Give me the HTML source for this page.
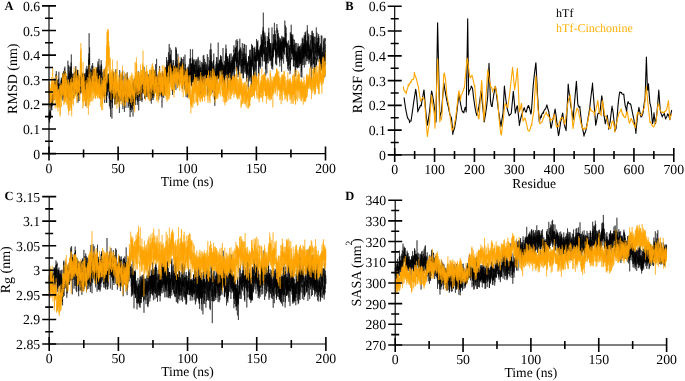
<!DOCTYPE html><html><head><meta charset="utf-8"><style>html,body{margin:0;padding:0;background:#fff;overflow:hidden}svg{display:block;will-change:transform}text{font-family:"Liberation Serif",serif;text-rendering:geometricPrecision}</style></head><body><svg width="685" height="381" viewBox="0 0 685 381">
<rect width="685" height="381" fill="#fff"/>
<g font-size="13.8" fill="#000">
<path transform="scale(.1)" d="M490 1201l1-51 0-14 1 55 0 6 1 7 1-39 0 7 1-30 1 84 0-104 1 27 0-23 1 21 1 13 0-31 1-26 1 29 0 3 1-34 0 47 1 36 1-67 0 19 1 52 1-30 0-27 1 18 0 15 1-61 1-55 0 25 1 27 1-41 0-30 1 30 0-29 1-33 1 40 0 36 1-42 1-12 0-42 1 87 0-4 1 4 1 40 0-72 1-42 1 43 0-83 1-1 0 6 1 10 1-24 0 96 1-61 1-19 0 102 1-69 0 6 1-49 1 43 0-10 1-21 1 51 0-56 1 14 0-26 1 39 1-67 0 2 1 37 1-29 0-43 1-41 0 153 1-79 1-4 0 26 1 53 1-103 0 97 1-67 0-60 1 131 1-30 0 42 1-70 1-89 0-55 1 182 0-10 1-73 1-70 0 39 1 74 1-37 0 5 1 11 0 30 1-53 1-13 0 17 1 12 1 61 0-27 1-104 0 45 1 85 1-133 0 4 1-89 0 90 1 58 1 74 0-138 1-114 1 164 0 40 1-62 0 66 1-12 1 2 0-31 1-63 1 46 0-40 1 69 0-24 1 144 1 3 0-135 1 44 1-59 0-14 1-52 0 16 1-6 1 68 0 59 1 20 1-8 0 38 1-24 0-37 1-33 1 28 0 110 1-86 1-44 0-69 1 12 0 84 1 31 1-169 0 31 1-62 1-39 0 182 1-25 0-13 1-10 1-2 0 21 1 7 1 118 0-57 1 22 0-54 1 22 1-67 0-35 1 24 1 6 0 16 1 41 0-9 1 20 1-56 0 9 1-38 1 121 0-118 1 79 0 20 1-33 1 16 0-54 1 43 1 45 0-2 1-152 0 43 1 98 1-54 0 93 1-208 1 169 0-90 1-33 0 131 1-86 1-74 0 12 1 19 1-44 0 40 1 1 0 32 1-44 1 97 0-93 1 62 1 59 0-84 1-118 0 14 1 107 1-52 0 64 1-6 0-16 1 163 1-127 0 47 1-10 1 50 0 18 1-36 0-135 1-101 1 87 0-53 1 79 1 139 0-103 1-52 0 45 1-39 1-32 0 92 1 70 1-66 0-22 1 4 0-94 1-82 1 126 0-40 1-30 1 6 0-22 1 95 0-50 1-105 1 55 0 116 1-51 1-62 0 45 1 78 0-123 1 159 1-76 0 14 1 89 1-142 0 20 1 113 0-89 1 47 1 119 0-49 1-81 1-50 0 18 1 15 0-25 1 42 1-86 0 48 1 6 1-15 0 108 1 7 0-153 1 40 1 55 0-27 1 51 1-37 0 56 1-49 0 117 1-169 1 79 0 100 1-66 1-9 0-40 1 82 0-84 1-254 1 271 0-35 1 35 1-24 0 134 1-8 0-115 1 0 1-119 0 129 1-23 1-200 0 198 1 68 0-41 1-13 1-64 0 30 1 70 1-46 0-187 1 40 0 298 1-97 1 21 0-100 1 23 1-138 0 25 1 9 0 55 1 22 1-12 0-81 1 30 0 70 1-98 1 37 0 19 1 70 1-13 0-17 1 178 0-209 1-129 1 122 0-129 1 74 1-31 0 188 1-116 0-153 1 84 1-157 0-8 1 207 1 211 0-235 1 15 0-22 1 86 1-40 0 115 1-52 1 42 0-90 1-9 0 50 1-20 1 31 0-58 1 20 1 75 0 22 1-155 0 85 1-51 1 27 0 76 1 36 1-51 0-25 1-32 0 122 1-11 1-39 0-131 1 240 1-124 0 31 1-59 0 47 1-47 1-99 0 53 1 11 1 8 0 80 1-66 0 32 1 51 1-39 0 3 1-70 1 35 0 44 1-127 0-6 1-22 1 38 0 61 1 41 1 1 0-88 1 33 0 123 1-67 1 77 0-90 1 67 1 25 0-91 1-13 0 107 1-139 1-142 0 215 1-169 1 128 0 23 1-16 0 86 1-169 1 6 0 90 1-5 1 85 0-57 1-107 0 158 1-44 1-54 0-80 1-44 0 116 1 54 1-67 0 40 1 9 1-94 0-69 1 80 0 57 1-37 1 164 0-83 1 50 1-228 0 51 1 56 0 42 1 178 1-174 0-116 1 133 1-60 0-21 1 154 0-129 1-67 1 61 0 39 1-48 1 150 0-70 1-88 0 135 1-117 1 64 0 137 1-99 1 31 0-82 1 81 0-134 1 86 1-52 0 51 1-4 1-109 0 37 1 53 0 75 1-150 1-16 0 69 1-21 1 83 0 22 1-9 0-87 1-23 1 67 0-87 1-29 1 34 0-51 1 78 0 11 1-39 1 22 0-53 1 127 1-151 0 111 1-11 0 84 1-116 1-81 0-11 1 12 1 174 0-2 1-24 0 26 1-140 1 25 0 23 1-29 1 95 0 25 1 7 0-95 1-17 1-19 0-41 1 160 1-6 0-53 1 91 0-31 1-118 1-40 0-10 1 71 1 39 0-78 1 79 0-25 1-77 1 99 0 47 1-28 0-49 1-7 1 21 0-20 1 146 1-8 0-74 1 55 0 47 1 5 1-19 0-58 1 41 1-76 0-127 1 91 0-73 1 48 1 114 0-27 1 42 1-111 0 103 1-145 0 9 1 186 1-143 0-100 1 136 1-87 0 171 1-96 0 107 1-118 1 124 0 95 1-186 1-189 0 147 1-58 0 33 1 40 1-54 0-89 1 174 1-75 0-9 1 123 0-180 1-78 1 183 0-136 1 77 1 38 0-107 1 59 0 11 1-82 1-8 0 26 1 166 1 64 0-176 1 91 0-41 1 64 1-53 0 55 1-197 1 132 0-1 1-28 0-119 1 172 1-101 0 34 1-135 1 36 0 26 1-113 0 216 1-162 1-116 0 129 1 79 1-129 0-281 1 306 0 83 1-142 1 235 0-93 1 37 1-70 0-214 1 132 0 58 1 26 1 278 0-35 1-215 1 18 0 130 1-131 0 164 1-167 1-46 0 121 1 68 0-109 1 97 1-106 0 113 1-107 1 20 0 42 1 44 0-65 1 130 1-77 0-13 1-81 1 112 0-176 1 91 0 86 1-154 1-66 0 112 1 84 1-40 0 39 1-15 0-137 1 41 1 30 0-4 1 27 1-56 0-19 1 83 0-5 1-166 1 93 0 72 1-136 1 103 0 109 1-91 0 86 1-1 1-59 0 15 1 50 1 0 0 4 1-123 0 98 1 18 1-178 0 131 1-105 1-19 0 99 1 121 0-97 1-45 1-35 0 54 1-66 1-33 0 166 1-130 0 49 1 67 1 4 0-157 1 18 1 200 0-71 1-6 0 0 1 22 1 74 0-145 1 84 1-17 0 9 1 11 0-104 1-6 1 71 0 39 1-25 1-110 0 25 1-2 0 39 1 7 1-35 0 134 1-207 1 108 0 15 1-134 0 40 1 23 1 50 0 83 1-99 1-103 0 117 1-128 0 139 1 12 1-85 0 11 1-49 1 88 0 45 1 73 0-25 1-17 1 19 0-117 1 34 0 103 1-287 1 149 0 76 1-155 1-40 0 152 1 69 0-12 1-155 1 57 0 53 1-40 1-99 0 154 1-25 0 65 1-232 1-44 0 48 1 92 1-27 0 191 1-112 0 84 1 25 1-36 0-35 1-76 1-29 0 22 1 94 0-87 1 32 1-81 0 124 1 171 1-111 0-221 1 56 0 65 1-55 1 10 0 9 1 72 1-19 0-15 1 56 0 52 1-73 1-81 0 0 1 11 1 3 0-146 1 124 0-17 1-69 1 115 0 20 1-49 1-60 0 82 1 23 0 28 1 102 1-134 0 58 1 124 1-74 0 92 1-21 0-79 1 43 1-128 0 146 1-80 1-45 0-78 1 17 0 53 1 30 1 19 0-79 1 106 1-51 0 29 1-15 0 35 1-160 1 153 0-18 1-6 1-26 0 6 1 4 0-40 1 167 1-59 0 72 1-83 1 77 0 7 1-60 0-120 1 21 1 26 0-72 1 146 0 126 1-81 1-33 0-118 1-102 1 218 0-207 1 3 0 53 1 49 1-134 0 127 1 77 1-21 0 100 1-101 0 10 1-29 1-11 0 96 1-141 1 123 0-100 1 148 0-97 1 55 1-43 0 35 1 119 1-40 0-98 1-70 0 129 1 85 1-64 0-67 1 9 1 16 0-114 1-45 0 4 1 122 1-35 0 8 1 91 1-138 0 16 1 47 0-121 1 9 1-3 0-25 1 28 1 151 0-16 1-104 0 96 1-29 1-32 0-84 1-14 1 27 0 87 1-52 0 13 1 57 1-89 0 37 1 102 1-114 0 76 1-38 0 141 1-62 1 50 0 19 1 74 1-265 0 86 1 0 0-61 1 73 1-23 0 128 1-69 1 24 0-57 1 8 0 115 1 68 1-38 0-138 1-20 1-1 0 174 1 101 0-119 1-56 1 2 0-68 1 16 1 77 0 2 1-73 0-18 1 4 1-167 0 131 1 11 0 83 1-22 1-72 0-25 1 43 1-27 0 14 1 141 0 141 1-359 1-3 0 61 1 138 1 7 0-190 1 238 0-105 1-119 1 15 0-41 1 51 1-168 0 193 1 82 0-94 1-113 1 71 0-56 1 96 1 76 0-165 1-62 0-14 1 135 1 93 0 29 1-59 1-74 0-18 1 136 0-78 1-10 1-8 0 7 1 16 1-51 0 19 1 0 0 67 1-56 1 20 0 151 1-140 1 11 0-80 1 54 0 13 1-16 1 13 0 36 1 108 1-228 0 178 1-35 0-83 1-3 1-12 0-18 1-40 1 58 0-167 1 233 0-18 1 37 1 26 0-51 1-98 1 127 0 40 1-90 0-13 1-106 1 34 0 69 1 62 1-20 0 22 1 92 0-70 1-7 1 1 0 15 1-147 1 27 0-9 1 107 0 61 1-35 1-49 0 29 1-3 1-84 0 22 1 99 0-10 1 13 1-56 0 78 1-48 0-78 1 25 1 74 0 0 1-55 1-42 0-40 1 59 0 101 1-167 1 31 0-1 1 7 1 97 0-23 1-49 0-71 1 46 1 242 0-136 1-86 1-94 0 12 1-126 0 39 1 16 1 35 0 173 1-107 1-16 0 75 1-59 0-8 1 60 1-7 0 7 1-36 1 33 0-59 1 158 0-71 1 78 1-65 0-92 1 8 1 11 0-12 1-110 0 158 1-97 1 143 0-32 1-57 1 55 0-60 1-55 0 122 1-45 1 9 0 114 1-92 1 16 0-149 1 114 0-151 1 118 1-144 0 60 1 25 1-16 0-10 1-39 0-33 1 141 1 109 0 136 1-123 1-116 0-7 1 18 0 40 1 33 1-13 0-52 1 142 1-137 0 116 1-57 0 18 1-13 1 47 0 23 1-59 1 47 0-241 1 137 0 59 1 11 1 42 0 113 1-124 1-78 0 109 1-75 0 67 1-65 1-48 0-23 1-4 0 81 1-90 1 67 0-38 1-37 1 62 0 88 1-109 0 92 1 12 1 18 0-136 1 31 1 159 0-170 1-146 0-25 1 162 1 1 0-32 1-38 1 50 0 95 1-105 0-22 1 133 1-30 0-55 1 3 1-38 0-29 1 9 0 49 1 103 1-111 0-89 1-69 1 124 0 39 1-95 0-26 1 70 1-5 0 106 1-64 1 83 0-23 1-7 0 25 1 127 1-53 0-99 1 0 1 25 0-51 1-33 0-20 1 114 1-24 0 20 1 46 1 60 0-81 1 33 0-207 1 100 1 41 0 27 1-155 1 158 0-9 1 44 0-32 1-14 1-86 0 156 1-52 1-133 0 114 1 10 0 54 1 140 1-139 0-134 1 79 1 123 0-116 1-21 0-73 1-15 1 78 0-25 1 150 1-165 0 16 1-60 0-17 1 92 1 18 0 57 1 103 1-112 0-54 1 72 0-109 1 11 1-23 0 81 1 96 1-155 0-35 1 41 0 33 1 1 1-11 0 24 1 114 0-166 1 114 1-50 0-17 1-47 1 122 0-170 1-10 0-13 1-40 1 137 0 209 1-186 1-127 0-25 1 114 0 2 1-26 1 144 0-40 1-17 1-164 0 112 1-127 0 74 1 143 1-239 0 158 1-69 1-100 0 132 1 91 0-136 1 28 1 102 0 19 1-43 1-112 0 55 1-52 0-87 1 1 1-13 0 9 1 209 1-143 0 20 1 38 0 80 1 60 1-17 0-86 1 56 1-9 0-18 1-97 0 38 1-1 1-108 0 87 1-40 1 107 0-69 1-7 0-6 1 43 1 53 0-37 1 1 1-109 0-23 1 145 0-88 1 53 1-53 0 52 1 88 1-154 0-5 1 119 0 84 1-71 1 25 0-51 1-86 1-88 0 106 1-91 0-14 1 113 1 123 0-144 1-25 1-134 0 29 1 56 0-48 1 181 1-34 0 24 1-137 1 44 0 276 1-236 0 92 1-94 1 63 0-32 1-37 0 19 1 91 1-144 0 30 1 39 1-42 0 77 1-151 0 75 1 14 1 6 0 91 1 45 1-86 0-36 1-81 0 40 1 124 1-80 0-48 1-28 1 40 0 123 1-136 0 95 1-66 1 134 0-128 1 71 1-114 0-85 1 19 0 174 1 36 1 5 0-110 1-9 1 9 0-9 1-21 0-13 1-79 1 102 0 11 1 150 1 8 0-44 1 22 0-96 1-89 1 80 0 27 1 9 1-44 0 35 1-62 0-10 1-6 1-33 0 43 1 3 1-117 0 96 1-33 0 43 1 50 1 15 0 29 1-51 1 28 0-4 1-121 0 62 1-73 1 39 0-33 1 97 1-26 0-189 1 74 0 9 1 57 1-29 0 137 1 20 1-87 0-57 1 73 0 4 1 14 1-8 0 70 1 38 1-86 0 93 1-30 0-32 1 18 1-88 0 20 1-20 1 62 0 0 1-92 0-17 1 56 1-45 0-1 1 1 0-103 1 114 1-26 0-9 1 46 1 82 0-111 1-2 0 16 1 6 1 3 0 67 1-66 1 131 0-87 1 80 0-59 1-93 1 43 0 28 1-63 1 39 0 20 1 6 0-136 1 21 1 21 0 126 1-91 1 112 0-94 1 89 0-194 1 205 1-149 0-13 1 184 1-55 0-137 1-19 0 199 1-23 1 43 0 4 1-26 1-185 0 68 1 48 0 24 1-64 1-20 0 112 1-139 1 144 0-14 1-56 0-109 1 118 1-11 0-77 1 26 1-29 0 0 1 57 0-8 1-23 1 62 0-99 1 233 1-8 0-175 1 21 0 86 1-49 1-65 0 99 1-67 1 43 0 12 1 1 0-85 1 135 1-13 0-79 1 112 1 60 0-140 1-1 0 9 1-20 1 74 0-259 1 204 1 19 0 75 1-51 0-158 1 61 1-25 0 69 1-148 1 75 0 123 1-111 0 48 1-57 1 14 0-5 1 6 0 77 1 65 1-162 0 30 1-21 1 46 0 126 1-18 0-201 1 97 1-1 0 78 1-46 1-25 0-20 1-17 0 36 1 5 1-40 0-37 1 21 1-130 0 74 1 24 0 67 1-103 1 118 0 80 1-24 1-122 0 91 1-152 0 49 1 124 1-58 0-163 1 143 1 76 0-110 1-91 0-6 1 97 1-8 0-11 1-65 1-90 0 138 1-58 0 103 1-36 1 99 0 18 1-82 1 71 0-107 1 73 0-26 1 6 1 21 0-26 1-78 1-170 0 261 1-29 0 27 1 63 1-70 0 64 1-40 1-108 0 205 1-104 0-45 1 88 1-82 0-10 1 48 1-98 0 154 1-98 0 35 1 70 1-43 0-1 1-84 1 142 0-51 1 3 0-148 1 151 1-114 0 171 1-102 1 5 0-35 1 66 0 112 1 4 1-207 0 18 1 84 1-105 0 88 1 27 0 43 1-161 1-105 0 184 1-37 1-62 0-102 1 301 0-97 1-68 1 136 0-97 1-13 0-42 1 83 1-48 0 61 1-70 1 12 0 44 1 89 0-196 1-20 1 12 0 117 1 13 1-144 0 27 1 124 0-27 1-15 1 20 0 62 1-141 1 6 0 59 1 118 0-35 1-52 1-79 0 67 1-87 1 43 0 79 1 174 0-65 1 4 1-98 0-65 1-95 1 74 0 105 1-224 0 82 1 65 1 20 0 85 1-119 1-18 0-94 1 7 0 19 1-23 1 105 0 42 1-17 1 82 0-58 1-6 0-76 1 27 1 144 0-96 1-131 1 198 0-20 1-63 0 76 1-35 1-57 0 84 1-93 1-37 0 110 1-63 0-98 1 62 1-28 0-24 1 55 1-74 0 21 1 104 0-80 1-51 1-13 0 101 1-52 1-83 0 58 1-54 0-27 1 90 1-25 0 60 1-81 1 59 0 47 1-24 0-5 1-36 1-18 0 113 1-4 1-76 0-32 1 15 0-181 1 55 1 104 0-30 1-54 0 54 1 171 1-86 0-22 1-162 1 242 0-176 1 70 0-61 1 72 1-12 0-75 1 46 1-59 0 64 1 52 0 0 1-6 1-24 0-114 1 133 1 100 0-102 1-183 0-10 1-20 1-15 0 189 1-57 1 167 0-20 1-203 0 175 1-12 1-58 0-49 1-159 1-57 0 88 1 60 0 244 1-212 1 11 0 17 1 6 1 16 0 23 1-69 0-71 1 51 1 17 0-52 1-92 1 185 0 76 1-96 0-98 1 80 1-49 0 105 1-40 1 93 0-81 1 14 0-3 1-72 1 4 0 121 1-69 1 167 0-141 1-173 0 110 1 34 1 43 0-43 1 81 1-58 0 53 1 27 0-33 1 5 1 126 0-242 1 69 1 156 0-158 1 34 0-6 1-38 1 106 0 184 1-152 1-71 0-76 1 107 0-3 1-51 1 38 0 6 1-34 1 81 0-165 1 134 0-29 1 18 1 33 0-79 1-56 0-49 1 51 1 90 0-68 1 148 1-63 0-54 1-18 0 122 1 65 1-213 0 96 1 115 1 4 0-88 1-114 0 56 1-73 1 51 0-11 1-30 1 84 0-25 1 36 0 30 1-69 1 29 0-47 1 84 1-81 0 84 1-181 0 95 1-42 1-195 0 346 1 83 1 2 0-128 1-225 0-65 1 8 1 116 0-104 1 7 1 89 0 220 1-85 0-99 1 79 1 43 0-86 1 136 1-210 0 188 1 19 0-75 1 13 1-7 0 24 1-4 1 36 0 91 1-147 0 88 1-40 1-79 0 26 1-191 1 245 0 25 1-55 0-112 1 83 1 112 0-156 1 102 1-24 0-88 1 87 0 6 1-67 1 30 0-28 1 82 1-36 0 60 1 53 0-229 1 26 1-26 0 130 1-31 1 6 0 90 1-118 0 55 1-20 1 89 0-157 1-29 1 17 0 100 1 3 0-128 1 70 1-20 0 4 1 92 0-167 1 209 1-100 0-7 1 110 1-111 0-46 1 21 0 73 1-70 1-71 0 45 1-95 1 35 0 17 1-40 0 140 1 32 1-67 0-21 1-79 1 2 0 73 1 19 0 43 1 21 1 12 0-95 1 73 1 14 0-34 1 40 0-8 1 142 1-145 0 7 1-32 1-24 0 157 1-264 0 85 1 25 1 150 0-132 1-24 1 51 0-30 1-85 0 93 1 71 1-142 0 38 1 45 1-168 0 110 1 59 0-13 1 45 1-31 0-4 1 61 1-10 0-42 1-16 0-19 1-20 1 35 0-7 1 66 1 11 0-91 1 196 0-113 1-239 1 299 0-157 1 193 1-95 0-121 1-25 0 169 1 80 1 36 0-147 1 39 1-20 0-24 1-18 0-15 1 28 1 135 0-184 1 254 1-218 0 69 1-10 0 22 1-6 1-29 0 9 1 65 1-126 0 68 1-124 0 73 1 61 1-67 0-55 1 117 0-15 1-131 1 141 0 29 1-69 1 83 0 116 1-25 0-157 1-69 1-17 0 10 1 122 1-105 0-67 1 117 0-88 1 70 1-22 0-19 1 131 1-180 0 116 1-20 0 22 1-62 1-17 0 23 1-95 1 53 0 69 1 203 0-131 1-38 1 32 0 7 1-105 1-65 0-82 1 29 0 147 1-27 1 110 0-123 1-9 1 69 0-17 1 6 0 29 1-135 1-174 0 115 1 17 1 73 0 59 1-172 0 138 1-16 1 33 0-44 1 34 1-37 0 126 1-50 0-125 1 140 1 15 0-148 1 26 1-42 0 230 1-109 0 72 1 30 1-125 0-95 1 170 1 20 0-34 1-45 0 74 1-245 1 51 0 85 1 36 1-200 0-55 1 187 0-8 1-71 1 161 0 4 1-145 1 108 0 14 1 72 0-23 1-115 1 79 0 59 1-33 1-189 0 63 1 73 0-31 1-32 1 15 0 150 1-112 1 4 0-78 1 141 0-137 1 76 1 115 0-192 1 81 0-41 1 28 1-86 0-26 1-9 1 27 0 183 1 61 0-121 1 50 1-92 0-3 1 117 1 8 0 11 1-14 0-55 1-83 1-75 0 153 1 14 1-154 0 4 1 52 0 211 1-39 1-99 0 27 1-186 1 88 0 12 1 109 0 29 1-21 1-9 0-31 1-56 1-6 0-59 1 160 0-71 1-22 1-109 0 105 1-10 1 84 0-68 1-18 0 73 1 8 1-28 0-54 1 114 1-119 0 57 1-151 0-13 1 138 1 59 0-215 1 75 1 27 0 83 1 3 0-69 1-6 1 107 0-122 1 33 1 107 0-116 1 55 0-57 1 85 1-45 0 139 1-109 1 112 0-95 1 176 0-133 1-101 1-12 0-55 1 156 1-152 0-49 1 197 0 27 1-6 1-44 0-28 1 192 1-174 0 12 1 60 0-130 1 60 1-96 0 18 1 70 1-94 0 0 1 99 0 114 1-49 1-102 0 34 1-144 0 71 1 24 1-8 0 94 1-31 1 30 0 137 1-3 0-193 1 31 1-16 0 96 1-39 1-116 0 17 1 50 0-141 1 76 1 45 0-101 1 189 1-117 0 91 1 2 0-9 1-64 1-19 0-20 1 2 1-93 0-49 1 60 0 14 1 89 1 82 0-104 1 11 1-60 0 187 1-287 0 216 1-37 1-82 0 155 1-16 1 109 0-13 1 35 0-145 1-58 1 29 0-110 1-43 1 94 0 44 1 18 0 21 1-128 1 45 0 57 1 12 1-57 0 57 1-37 0 16 1-100 1-12 0 191 1-37 1-74 0 65 1-76 0 14 1-16 1 47 0-14 1-20 1 146 0 2 1 9 0-204 1 46 1 8 0 18 1 59 1 34 0-109 1 60 0-131 1 68 1 28 0 34 1-3 1-9 0-116 1-98 0 238 1-35 1-44 0 109 1 11 1-10 0 146 1-190 0-5 1 2 1-13 0-17 1-162 0 114 1-18 1 97 0-37 1 38 1 0 0 55 1 7 0-96 1-50 1 6 0 88 1-47 1 202 0-206 1 15 0-23 1-74 1 99 0-82 1 88 1-56 0 55 1-46 0-99 1 118 1 29 0-10 1-57 1-185 0 153 1 151 0-19 1 10 1-47 0-135 1 67 1 123 0-79 1-82 0 17 1-180 1-41 0 155 1 122 1-133 0-25 1 222 0-134 1-147 1 168 0-33 1 67 1 80 0-162 1 34 0 60 1-80 1-3 0 218 1-120 1 59 0-47 1 51 0 30 1-130 1 40 0 32 1 12 1-25 0 1 1 180 0-61 1-66 1-94 0-73 1 153 1-172 0 90 1-3 0 79 1 31 1-147 0 84 1 16 1-92 0-70 1 227 0-31 1-22 1-147 0-93 1 167 1 17 0-30 1-31 0 104 1-57 1 104 0 182 1-44 1-134 0-84 1 210 0 30 1-127 1 217 0-236 1-106 0 276 1-205 1 13 0-118 1 53 1 55 0-11 1-66 0 38 1 23 1 120 0-112 1 0 1-139 0 100 1 36 0 52 1-87 1 42 0 51 1-161 1-63 0 150 1 89 0-140 1 107 1-250 0 151 1-39 1 159 0-50 1-105 0 16 1 80 1-208 0 68 1 92 1 55 0-11 1-131 0 122 1-25 1 56 0-145 1 64 1-62 0 3 1 86 0-75 1-43 1 148 0-99 1-252 1 222 0-8 1 149 0-95 1 52 1-92 0 36 1 96 1-149 0 56 1 77 0-62 1 62 1-89 0 9 1 27 1-75 0 129 1-136 0 190 1-223 1 42 0 46 1 52 1-84 0 32 1 10 0-91 1 87 1 10 0-48 1-65 1 76 0 0 1 9 0-51 1-74 1 166 0-11 1-10 1-53 0-86 1 93 0 8 1-68 1 164 0 12 1-21 1-41 0-29 1 50 0-161 1 142 1 5 0-98 1-4 1 59 0-11 1-38 0 53 1-35 1 110 0-43 1 122 0-22 1 12 1-185 0 81 1-37 1 85 0-33 1-3 0 44 1-120 1 160 0-132 1-197 1 213 0-3 1 123 0-83 1 110 1-155 0 44 1 118 1-8 0 21 1-97 0-117 1 64 1 79 0-2 1-76 1 178 0-185 1-43 0 214 1-224 1 154 0-66 1-130 1 184 0 72 1-38 0-11 1-79 1 6 0-2 1-1 1-27 0 45 1-82 0 0 1 80 1-202 0 185 1-104 1 87 0-62 1-33 0-39 1-57 1 160 0-245 1 120 1 132 0 82 1-268 0-26 1 123 1-25 0-51 1 81 1 64 0-12 1-73 0 43 1 113 1-124 0 159 1-29 1-167 0 31 1 10 0 10 1-69 1 65 0 171 1-123 1 227 0-13 1-291 0-46 1 109 1 2 0-12 1-76 1 120 0 47 1-6 0-62 1-28 1 45 0-76 1 121 1-38 0 38 1 40 0-166 1 74 1 77 0-57 1 66 0-108 1-51 1-30 0 158 1-24 1-165 0 116 1-85 0-45 1 219 1-141 0-4 1-11 1-70 0 79 1 54 0-24 1 69 1-48 0 187 1-242 1 108 0-53 1 3 0 16 1 3 1 6 0 138 1-48 1-153 0 130 1 42 0-241 1-1 1-29 0 117 1 11 1-36 0 3 1 50 0 125 1-23 1 54 0-232 1 89 1 8 0-36 1 9 0-38 1 78 1 93 0-237 1 125 1 17 0 28 1-15 0-51 1-72 1 118 0-73 1 55 1-136 0 150 1-62 0-71 1 142 1-76 0-29 1 68 1-28 0-108 1 27 0 58 1 1 1-53 0-84 1 13 1 7 0-66 1 226 0 59 1 81 1-224 0 179 1-126 1-101 0 139 1-18 0-38 1-91 1 152 0-102 1-60 1 24 0 6 1-86 0 56 1 35 1 36 0-66 1 54 1-57 0 26 1-72 0 130 1-30 1-31 0-13 1-60 0 39 1-27 1-91 0 62 1 168 1 81 0-139 1 39 0-40 1 25 1-110 0-24 1 178 1-56 0 28 1 89 0-127 1 24 1-37 0-172 1 39 1 31 0 128 1 101 0-162 1 74 1-3 0 32 1-30 1-191 0 159 1 47 0-24 1-13 1 113 0 80 1-71 1-51 0 30 1 27 0 2 1-44 1-34 0 115 1-61 1-86 0 16 1 94 0-68 1-25 1-110 0 162 1-145 1 42 0 19 1-61 0 88 1 39 1-56 0-86 1-10 1 99 0-20 1-130 0-60 1 245 1-140 0 48 1 61 1-16 0-3 1-31 0 28 1-10 1 76 0 11 1 2 1-128 0-57 1 89 0-76 1 114 1 40 0 99 1-91 1 28 0-32 1-43 0 48 1 83 1-58 0-18 1-12 1-55 0 55 1 20 0-153 1 10 1 94 0 94 1-11 1-70 0-56 1-141 0 168 1 18 1 45 0-20 1 30 0 63 1-146 1 25 0-83 1 115 1-24 0-39 1 190 0 11 1-159 1 5 0 150 1-41 1 11 0-42 1-170 0 114 1-170 1 126 0 76 1-158 1 2 0-34 1-56 0 53 1 1 1 232 0-1 1-100 1-11 0-45 1 81 0-101 1-103 1 81 0 4 1 28 1-25 0 47 1 71 0-36 1-4 1 128 0-100 1-14 1-18 0 52 1-64 0-32 1 96 1-53 0-51 1-13 1 128 0 47 1-69 0 64 1-260 1 183 0 54 1-98 1 62 0 165 1-121 0 29 1-26 1 80 0-31 1-67 1-26 0 76 1-8 0 10 1-76 1 1 0 89 1-120 1 69 0-65 1 86 0-68 1 15 1-9 0-39 1-5 1 21 0 6 1 118 0-58 1 152 1 50 0-137 1-47 1-149 0 22 1-29 0 103 1-28 1-63 0 31 1 23 1 27 0 88 1 24 0 49 1-131 1 14 0 35 1-70 1 53 0-113 1-103 0 84 1 115 1 96 0-247 1 46 0 142 1-138 1 175 0-44 1-30 1 2 0 60 1-263 0 140 1-20 1 21 0 134 1-46 1-74 0-81 1 77 0-36 1 44 1-61 0 224 1-177 1 42 0 8 1 180 0-88 1-160 1-185 0 185 1 52 1-77 0-9 1 68 0-15 1 12 1-77 0-36 1-89 1 40 0 32 1 50 0-46 1 138 1-209 0 88 1-64 1 158 0-102 1 23 0 52 1 54 1 32 0-205 1-16 1 86 0 20 1 79 0 112 1 33 1-84 0-61 1 61 1-141 0-19 1 23 0 161 1-76 1-38 0 86 1 99 1-300 0 13 1 84 0-134 1-1 1 53 0 34 1-34 1-67 0 90 1 51 0-51 1 258 1-159 0-7 1-35 1 3 0-41 1 5 0 3 1 16 1-42 0 65 1-103 1 183 0-98 1-52 0 124 1-32 1-153 0 70 1 80 1 193 0-212 1-44 0-56 1-133 1 124 0 24 1 73 0-30 1-12 1-67 0-3 1 105 1 8 0-149 1 145 0-95 1-100 1 47 0 46 1-76 1 59 0 48 1 29 0-102 1 5 1-65 0 132 1 38 1 20 0-51 1 63 0-112 1 13 1 110 0 194 1-34 1-274 0 38 1-6 0 46 1-52 1 171 0 57 1-14 1-140 0-94 1-8 0 45 1 105 1-135 0 46 1-9 1 1 0 31 1 28 0-2 1 57 1-108 0 2 1-96 1 199 0-181 1 46 0 20 1 58 1 18 0 60 1-178 1 36 0-66 1-30 0 96 1 7 1 11 0-109 1 39 1 6 0-43 1 49 0-160 1 192 1-121 0-49 1 190 1-106 0 13 1-46 0 153 1-72 1 77 0-32 1-151 1 77 0 196 1-14 0-23 1-190 1 84 0 87 1-205 1 11 0 20 1 76 0-204 1 127 1 111 0-51 1-29 1-96 0-98 1 153 0 106 1-404 1 205 0 27 1 31 0 152 1-209 1-24 0 87 1-63 1 114 0-21 1 98 0 2 1 92 1-119 0 15 1-3 1 72 0 30 1-35 0-98 1-12 1 79 0-55 1-136 1 96 0-125 1 92 0-43 1 139 1-94 0 163 1-65 1 29 0 144 1-7 0-202 1-6 1-66 0 71 1 274 1-175 0 16 1 0 0-5 1 26 1 23 0-171 1 12 1 95 0 7 1-110 0 16 1 20 1 123 0-28 1 51 1 78 0-206 1 37 0 18 1 50 1-125 0-146 1 79 1-6 0 175 1-66 0-23 1-111 1 84 0 104 1-45 1 14 0-156 1 17 0 29 1 11 1-54 0 87 1 65 1 69 0-180 1-80 0-4 1 89 1-133 0 95 1-143 1 247 0-96 1 128 0-70 1-43 1-33 0 73 1 98 1-141 0-52 1 11 0 75 1-30 1 168 0-47 1-136 1 11 0 113 1-104 0 50 1-55 1 157 0-23 1-76 0-20 1-26 1 40 0 26 1-47 1-46 0 179 1-42 0-21 1-34 1-79 0 168 1-99 1 154 0-33 1-28 0-28 1 21 1-2 0-15 1-10 1 125 0 3 1-76 0-101 1-68 1-170 0 171 1 124 1-42 0-53 1 28 0 107 1-47 1-17 0 105 1 16 1-191 0 221 1-129 0-4 1-135 1 23 0 126 1-136 1 105 0-175 1-27 0 129 1-33 1 34 0 96 1-124 1 0 0-23 1-44 0-33 1 22 1 50 0 44 1-27 1-24 0 49 1-145 0-3 1-84 1 221 0-8 1 53 1-20 0 25 1-34 0 22 1-182 1 49 0 133 1 31 1-105 0-8 1 86 0-97 1 161 1-28 0-187 1 295 1-107 0-129 1 52 0 65 1 28 1 102 0-31 1-120 1 14 0-41 1-3 0-36 1 146 1-64 0-17 1-7 1 46 0 120 1-192 0-72 1-148 1 87 0-47 1 72 0 100 1-41 1 123 0-75 1 6 1 80 0-160 1-39 0 42 1-16 1-72 0 123 1 138 1 8 0-129 1 1 0 141 1-184 1 34 0-102 1 9 1 132 0-4 1 68 0 28 1-35 1-76 0-90 1 157 1-81 0 29 1 30 0-99 1 92 1-114 0 107 1 82 1-113 0 148 1 24 0-76 1-37 1 13 0 141 1-8 1-152 0-46 1 113 0-71 1-16 1-71 0 122 1-142 1 101 0-111 1 11 0 160 1-8 1-51 0-74 1 173 1-20 0-98 1-19 0 121 1 23 1-100 0 88 1-75 1-80 0 48 1 234 0-244 1-72 1-44 0 33 1 217 1-190 0 31 1-41 0 75 1 28 1 6 0-149 1 62 1 55 0 104 1-113 0 4 1-12 1-73 0-1 1 57 1-3 0 10 1-50 0-16 1 39 1 92 0-113 1-41 1 146 0-76 1 39 0 158 1-128 1-121 0 100 1 29 1-134 0 132 1 25 0-45 1-91 1-27 0 86 1 8 0-32 1 29 1 47 0 33 1-136 1 36 0-242 1 109 0 147 1-17 1-32 0-12 1-7 1 0 0 49 1-49 0-139 1 175 1 48 0-74 1-63 1 14 0-24 1 91 0 50 1-71 1-17 0-90 1-19 1 295 0-161 1 51 0 128 1-158 1 67 0-13 1 32 1-20 0-82 1 206 0-112 1-72 1 14 0-6 1 1 1 163 0 1 1-78 0-100 1 46 1 81 0-31 1 163 1-22 0-55 1-42 0 9 1 4 1 76 0-27 1-74 1 150 0-6 1-72 0-172 1 15 1-68 0-1 1 145 1 13 0 96 1-166 0-14 1 9 1-5 0 15 1 26 1 2 0-77 1 140 0 63 1-67 1-117 0 40 1 47 1-74 0 39 1 175 0-31 1 78 1-124 0-40 1-77 1-178 0 155 1 13 0 24 1 192 1-119 0 39 1-153 1-21 0 21 1-92 0-45 1 133 1 9 0 43 1-67 0-207 1 255 1-156 0 65 1 38 1-55 0 142 1-101 0 155 1-16 1 25 0-198 1-59 1 59 0 39 1 99 0-156 1-20 1 35 0 94 1 47 1-6 0-117 1 152 0-43 1-137 1 21 0-63 1 90 1 27 0-69 1 42 0 39 1 82 1 104 0-212 1 92 1 57 0-115 1 111 0 72 1-40 1-53 0-41 1-32 1-45 0 75 1-15 0 37 1 55 1-68 0-16 1-125 1 65 0 127 1-67 0 50 1-133 1 228 0-14 1-3 1-65 0 3 1 121 0 57 1-148 1-149 0-42 1 139 1-29 0 101 1 77 0-195 1-13 1 79 0 25 1-98 1 18 0 59 1-34 0 12 1 35 1 36 0-124 1 76 1 80 0-222 1-21 0 52 1 63 1-3 0 133 1-75 1-48 0 23 1-46 0 83 1-53 1 126 0-87 1 20 1 63 0-58 1-52 0 34 1-116 1 98 0-105 1-15 0 104 1-135 1 186 0-99 1 9 1-54 0 173 1 20 0-21 1-76 1-27 0-2 1 23 1 44 0 68 1-57 0-95 1-68 1 103 0-96 1 169 1-123 0 116 1-71 0 76 1 25 1-27 0-167 1 121 1-69 0 18 1-7 0-2 1-27 1 141 0-58 1-44 1 64 0-58 1 96 0-114 1 82 1-11 0-92 1-51 1 118 0 41 1-120 0 277 1-260 1-75 0 168 1-132 1 24 0-1 1 224 0-82 1-50 1-1 0-2 1-10 1 205 0-156 1-7 0-52 1 16 1-36 0-33 1-133 1 170 0-156 1 108 0 84 1 70 1-170 0 140 1-156 1-3 0 73 1 27 0-86 1 0 1-48 0 46 1 55 1-70 0 119 1-134 0 25 1 102 1 22 0-50 1 105 1-231 0-35 1 160 0-32 1-158 1 57 0 133 1 132 1-4 0-233 1 3 0 133 1-126 1 51 0 41 1 0 0-6 1-178 1 161 0 5 1-141 1-56 0 187 1-195 0 21 1 217 1-206 0 208 1-115 1 117 0 88 1-193 0-23 1 35 1-11 0 21 1 20 1 72 0-113 1 10 0 26 1 35 1-13 0 99 1-70 1 35 0-174 1 133 0-2 1-37 1-74 0 7 1 39 1-165 0 130 1 13 0-195 1 243 1-79 0 19 1 153 1-10 0-120 1 154 0-59 1-108 1 66 0-21 1 73 1 19 0 6 1-18 0-85 1 23 1-147 0 75 1 48 1-148 0 154 1 106 0-46 1 89 1-103 0-100 1 31 1 99 0 9 1-49 0-70 1 109 1 35 0-111 1 38 1 2 0-9 1 101 0-20 1-106 1 70 0 23 1-35 1-18 0-185 1 224 0-10 1-159 1 117 0 6 1 155 1-157 0-40 1-10 0 79 1-20 1 29 0-69 1 52 1-51 0 160 1-36 0 195 1-169 1-122 0 45 1-217 1 219 0 9 1 52 0-63 1 0 1 64 0 17 1-336 0 112 1-120 1 203 0 13 1-124 1 85 0-107 1 115 0-105 1-25 1 11 0 101 1 217 1-112 0-69 1-64 0-63 1 154 1-205 0 108 1 198 1-168 0 10 1 9 0 155 1-58 1-58 0 8 1-65 1-67 0-41 1 9 0 119 1-119 1 84 0-25 1 83 1 121 0 108 1-172 0 21 1-51 1-89 0 176 1 73 1-147 0-54 1 40 0 32 1 98 1-97 0 25 1-90 1-69 0 105 1-51 0 1 1-42 1-83 0 47 1 10 1-5 0 99 1-6 0-31 1-85 1-30 0-93 1 250 1-12 0 136 1-60 0 73 1-212 1-30 0 144 1-76 1-59 0-101 1 45 0 70 1 40 1-49 0 12 1 69 1 83 0-166 1 96 0-11 1-92 1 43 0-87 1 146 1-106 0 137 1 60 0-37 1-102 1 33 0 48 1-179 1 53 0-2 1-91 0 68 1 48 1-94 0 83 1-66 0 125 1 40 1-86 0 98 1-74 1 35 0 20 1-75 0-8 1 295 1-137 0-70 1-53 1 76 0 76 1-84 0-71 1 209 1 17 0-69 1 149 1-120 0-153 1 112 0-64 1 67 1-88 0-44 1-68 1 84 0-58 1 36 0 86 1-136 1 131 0-25 1-197 1 73 0 164 1-44 0 59 1-17 1 108 0-110 1 116 1-127 0-38 1-51 0-132 1 286 1 47 0-2 1-38 1-131 0 61 1 39 0 58 1-25 1-26 0-35 1 99 1-83 0-80 1-6 0 131 1-135 1-40 0 29 1 137 1 59 0-112 1 56 0 43 1-176 1-54 0 5 1-55 1 17 0 178 1-142 0 44 1-14 1-100 0 63 1-76 1 104 0 66 1 47 0-35 1 117 1-100 0-25 1 28 1 152 0 39 1-229 0 72 1-173 1 124 0-54 1 139 1-28 0-44 1-81 0-115 1 28" fill="none" stroke="#000" stroke-width="5" stroke-linejoin="bevel"/>
<path transform="scale(.1)" d="M490 958l1-75 0-1 1-1 0-62 1 181 1 13 0 52 1-71 1-99 0 41 1-24 0 162 1-97 1 44 0-177 1 8 1-3 0 70 1-28 0-13 1 66 1 30 0-20 1 28 1 5 0-22 1 23 0-101 1 138 1-133 0 64 1 11 1 59 0-70 1-14 0-37 1 38 1-35 0-136 1 58 1 85 0-88 1 52 0-38 1-12 1 67 0 131 1-76 1-88 0 39 1-49 0-54 1 94 1-101 0-59 1 20 1 0 0 6 1-83 0 126 1 51 1-29 0 101 1 79 1-25 0-100 1-38 0 136 1 67 1-93 0-37 1-20 1-60 0-57 1 56 0-11 1 122 1 43 0-89 1-58 1-22 0 5 1-11 0-4 1 187 1-18 0-91 1-37 1 145 0-154 1 76 0 7 1-34 1-45 0 149 1-132 1 28 0 73 1-15 0 138 1-72 1-82 0 42 1-14 1-17 0-19 1-76 0 56 1 35 1-47 0-128 1 143 0-21 1 151 1-172 0 0 1-51 1 91 0 101 1-114 0-22 1 114 1 82 0-119 1 12 1-206 0 183 1 50 0-15 1 114 1-23 0-200 1 76 1 60 0 68 1-120 0-41 1 20 1 56 0-37 1-16 1 76 0-76 1 188 0-7 1-75 1-36 0 70 1-91 1-83 0 21 1 25 0-38 1 21 1 124 0-34 1-125 1 149 0-47 1 21 0 44 1 22 1-78 0-40 1-13 1 129 0-49 1-65 0-66 1 1 1-14 0-24 1 14 1 130 0-29 1 49 0 143 1-11 1-297 0 157 1 133 1-89 0-190 1 62 0-17 1 45 1-2 0-107 1 4 1 69 0-58 1-32 0 89 1-13 1-4 0 71 1-122 1 66 0 54 1 98 0-5 1-221 1 141 0-82 1 38 1-59 0-28 1 100 0-10 1-35 1-14 0 7 1 23 1-69 0-76 1 38 0 112 1-58 1 9 0-30 1-118 0 126 1 21 1 74 0-26 1 13 1-167 0 53 1 84 0-173 1 205 1-111 0-45 1 22 1 71 0 11 1 21 0-82 1 220 1-77 0-78 1 34 1 108 0-91 1 12 0-119 1-81 1 81 0 183 1-82 1 33 0-117 1-114 0 75 1-112 1 8 0 68 1 144 1-42 0 111 1-162 0 25 1-91 1 58 0 194 1-146 1-66 0-76 1 186 0 52 1-60 1 70 0 49 1-6 1-291 0 169 1 82 0-18 1-41 1-111 0-4 1 11 1 66 0 10 1 66 0 90 1-251 1 122 0-78 1 83 1 8 0 8 1 100 0-72 1-57 1-52 0 11 1-37 1 46 0 38 1 165 0-62 1-182 1 58 0-35 1 70 1 57 0-197 1 74 0-68 1 56 1 81 0 177 1-131 1 91 0 78 1-249 0-36 1-4 1 46 0 21 1-30 1 12 0 9 1-50 0 238 1-193 1 63 0-99 1-57 1 143 0-87 1-25 0 110 1 17 1-43 0 170 1-88 0-76 1 26 1 96 0-66 1-171 1-36 0 102 1 82 0-36 1-13 1 50 0-13 1-80 1-50 0 250 1-194 0 8 1-78 1 68 0-15 1-99 1 332 0-259 1 32 0 167 1 116 1-199 0 46 1-146 1 17 0 33 1-80 0 39 1-32 1-17 0 35 1-28 1-7 0 166 1-37 0-24 1 12 1 99 0-50 1-88 1-16 0-109 1 133 0 25 1 17 1-15 0 17 1 105 1-142 0-95 1-39 0 160 1-24 1-168 0 102 1-6 1 36 0-80 1-22 0-112 1 109 1 36 0 139 1-21 1 15 0-25 1 68 0-178 1 122 1-68 0 99 1-97 1-134 0 153 1-48 0 18 1-23 1-19 0 76 1-15 1 26 0 25 1 38 0-159 1 84 1-85 0-19 1 116 1-126 0 111 1-83 0-91 1 141 1 61 0 18 1-248 1 135 0 108 1-131 0 40 1 0 1 75 0 118 1-80 0 1 1 45 1-28 0-19 1-141 1-33 0 4 1 83 0 83 1-98 1-39 0-54 1 64 1 27 0-25 1 88 0 19 1-107 1 117 0-57 1-84 1 19 0-10 1 119 0-41 1 1 1-67 0-5 1 30 1-136 0 64 1 85 0 52 1-28 1 33 0-159 1 35 1 80 0 50 1 47 0-49 1-139 1-3 0 71 1 0 1 158 0-163 1 30 0-121 1 100 1 17 0-64 1-20 1-161 0 14 1 10 0 109 1-140 1 61 0-162 1 190 1-237 0-34 1 174 0-21 1 20 1-116 0 279 1-180 1 162 0 3 1 155 0-147 1-123 1 138 0-60 1 21 1 125 0-59 1 109 0-11 1-124 1 51 0 115 1-164 1 147 0-30 1 7 0-11 1 50 1 76 0-248 1 143 1 38 0 134 1-155 0-139 1-51 1-120 0 63 1 103 1 59 0-92 1 88 0 9 1 93 1-53 0-161 1 112 0-2 1 219 1-225 0 8 1-77 1 69 0 106 1 73 0-121 1 4 1 76 0-47 1 32 1-95 0 60 1 84 0-63 1 18 1-148 0 106 1 97 1-68 0-4 1-41 0-7 1 96 1-46 0-9 1 84 1-24 0-66 1 120 0-1 1-48 1-41 0-58 1 127 1-89 0-52 1-86 0 127 1 77 1 70 0-139 1-99 1 123 0-51 1-48 0-23 1 98 1-53 0 38 1 82 1-70 0-28 1 92 0-80 1-145 1 225 0-103 1-48 1 51 0-5 1 43 0-113 1 142 1-19 0 133 1-134 1-42 0 145 1-18 0-111 1 42 1 68 0 119 1-186 1-179 0 131 1-30 0-8 1 37 1-4 0-5 1 75 1-239 0-91 1 158 0-67 1 181 1 8 0-105 1 144 1 53 0-112 1 146 0-244 1 0 1 38 0-24 1 115 1 35 0-127 1-47 0 46 1 29 1 45 0-135 1 181 0 5 1-24 1 67 0 5 1-23 1-165 0-110 1 79 0 175 1-26 1-44 0-3 1 5 1-66 0 170 1-55 0-80 1-60 1 15 0 26 1 18 1 46 0-43 1 10 0 40 1-134 1-38 0 107 1-44 1-58 0 54 1 27 0-20 1 160 1 31 0-141 1-23 1-92 0 116 1-87 0-24 1-77 1 190 0 23 1-41 1-11 0 93 1-6 0 55 1-260 1 104 0 27 1 53 1-33 0-70 1 64 0-3 1-171 1 44 0 65 1 69 1-11 0 52 1-62 0 54 1 20 1-19 0 44 1-85 1-203 0 178 1 134 0-161 1 33 1-150 0 77 1-19 1 125 0 100 1-78 0-89 1 90 1 84 0-53 1-28 1-17 0-27 1-195 0 122 1 77 1 67 0-124 1 144 1-188 0 55 1 131 0-90 1-3 1-103 0 179 1-77 1-4 0-72 1 135 0 13 1-205 1 48 0 170 1-87 1 61 0 12 1 43 0-154 1 72 1-34 0 0 1 122 0-21 1-121 1 143 0-97 1 2 1-57 0-20 1-16 0 56 1 1 1 74 0 12 1-107 1 83 0-99 1-26 0 132 1-62 1 87 0-63 1 66 1-64 0-7 1 90 0-208 1 20 1 203 0-85 1 33 1-178 0 107 1-2 0 46 1-49 1 77 0 49 1-15 1-10 0-82 1 16 0 47 1 13 1 42 0-67 1 146 1-95 0-135 1 79 0 46 1-41 1 63 0 7 1-109 1 69 0-176 1 56 0 66 1 59 1-8 0 151 1-147 1-92 0-4 1 76 0-57 1-18 1 53 0-20 1-58 1 27 0 71 1-8 0-13 1 129 1-93 0-9 1 152 1 10 0-265 1 49 0-82 1 106 1-114 0 39 1 106 1-41 0-112 1-97 0 114 1 105 1 64 0-99 1-62 1 52 0 33 1-61 0 5 1 8 1 148 0-47 1-183 1 88 0-161 1 107 0 81 1-19 1-33 0 91 1-51 0 33 1-132 1 105 0-16 1 117 1 22 0-93 1 40 0-46 1-53 1-39 0 140 1-63 1-79 0 76 1 84 0-31 1-233 1 84 0-127 1 113 1-100 0 249 1-63 0-66 1-186 1 142 0-92 1 29 1-19 0 23 1-201 0 110 1-143 1 362 0-346 1-23 1-64 0-68 1 167 0 354 1-234 1-124 0-122 1 94 1-160 0 39 1 322 0 4 1-303 1-36 0 5 1 331 1-251 0 309 1-393 0 195 1-31 1-191 0 149 1 84 1-65 0 40 1 165 0 3 1-137 1-108 0 224 1-60 1-115 0 178 1-180 0 72 1 120 1 69 0 94 1-33 1-76 0 37 1 162 0-147 1-100 1-5 0-78 1 95 1 84 0 5 1 73 0-2 1-148 1-115 0 40 1 86 1 71 0-15 1 164 0-137 1-57 1 55 0 7 1 137 1-146 0-42 1 260 0-85 1-95 1-126 0 157 1-12 0-117 1 43 1 67 0 39 1-23 1 56 0-118 1 108 0-76 1-49 1-34 0 73 1 30 1-15 0 15 1-73 0 70 1-132 1-105 0 231 1-9 1 115 0-110 1-7 0 45 1 77 1-60 0-167 1-19 1 87 0 102 1-14 0 54 1 56 1-12 0-123 1-16 1 5 0 98 1 53 0-168 1 55 1-102 0 116 1-97 1 27 0 59 1 17 0-172 1 23 1 96 0-3 1 129 1-208 0-38 1 124 0-28 1 236 1-211 0-25 1 9 1-39 0 31 1 105 0 11 1-35 1-92 0 39 1 64 1-58 0 104 1-219 0 69 1 118 1-49 0-84 1 17 1-108 0 232 1-159 0 76 1-45 1-76 0 201 1 76 1-51 0 83 1 53 0-142 1-124 1 89 0-47 1-255 1 179 0 103 1 21 0-38 1 44 1-59 0 20 1-48 1 45 0 32 1 73 0 56 1-65 1-12 0-55 1 10 0 27 1-192 1 88 0-41 1 158 1-107 0-44 1 40 0 113 1-129 1 111 0 96 1 35 1-119 0 6 1-99 0-22 1-60 1 60 0 34 1 17 1 65 0 21 1-3 0-73 1 58 1-41 0-103 1 230 1-46 0-6 1-76 0 88 1-37 1-234 0 204 1-36 1-35 0 27 1 76 0-143 1 176 1-18 0-61 1 13 1-132 0 72 1-146 0 102 1-85 1 57 0 68 1 24 1-92 0 92 1-10 0 55 1 111 1-161 0-56 1 126 1-89 0 27 1 134 0-32 1-131 1-67 0 30 1-171 1 134 0 123 1 92 0-195 1 90 1 20 0 39 1 11 1-29 0-72 1-26 0 7 1-43 1 96 0 69 1-52 1 137 0-178 1-28 0-6 1 119 1-8 0-40 1 67 1 26 0-58 1-43 0 46 1-113 1-124 0 88 1 82 1 34 0-133 1 58 0-5 1 28 1 68 0-136 1 91 0-4 1 174 1-272 0 26 1 73 1 74 0 6 1 85 0-137 1 58 1-79 0-26 1-118 1 91 0 21 1-9 0 82 1-6 1-44 0-77 1 9 1 78 0-89 1 93 0 115 1-197 1 57 0 52 1 70 1-34 0-171 1 79 0-146 1 120 1-46 0 68 1 58 1 15 0-6 1 68 0 24 1-112 1-100 0 52 1 23 1 79 0-129 1-34 0 155 1-45 1 16 0 91 1-205 1-29 0 57 1-66 0 123 1-21 1-86 0 96 1-16 1 88 0-94 1-68 0 140 1 28 1-45 0-125 1 106 1 56 0-39 1-105 0 168 1-53 1-127 0 62 1 35 1-73 0 130 1-203 0 55 1 81 1-11 0 8 1 19 1 75 0-50 1 94 0-202 1 126 1 6 0 5 1-111 1 35 0-112 1 107 0-13 1 12 1 23 0-101 1-39 1-17 0 196 1-70 0 90 1 29 1 58 0-47 1-127 1-97 0-53 1 182 0 33 1-54 1-7 0-6 1 146 0-73 1-78 1 1 0 28 1 53 1-28 0-134 1 42 0-27 1-52 1 188 0-72 1-7 1-65 0 96 1 27 0 42 1-50 1 20 0-3 1-36 1 42 0 54 1-22 0 3 1-73 1-81 0 93 1 185 1-173 0-3 1 67 0-36 1-162 1 183 0 47 1-90 1 196 0-122 1-174 0-1 1-23 1 67 0-18 1-228 1 163 0-29 1 78 0-71 1 70 1-105 0 185 1 13 1-209 0 30 1 50 0-10 1-46 1 52 0-174 1 8 1 340 0-201 1 118 0-252 1-53 1-6 0 91 1 157 1-179 0 250 1 24 0-12 1-24 1-119 0-26 1 104 1-90 0 57 1-33 0 11 1-5 1 4 0 98 1-49 1 116 0-74 1-47 0 42 1 3 1-86 0-42 1-27 1 134 0 29 1-83 0-33 1 189 1-225 0-9 1 172 1-125 0 75 1 1 0 62 1 5 1-32 0-44 1 73 0-55 1 30 1-3 0 23 1-14 1-169 0 186 1 34 0-84 1 6 1 41 0-96 1 87 1-58 0-88 1 1 0 62 1-3 1-13 0-35 1 103 1-133 0-3 1-82 0 52 1 2 1 294 0-95 1-198 1 51 0 78 1-61 0 27 1-15 1 79 0-67 1-93 1 65 0 6 1 83 0-58 1 44 1 88 0-60 1-23 1-57 0-73 1 64 0 60 1-110 1 95 0 14 1-39 1-54 0 91 1-202 0 4 1 63 1 66 0 54 1-160 1 190 0-345 1 266 0-117 1 27 1 107 0-6 1 29 1-87 0 170 1-164 0-50 1 68 1 66 0 56 1 69 1-35 0-100 1-99 0 5 1-9 1 127 0 34 1 95 1-35 0 23 1-56 0-86 1 29 1 26 0-69 1-82 1 7 0 205 1-192 0 104 1 104 1-49 0-116 1 235 1-221 0 14 1-21 0 134 1-19 1 37 0-158 1 96 0-55 1 58 1 91 0-159 1-71 1-43 0 139 1-3 0-47 1 13 1 13 0-151 1 157 1-48 0 89 1-116 0 89 1 80 1-105 0 22 1 39 1 1 0 29 1-72 0-8 1-100 1 143 0-112 1 32 1 155 0-166 1 191 0-112 1 142 1-113 0 14 1-4 1 120 0-48 1-156 0-7 1 48 1 19 0 45 1-139 1 64 0-62 1 170 0 56 1-198 1 104 0-19 1-55 1-50 0 6 1 8 0-78 1 76 1-25 0 54 1 8 1-127 0 121 1 201 0-131 1-49 1-136 0 120 1 95 1-67 0-147 1 115 0-85 1 31 1-4 0 109 1-35 1 55 0-44 1 38 0-123 1 83 1 1 0 146 1-50 1-266 0 128 1 126 0-79 1-10 1 17 0-11 1 9 1-102 0 127 1-67 0-67 1 106 1-201 0 102 1 42 1 47 0-86 1 148 0-113 1-155 1 90 0-11 1 126 0-88 1 88 1 3 0-32 1-149 1 138 0 142 1-108 0-82 1-15 1 26 0-75 1 12 1 8 0 97 1 106 0-194 1 125 1-120 0-28 1 165 1 13 0-76 1-62 0 125 1-12 1 51 0 30 1-85 1 17 0 120 1-142 0 17 1 7 1 73 0-127 1-7 1 1 0 28 1-22 0-97 1 75 1 20 0 55 1-64 1 47 0 50 1-121 0 60 1 69 1 10 0-10 1 37 1-172 0 11 1 146 0-142 1 71 1-26 0 39 1-46 1-12 0-30 1-14 0 245 1-76 1-57 0-4 1 90 1-51 0-28 1 128 0-47 1-131 1 69 0-20 1-21 1-41 0-32 1-33 0 57 1 10 1 28 0-18 1 17 1-58 0-14 1 145 0 107 1-164 1 21 0 79 1-159 1-88 0 167 1 37 0-9 1 7 1-47 0 58 1-62 1 10 0-101 1 52 0-56 1-60 1 53 0 7 1 85 1-10 0-168 1 15 0 103 1 63 1 2 0-90 1 203 0-106 1 82 1-174 0 154 1-124 1 50 0-6 1-121 0 85 1-25 1 14 0 116 1-46 1-89 0 17 1 15 0 73 1-144 1 111 0-138 1 75 1-14 0 148 1-65 0 58 1-59 1-99 0 31 1 16 1-49 0 143 1-53 0 35 1-114 1 96 0-141 1-74 1 279 0-60 1 86 0-181 1 98 1-82 0-2 1 89 1 70 0-173 1 74 0-40 1-97 1 75 0 43 1 64 1-90 0 66 1 83 0-55 1-13 1 69 0-79 1-100 1-13 0-109 1 32 0 72 1 191 1-108 0-105 1 78 1-101 0 142 1-43 0-53 1-77 1 104 0-114 1 137 1 147 0-78 1-132 0 88 1-119 1 100 0-122 1 264 1-250 0 246 1-71 0 63 1-92 1 13 0 11 1-65 1-43 0 83 1-89 0 192 1 9 1 26 0-128 1-68 1 78 0 41 1 52 0-123 1-71 1 105 0 3 1 18 0-25 1-42 1 186 0-69 1-122 1 89 0-134 1-52 0 158 1 35 1-145 0 174 1 7 1 45 0-110 1-56 0-27 1 6 1 126 0-154 1 45 1 38 0-146 1 73 0 5 1-34 1-97 0 120 1-17 1 220 0-35 1-236 0-67 1 137 1 97 0 64 1 5 1-44 0 70 1-100 0-25 1 71 1 27 0-3 1-50 1-36 0-69 1 151 0-59 1-45 1-36 0-49 1 79 1-100 0-108 1 105 0-51 1 26 1 47 0 63 1-17 1-139 0 104 1 94 0 6 1-92 1 76 0-91 1-15 1 31 0-95 1 190 0 1 1-27 1-52 0 113 1-24 1-144 0 82 1-72 0 63 1 57 1-78 0-82 1 75 1 114 0-6 1-25 0-23 1 42 1-106 0 95 1-121 1 112 0 27 1-147 0-15 1 73 1 39 0-16 1-25 1-25 0-65 1 117 0-28 1-12 1 100 0-157 1-83 0 99 1 156 1-23 0-136 1 175 1 51 0-96 1-99 0-56 1-34 1 239 0-59 1 10 1 2 0-128 1-12 0 80 1-47 1-13 0-81 1 109 1-52 0 80 1-60 0 16 1-17 1 15 0-106 1 127 1 55 0-12 1-75 0-43 1 42 1 56 0-3 1 19 1-78 0 14 1-14 0 8 1 3 1-74 0 93 1-36 1-12 0 80 1-140 0 56 1 114 1-111 0-5 1-12 1 62 0 30 1-27 0 98 1-76 1-17 0-62 1 60 1-40 0 130 1-7 0-110 1-80 1 16 0 169 1 19 1-24 0-134 1 87 0-32 1-25 1-7 0 39 1-22 1-44 0 32 1 26 0-51 1-68 1-87 0 223 1-33 1 2 0 84 1-32 0 18 1 25 1-20 0-93 1 87 1-9 0-30 1 50 0 30 1 34 1-48 0-163 1 165 1-127 0 83 1 29 0-111 1-19 1-11 0 40 1-49 0 90 1-40 1-56 0 53 1 74 1-154 0 84 1 79 0-88 1-71 1 29 0 131 1-47 1-31 0-31 1 134 0 30 1-92 1-14 0-35 1-58 1 157 0 33 1-27 0-154 1 74 1-59 0 215 1-114 1-83 0-58 1 130 0-151 1 152 1-113 0-53 1 110 1 120 0-210 1 64 0 130 1-79 1 83 0-58 1 73 1 105 0-172 1 44 0-25 1-22 1 13 0 42 1-59 1-34 0 16 1 46 0-13 1-106 1-9 0 97 1-30 1-8 0-1 1 37 0-19 1 51 1-56 0-4 1-11 1-2 0 8 1 97 0 58 1-74 1 16 0-73 1 75 1 10 0 67 1-65 0 0 1-105 1 43 0-79 1 128 1 97 0-157 1-6 0-76 1 133 1 115 0-195 1 31 1 70 0-167 1 95 0 89 1-56 1 46 0 36 1-75 1 4 0 18 1 2 0 87 1-115 1-117 0 80 1-44 0-61 1 134 1 73 0 42 1-21 1-94 0 37 1-81 0 101 1-127 1 97 0 15 1-6 1 19 0-2 1-48 0 35 1-27 1 76 0 24 1 52 1-130 0 69 1-65 0 4 1 1 1 26 0-47 1-8 1-80 0 107 1 43 0 73 1-210 1 137 0-61 1-13 1 134 0 2 1-91 0 24 1 97 1-65 0-112 1 48 1 3 0-48 1-71 0 126 1 82 1-10 0 27 1 72 1-61 0 40 1-139 0 54 1 191 1-49 0-109 1 34 1 28 0-8 1 20 0-92 1 48 1 46 0-106 1 109 1-65 0 66 1-19 0-2 1 43 1-23 0-150 1 135 1-175 0 27 1-45 0 127 1-72 1 38 0-118 1 134 1-77 0 103 1-109 0 89 1 76 1 38 0-46 1-161 1 146 0 6 1-47 0-26 1-22 1-103 0 92 1 113 1-120 0 42 1-4 0-28 1-111 1-10 0 78 1 48 1-43 0 69 1 90 0-52 1-132 1 73 0 8 1-136 0-44 1-16 1 151 0-45 1-74 1-1 0 97 1 18 0 42 1-3 1-62 0-21 1 79 1-81 0 8 1-75 0 104 1-21 1 165 0-160 1-33 1-30 0 48 1 16 0 11 1-86 1 126 0-23 1-54 1 52 0 55 1-27 0-48 1-101 1 116 0 148 1-174 1 18 0-35 1 39 0 7 1 134 1-130 0 75 1-97 1 149 0-166 1 44 0 161 1-117 1-33 0-9 1 80 1-204 0 124 1-64 0 219 1-146 1-35 0 24 1-78 1 102 0-41 1 23 0-16 1 81 1-88 0-20 1 9 1 1 0 47 1 29 0-19 1-46 1 93 0-48 1-129 1 17 0 117 1-114 0 164 1-53 1-106 0-1 1 21 1 99 0 71 1-127 0-21 1-102 1 124 0 70 1-15 1 83 0-74 1-41 0-5 1-135 1-46 0 135 1 55 1-107 0-19 1 150 0 10 1 5 1 36 0-38 1 36 0-125 1-20 1 143 0-28 1-12 1-139 0 98 1-74 0-72 1 149 1-52 0 14 1-49 1 140 0-26 1 81 0-137 1 141 1-95 0 84 1-32 1-3 0-62 1-52 0-55 1-32 1 82 0 102 1-127 1 129 0-44 1 33 0 6 1-54 1 74 0-49 1-17 1-82 0-30 1 15 0 52 1-97 1 23 0 158 1-59 1-31 0 80 1-49 0 23 1 44 1-53 0 30 1 50 1-71 0 106 1-174 0 49 1-16 1-64 0-19 1 78 1-20 0-51 1-47 0 136 1-35 1 83 0 11 1-53 1-7 0 58 1 2 0-55 1 76 1-87 0 66 1-157 1 35 0-28 1 67 0-81 1 15 1-13 0 39 1-23 1 40 0-37 1 50 0 14 1-28 1-5 0 8 1 53 1-20 0-87 1 29 0-7 1 56 1-114 0 74 1-30 1 31 0-74 1 165 0 85 1-90 1 119 0-79 1-27 0-42 1-74 1 116 0-93 1-78 1-48 0 170 1 1 0-154 1 150 1-99 0 23 1-5 1 149 0 27 1-29 0-110 1-45 1 95 0-43 1-3 1 76 0 33 1 68 0-32 1-31 1-147 0-19 1 67 1-16 0 74 1 125 0-139 1-62 1 73 0-114 1-23 1 10 0 185 1-75 0-62 1 84 1 2 0-92 1-109 1 50 0 53 1 65 0 59 1 2 1-84 0 35 1-115 1 146 0 32 1-66 0-39 1-4 1 78 0 1 1-115 1 54 0 24 1-69 0-5 1 25 1-106 0 175 1-65 1 47 0-92 1 104 0-77 1 49 1-182 0 100 1-102 1 164 0 45 1-51 0 123 1-16 1-169 0-24 1 83 1-64 0 25 1 7 0 99 1-99 1 73 0-115 1 135 1-197 0 155 1 93 0 14 1-95 1-22 0 58 1-80 1-102 0 93 1-14 0-13 1-3 1 173 0-164 1 53 0 4 1-69 1 238 0-159 1-14 1-96 0 58 1-48 0 3 1 152 1-30 0 37 1-32 1 45 0 56 1-74 0-10 1-55 1-96 0 106 1 24 1-90 0-11 1 169 0-54 1 83 1-16 0-30 1-31 1-1 0-34 1-19 0-89 1 26 1 132 0-122 1 32 1 108 0 20 1-63 0-24 1-23 1 117 0-43 1-175 1 202 0 34 1-82 0-42 1 45 1-36 0 7 1 50 1-39 0 6 1-43 0-36 1 95 1-28 0 56 1-29 1-42 0-50 1 82 0-68 1 26 1 19 0 3 1 25 1-56 0 90 1-86 0 37 1-119 1 94 0-27 1-35 1-14 0-57 1-24 0 109 1 54 1-108 0 33 1 42 1 4 0-54 1-13 0 189 1-32 1-25 0 22 1-132 1-47 0 75 1-80 0 90 1-84 1 12 0 39 1-9 1 63 0-87 1 71 0-42 1 79 1 23 0-52 1-17 1-79 0 73 1-12 0-7 1-106 1 90 0 111 1 58 0-51 1-43 1 70 0 23 1-4 1-59 0-57 1 69 0 29 1-126 1-69 0 60 1 90 1 28 0-73 1 137 0 32 1-154 1 110 0-11 1-186 1 111 0-85 1 81 0 77 1-77 1 13 0-57 1 134 1-91 0-7 1-42 0 22 1 89 1-124 0-11 1-4 1 19 0 22 1 67 0 99 1 16 1-86 0 111 1-73 1-117 0 80 1-158 0 184 1-96 1 141 0-106 1-116 1 92 0 87 1 19 0-111 1-46 1 16 0 64 1 57 1 0 0 13 1 39 0-160 1-61 1-21 0-33 1 145 1 123 0-98 1 2 0 56 1-84 1 32 0-65 1-1 1 79 0-30 1 25 0-49 1 11 1 61 0-71 1 23 1 0 0-18 1-142 0 75 1 60 1 46 0 78 1-81 1-27 0 28 1-76 0-2 1-19 1 53 0-97 1 30 1 85 0-15 1-71 0 86 1-99 1 80 0 112 1-130 0 42 1-23 1 3 0-78 1 46 1-42 0 96 1-30 0 31 1-28 1-149 0 143 1-31 1 37 0-38 1 70 0 2 1 76 1-166 0 26 1-4 1 99 0-148 1-20 0 89 1-15 1 32 0-69 1 179 1-97 0-35 1-47 0 106 1 15 1 26 0-120 1-4 1-43 0 2 1 12 0 118 1-25 1-104 0 31 1 94 1 20 0-19 1-19 0-28 1-2 1-29 0-45 1 13 1 110 0-163 1 94 0 57 1-95 1-47 0 43 1-39 1 82 0 23 1 68 0-116 1 18 1-87 0 96 1-62 1 45 0-87 1 78 0-66 1 134 1 2 0 6 1-97 1 167 0-9 1-88 0-11 1-4 1-31 0 31 1-47 1-52 0 123 1-102 0 97 1 63 1-59 0-14 1-30 1 82 0-41 1 20 0-99 1 33 1 52 0 43 1-52 1-138 0 188 1-7 0-122 1-22 1 70 0 15 1 24 0 37 1-27 1-60 0-8 1 114 1-48 0 15 1-113 0 129 1 24 1 20 0-299 1 23 1 131 0-36 1 160 0-44 1-172 1 105 0 104 1-10 1-3 0-27 1-8 0 21 1 71 1-68 0-21 1 93 1-107 0 14 1-114 0 45 1 84 1 41 0-155 1-8 1 39 0-8 1 137 0-118 1 47 1 9 0-63 1 11 1 135 0-96 1 24 0-78 1 38 1-15 0 95 1 19 1 24 0-84 1 54 0-23 1-163 1 26 0-89 1 168 1 59 0-10 1-71 0 70 1-158 1 135 0-103 1 121 1 26 0-67 1 5 0 22 1 15 1-43 0 44 1-141 1 26 0 27 1 103 0-212 1 96 1 93 0 44 1 117 1-83 0 65 1-15 0-180 1 54 1 46 0-146 1 105 1-140 0 105 1-10 0 46 1 24 1-40 0-86 1 56 1 86 0 73 1-164 0 72 1 44 1-84 0-26 1-16 0 71 1 104 1-124 0 0 1 2 1 54 0-74 1 8 0-12 1-63 1 75 0 30 1 7 1 84 0-52 1-101 0-16 1 81 1 67 0-86 1 1 1-6 0-86 1 83 0-60 1 33 1-22 0 91 1-13 1-28 0 22 1-8 0 20 1-127 1 218 0-126 1 8 1 80 0-8 1 53 0-117 1-43 1 7 0-75 1 188 1 32 0-43 1-85 0-11 1 94 1-41 0-59 1 125 1-90 0-50 1-24 0-7 1 85 1 139 0-3 1-31 1-50 0-76 1 22 0-10 1-73 1 166 0-67 1-45 1-53 0-75 1 51 0 149 1-60 1 74 0-57 1 49 1 9 0-47 1 43 0-32 1 0 1-38 0 61 1 52 1 55 0-125 1-47 0 93 1 79 1-137 0 1 1-47 1 34 0-67 1 36 0 40 1-53 1 118 0-34 1-19 1 21 0-33 1 37 0 90 1-199 1 63 0 36 1 83 1-67 0-3 1 75 0-139 1-28 1 167 0-115 1 63 0-80 1-7 1-34 0 18 1-52 1 96 0 29 1 6 0 10 1-162 1 74 0-49 1 50 1 35 0-56 1 82 0-60 1-57 1 56 0 12 1 37 1-59 0-35 1-20 0 84 1-3 1 51 0-64 1-39 1 21 0 18 1-26 0-4 1-14 1 67 0 26 1-14 1 18 0-70 1-130 0 78 1 129 1-16 0 5 1-93 1-13 0-101 1 72 0 35 1-79 1 113 0-26 1-82 1 30 0-3 1 81 0 62 1-61 1-101 0 67 1 52 1 44 0-203 1 155 0-13 1 30 1-106 0 116 1 17 1-97 0 86 1-109 0-74 1 45 1 181 0-65 1-44 1-113 0-45 1 19 0 66 1 39 1 3 0 35 1-1 1 10 0-31 1-91 0 140 1-158 1 31 0-7 1 56 1 19 0-74 1 82 0 58 1-35 1 22 0-112 1 43 1-12 0 28 1 13 0-68 1 33 1-65 0 191 1-84 0-53 1 46 1 123 0-74 1-5 1-102 0-22 1 1 0 52 1 9 1 8 0-50 1 49 1-23 0-21 1 53 0 0 1 54 1 43 0-16 1 2 1 52 0-89 1-70 0-25 1-45 1 95 0-127 1 125 1 2 0-70 1 164 0-78 1-20 1-120 0 136 1-10 1 164 0-105 1 68 0 2 1-120 1 45 0 58 1-114 1 3 0 36 1 82 0-27 1 29 1-56 0-11 1-19 1 29 0-17 1-79 0 63 1-68 1-15 0-4 1 158 1-115 0 7 1-18 0 39 1 12 1 56 0 23 1-88 1 48 0-13 1-94 0-53 1 74 1 139 0-105 1-70 1 32 0 36 1 57 0-64 1-182 1 76 0 82 1 61 1-68 0 93 1-28 0-26 1-6 1-46 0 16 1 77 1 79 0-115 1 141 0-38 1-229 1 107 0-105 1 99 1-33 0-32 1-39 0 79 1 77 1-48 0 81 1 23 0-151 1 72 1-110 0-30 1 116 1 12 0-10 1-82 0 39 1-62 1 57 0-57 1 65 1-76 0 9 1-31 0 15 1 172 1-172 0 59 1 117 1-17 0 17 1-91 0 36 1-13 1-63 0 137 1 42 1-91 0 82 1-124 0 91 1 18 1-105 0-78 1 78 1 51 0 77 1-41 0-5 1 42 1-26 0-92 1 21 1 175 0-210 1-28 0 141 1-114 1 118 0-74 1 3 1 71 0-61 1-5 0-5 1 90 1-99 0 35 1-91 1 4 0 11 1 113 0-158 1 54 1 40 0 47 1-20 1-78 0 174 1-107 0 77 1 1 1-85 0-29 1 39 1-26 0-81 1 61 0 93 1-19 1-5 0-114 1 78 1 106 0 9 1-158 0-2 1 102 1 49 0-124 1 92 1-38 0-76 1-13 0 96 1-65 1 115 0-81 1 29 1 91 0-172 1 42 0-29 1 46 1-194 0 20 1 118 0-104 1 35 1-35 0 222 1-80 1 62 0-40 1 3 0-38 1 133 1-65 0 49 1-142 1 6 0-20 1-30 0 6 1 90 1-17 0 119 1-53 1-21 0-15 1-42 0 10 1-109 1 15 0 60 1 40 1 27 0-101 1 93 0-77 1 104 1-32 0 64 1-88 1-12 0 42 1 81 0 96 1-108 1-132 0 86 1-50 1 61 0-82 1 73 0-117 1 101 1-9 0-130 1 50 1 25 0 21 1-29 0 78 1 31 1-155 0 47 1 0 1 12 0-7 1-70 0 40 1 30 1 39 0-38 1-74 1 82 0 18 1-98 0 31 1-47 1 120 0 16 1 22 1-86 0 95 1-102 0 4 1-34 1-33 0-20 1 202 1-127 0-70 1 72 0-47 1-13 1-12 0 110 1-119 1 129 0-77 1-33 0-7 1 6 1-67 0 30 1 26 1-43 0 152 1-17 0 43 1 20 1-136 0 14 1-82 0 30 1 243 1-92 0-18 1 9 1-145 0 97 1-73 0 53 1 19 1 38 0-135 1 72 1 85 0-46 1 87 0-147 1 116 1 4 0-55 1 62 1-136 0 54 1 9 0 5 1 9 1-5 0-118 1 106 1 81 0-119 1-16 0 85 1 26 1-101 0 42 1 28 1 14 0 37 1-69 0 106 1 21 1 48 0-60 1 15 1-84 0 38 1-23 0-60 1 19 1 52 0 8 1 15 1-45 0-17 1-86 0 12 1 25 1 70 0-41 1 75 1 77 0-127 1-62 0 240 1-195 1 110 0-7 1-97 1 13 0-5 1 62 0-130 1 50 1 18 0-116 1 69 1-16 0-20 1 44 0 97 1-92 1 51 0-110 1-21 1 259 0-247 1 137 0-58 1-27 1 22 0-19 1-69 1 45 0 43 1-4 0 8 1 10 1-2 0 5 1-67 1 80 0 51 1-136 0 59 1-81 1 49 0 79 1-59 1-111 0 138 1 12 0 82 1-89 1-1 0-148 1 237 0-101 1-4 1-31 0 43 1-16 1 45 0 6 1-78 0 190 1-171 1 67 0-22 1-84 1-25 0 55 1 33 0 100 1-63 1 1 0 17 1 43 1-51 0-51 1 59 0 81 1-109 1 65 0-3 1-19 1 3 0 40 1-5 0-48 1 12 1-37 0-53 1-36 1 126 0 13 1-17 0-7 1-40 1 7 0 117 1 23 1-108 0-86 1-29 0 38 1 14 1 110 0 47 1-78 1-204 0 48 1 106 0 52 1 2 1 11 0-123 1 113 1-67 0 48 1-43 0-63 1 46 1 11 0 61 1 11 1-143 0 96 1 0 0 64 1-82 1 59 0-54 1 25 1 27 0-60 1-45 0 107 1-101 1 21 0-34 1-28 1 92 0 14 1-29 0-62 1 198 1-191 0 60 1 108 1-62 0 35 1-172 0 96 1 38 1-4 0 34 1-57 1-43 0 14 1 69 0-92 1 35 1 18 0-78 1 34 0 193 1-148 1 107 0-11 1-55 1-49 0-27 1 40 0-64 1 3 1 47 0 94 1-103 1 75 0 0 1-16 0 3 1 101 1-107 0 22 1-6 1-93 0-93 1 66 0 84 1 16 1-108 0 40 1 84 1-188 0 33 1 101 0 31 1 69 1 53 0-127 1 27 1-131 0 85 1-7 0-64 1 122 1-84 0 110 1-221 1 171 0 21 1-205 0 123 1-38 1 39 0 149 1-103 1 35 0-162 1 133 0-140 1 92 1-22 0-144 1 147 1 43 0-52 1 90 0-95 1-29 1 45 0 129 1 72 1-72 0-46 1 105 0-99 1-51 1-15 0-83 1 88 1-25 0 65 1-96 0 50 1 11 1-15 0 130 1-150 1 52 0-9 1-6 0-183 1 112 1 71 0-10 1 8 1 3 0-29 1-65 0 117 1-62 1 16 0-11 1-59 1 55 0 169 1-156 0-49 1-13 1 84 0-129 1 82 0 67 1-157 1 236 0-133 1-31 1 48 0 43 1-134 0-22 1-35 1 90 0 35 1 5 1 85 0-142 1-34 0 17 1 143 1-33 0-45 1-24 1 76 0-67 1-83 0 164 1 2 1 61 0 27 1-43 1-73 0-33 1 32 0-60 1 3 1 74 0-44 1 23 1 8 0 78 1-83 0 59 1-117 1 69 0-39 1 64 1 100 0-85 1 51 0-45 1 8 1-150 0 101 1 22 1 12 0-112 1 61 0 29 1-96 1-8 0 98 1 118 1-110 0 14 1 53 0-65 1-3 1 86 0-95 1-3 1-66 0 80 1-77 0 67 1 31 1-9 0-31 1 87 1-114 0 26 1-32 0 37 1-5 1 12 0 107 1 44 1-61 0-170 1 147 0-55 1-58 1 79 0-42 1 16 1-136 0 41 1 166 0-23 1 63 1-47 0 20 1 16 1-152 0 19 1-1 0-41 1-26 1 55 0 157 1-143 0-2 1 150 1-53 0 27 1 15 1-130 0 62 1-14 0 30 1-112 1 132 0-46 1-80 1 34 0 60 1 65 0-159 1-13 1 10 0 26 1-48 1-1 0 131 1-56 0-86 1-53 1 223 0-130 1-99 1 40 0-56 1 94 0-3 1 28 1 19 0-70 1 33 1-62 0 4 1 105 0-97 1 180 1-72 0-4 1 26 1-76 0-96 1 5 0 31 1 109 1-82 0 44 1 13 1-53 0 52 1 14 0-66 1 40 1-81 0 113 1-99 1-25 0 24 1 80 0-93 1 71 1-96 0 9 1 100 1-61 0-37 1-10 0 35 1 7 1-110 0 63 1-8 1 32 0 117 1-97 0 21 1-9 1 16 0 44 1-1 1 11 0-73 1 46 0 2 1 48 1-121 0 47 1-4 1-29 0 73 1-34 0-53 1-104 1 91 0 50 1-20 1 34 0 82 1-51 0-6 1-43 1 187 0-135 1-27 1-27 0 31 1-21 0 100 1-30 1 12 0-131 1-1 0 71 1 98 1-90 0-53 1 86 1-48 0 3 1-46 0 7 1 42 1-2 0-111 1 7 1-31 0 57 1 11 0-70 1 98 1-7 0-9 1 95 1-187 0 185 1 40 0-23 1-78 1-64 0-74 1 43 1 101 0-47 1 120 0-164 1 56 1 161 0-99 1-61 1 90 0-15 1-16 0-30 1 74 1-100 0 31 1 134 1-34 0-163 1-77 0 44 1 52 1 51 0 81 1 19 1-183 0 195 1-111 0-137 1 37 1 135 0-30 1-65 1 81 0-20 1-87 0 100 1-33 1-41 0 6 1 5 1-43 0-34 1-28 0-14 1 47 1 83 0 44 1-98 1 65 0 72 1-64 0 26 1-25 1 87 0-45 1-123 1 27 0 90 1-2 0-91 1 19 1-15 0 118 1-65 1 2 0-6 1-139 0 111 1 44 1-20 0 75 1-19 1 30 0-69 1 10 0 85 1-55 1 18 0 70 1-97 0-143 1 240 1-110 0-143 1-19 1-33 0-45 1 81 0-52 1-3 1 112 0 104 1-216 1 0 0 83 1 78 0 71 1-95 1 7 0 36 1-13 1-62 0 9 1-14 0 104 1-160 1 23 0 31 1-3 1 72 0-52 1 2 0 3 1-96 1 22 0 93 1 70 1-87 0 49 1-19 0 3 1 88 1-118 0 24 1 37 1-49 0 17 1 31 0 135 1-137 1-120 0 41 1 10 1 14 0 24 1 69 0-244 1 93 1 38 0-29 1-121 1 229 0-87 1 95 0-18 1-44 1 15 0-30 1 37 1-206 0 158 1 112 0-94 1-34 1 97 0-135 1 40 1-71 0 4 1-65 0 68 1 84 1 0 0-34 1 17 1 6 0-57 1 2 0 25 1 69 1 24 0-89 1-80 1-4 0 147 1-53 0-32 1-52 1 12 0 69 1 51 1-12 0-32 1 18 0-138 1-65" fill="none" stroke="#ffa500" stroke-width="5" stroke-linejoin="bevel"/>
<path d="M404.1 98L404.1 97.8 404.5 100.9 404.9 103.6 405.3 106.4 405.5 107.4 405.7 109 406.1 111.1 406.5 113.1 406.9 114.9 407.3 116.8 407.5 118 407.7 118.1 408.1 118.6 408.5 119.2 408.9 119.7 409.3 120.5 409.6 122.7 409.7 121.1 410.1 121 410.5 121 410.9 120.9 411 121.3 411.3 119.1 411.7 116.5 412.1 113.7 412.5 110.8 412.9 107.7 413 108 413.3 104.8 413.7 102.1 414.1 99.5 414.5 97 414.9 94.7 415.3 92.1 415.7 89.4 415.8 90 416.1 91.4 416.5 94.9 416.9 98.7 417.2 103.3 417.3 103.3 417.7 109.4 417.8 112 418.1 110.7 418.5 110 418.9 109.1 419.3 108 419.7 106.8 419.9 107.4 420.1 106 420.5 105.5 420.9 105.1 421.3 104.7 421.3 106 421.7 102.6 422.1 100.5 422.5 98.4 422.9 96 423.3 93.6 423.7 91.2 424 90 424.1 90.8 424.5 95.7 424.9 100.9 425.3 105.9 425.7 110.5 426.1 114.7 426.5 118.5 426.8 119.8 426.9 122 427.3 125.1 427.4 125 427.7 123.7 428.1 121.2 428.5 118.5 428.9 115.9 429.3 113.3 429.5 111.7 429.7 110 430.1 105.8 430.5 101.9 430.9 97.8 431.3 93.6 431.6 91 431.7 91 432.1 93.1 432.5 95.2 432.9 97.4 433.3 99.9 433.7 102.5 434.1 105 434.3 107.4 434.5 107.8 434.9 111.2 435.3 114.6 435.7 117.9 436 122 436.1 114.4 436.5 89.7 436.9 65 437.3 40.5 437.6 22.7 437.7 26.5 438.1 44.2 438.5 61.7 438.9 78.9 439.3 95.9 439.7 112.8 439.8 118.6 440.1 115.8 440.5 114.4 440.9 113.1 441.3 111.8 441.5 112 441.7 108.7 442.1 103.8 442.5 99 442.9 94.4 443.3 90 443.7 85.6 443.9 83 444.1 84.8 444.5 87.5 444.9 89.9 445.3 92.1 445.7 94.4 446.1 96.6 446.5 98.8 446.9 100.9 447.3 103 447.3 103.3 447.7 104.3 448.1 105.8 448.5 107.7 448.9 109.8 449.3 111.9 449.4 112 449.7 113.6 450.1 115 450.5 116 450.9 116.7 451.3 117.4 451.5 118.4 451.7 120 452.1 124.7 452.5 129.6 452.8 134.4 452.9 133.2 453.3 131.9 453.7 130.6 454.1 129.3 454.5 127.9 454.9 126.6 454.9 125.4 455.3 123.9 455.7 121.1 456.1 118.2 456.5 115.1 456.9 111.8 457.3 108.3 457.6 105 457.7 104.8 458.1 101.4 458.5 98.2 458.9 95.3 459 93.7 459.3 96.5 459.7 98.9 460.1 101.2 460.5 103.5 460.9 105.9 461.1 106 461.3 107.8 461.7 109.4 462.1 110.7 462.4 112 462.5 111.8 462.9 111.6 463.3 111.9 463.7 112.4 463.8 113 464.1 111.4 464.5 109.8 464.9 108.1 465.2 107.4 465.3 107.2 465.7 109.2 466.1 111.2 466.2 112 466.5 93.4 466.9 68.8 467.3 43.8 467.7 18.7 467.7 19.2 468.1 51.9 468.5 85.4 468.6 95 468.9 92.7 469.3 91.4 469.7 90.4 470 89.6 470.1 89.6 470.5 88.9 470.9 87.9 471.3 86.5 471.4 86 471.7 86.7 472.1 87.5 472.5 88.5 472.7 90 472.9 91.2 473.3 95.2 473.4 96.5 473.7 98.4 474.1 101.2 474.5 104 474.9 106.7 475.3 109 475.7 111 476.1 112.8 476.5 114.7 476.8 115.7 476.9 115.6 477.3 113.7 477.7 112 478.1 110.4 478.5 108.6 478.9 106.9 478.9 106.2 479.3 104.1 479.7 101.2 480.1 98.3 480.5 95.2 480.9 91.9 481 91 481.3 93.6 481.7 97.1 482.1 100.6 482.5 104.3 482.9 108.1 483.3 112.3 483.7 116.6 484.1 120.9 484.2 122 484.5 120.3 484.9 117.9 485.3 115.5 485.7 113.3 485.8 111.7 486.1 110.4 486.5 107.4 486.9 104 487.3 100.3 487.7 96.4 487.8 93.7 488.1 87.3 488.5 76.5 488.9 66.1 489 63.4 489.3 70.8 489.7 81 490.1 91.4 490.5 101.7 490.5 100 490.9 103.7 491.3 105.3 491.7 106.5 492 106.2 492.1 106.6 492.5 103.5 492.9 100.5 493.3 97.8 493.7 95.2 494.1 92.8 494.5 90.5 494.9 88.4 495.3 86.3 495.4 86.7 495.7 88.1 496.1 91.3 496.5 94.6 496.9 97.8 497.3 101 497.7 104.1 498.1 107.3 498.5 110.6 498.9 113.8 498.9 113.1 499.3 116.4 499.7 118.9 500.1 121.2 500.5 123.5 500.9 126 500.9 126.8 501.3 123.6 501.7 121.1 502.1 118.6 502.5 116.2 502.9 113.9 503 114.5 503.3 107.4 503.7 99.7 504.1 92 504.4 86 504.5 87.3 504.9 91.1 505.3 94.8 505.7 98.2 506.1 101.3 506.5 104.2 506.9 106.9 507.1 107.6 507.3 109 507.7 110.5 508.1 111.9 508.5 113.4 508.9 114.7 509.2 115.8 509.3 115.6 509.7 114.9 510.1 114.5 510.5 114.2 510.9 113.9 511.2 113.1 511.3 112.8 511.7 108.8 512.1 104.5 512.5 100.2 512.9 95.7 513.3 91.3 513.3 91.5 513.7 95.4 514.1 99.8 514.5 104.3 514.9 108.7 515.3 113 515.3 113.1 515.7 111.4 516.1 109.7 516.5 108.2 516.9 106.8 517.3 105.7 517.4 106.2 517.7 108.4 518.1 112.3 518.5 116.1 518.9 119.8 519.3 123.6 519.4 125.4 519.7 123.1 520.1 121.3 520.5 119.7 520.9 117.9 521.3 116.1 521.5 115.8 521.7 114.7 522.1 113.6 522.5 112.5 522.9 111.4 523.3 110.2 523.7 109 524.1 107.9 524.2 107.6 524.5 108.6 524.9 109.8 525.3 111 525.7 111.8 526.1 112.2 526.3 111.7 526.5 111.3 526.9 109.6 527.3 108 527.7 106.8 528.1 105.9 528.4 107.6 528.5 105.5 528.9 106.5 529.3 107.5 529.7 108.8 530.1 110.5 530.5 112.3 530.9 114 531.1 113.1 531.3 112.3 531.7 107.3 532.1 101.8 532.5 96 532.9 90.1 533.2 86 533.3 84.6 533.7 80.7 534.1 76.9 534.5 73.5 534.9 70.3 535.3 67.1 535.7 63.9 535.9 62.7 536.1 66.2 536.5 74.1 536.9 82.1 537.3 90.3 537.7 98.3 537.8 98.4 538.1 105 538.5 111.1 538.9 116.7 539.3 121.9 539.3 121.3 539.7 120.3 540.1 118.7 540.5 117.3 540.9 116.1 541.3 115.2 541.4 117.2 541.7 114.5 542.1 113.9 542.5 113.4 542.9 112.9 543.3 112.1 543.5 113.1 543.7 111.4 544.1 110.6 544.5 109.9 544.9 109.4 545.3 109 545.5 109 545.7 108.3 546.1 107.3 546.5 106.2 546.9 104.9 546.9 104.9 547.3 106.6 547.7 108.1 548.1 109.5 548.5 110.8 548.9 112 549 114.5 549.3 114.3 549.7 117.3 550.1 120.9 550.5 124.7 550.9 128.2 551 128.2 551.3 127.7 551.7 125.6 552.1 123.3 552.5 121.2 552.9 119.3 553.1 118.6 553.3 117.7 553.7 116 554.1 114.3 554.5 112.4 554.9 110.1 555.1 109 555.3 110.3 555.7 113 556.1 115.9 556.5 119.2 556.9 122.6 557.2 124 557.3 126 557.7 129.5 558.1 132.7 558.5 135.7 558.6 135.1 558.9 134.3 559.3 131.6 559.7 128.9 560.1 126.2 560.5 123.4 560.6 122.7 560.9 121.2 561.3 119.3 561.7 117.3 562.1 115.6 562.5 114 562.7 113.1 562.9 114.6 563.3 117.4 563.7 120.2 564.1 122.9 564.5 125.3 564.7 125.4 564.9 126.9 565.3 128 565.7 129.2 566.1 130.6 566.1 129.6 566.5 122 566.9 113.3 567.3 104.5 567.7 95.7 568.1 87 568.2 84 568.5 87.5 568.9 90.8 569.3 94.1 569.7 97.4 570.1 100.6 570.5 103.5 570.9 106.4 570.9 106.2 571.3 108.5 571.7 110.7 572.1 113.2 572.5 116 572.9 118.9 573 120 573.3 116.5 573.7 112.1 574.1 107.5 574.5 102.8 574.9 98.3 575.3 93.6 575.7 89.1 576.1 84.6 576.4 81.2 576.5 83 576.9 89.6 577.3 96.1 577.7 102.9 577.8 103.5 578.1 105.3 578.5 106.2 578.9 107 579.3 107.5 579.7 107.8 579.8 106.2 580.1 110.1 580.5 113.3 580.9 116.8 581.3 120.4 581.7 124.2 581.9 125.4 582.1 126.9 582.5 128.7 582.9 130.3 583.3 132 583.7 133.9 584 136.2 584.1 135.2 584.5 134 584.9 133 585.3 132 585.7 130.8 586.1 129.6 586.1 129.3 586.5 127.3 586.9 125 587.3 122.9 587.7 120.6 588.1 118.4 588.1 117 588.5 115.9 588.9 113.4 589.3 110.7 589.7 107.7 590.1 104.6 590.2 103.2 590.5 100.8 590.9 97 591.3 93.7 591.7 90.6 592.1 87.5 592.5 84 592.5 83.1 592.9 89.2 593.3 94.2 593.7 99.1 594.1 104.3 594.3 107.4 594.5 109.5 594.9 114.6 595.3 119.9 595.7 125.3 595.7 125.2 596.1 123.5 596.5 121.5 596.9 119.3 597.3 116.9 597.7 114.3 597.7 114.2 598.1 113.5 598.5 113.1 598.9 113.3 599.3 113.5 599.7 113.4 599.8 111.5 600.1 111 600.5 107.5 600.9 103.7 601.3 100.1 601.7 96.4 601.8 95.8 602.1 97.9 602.5 101.3 602.9 104.8 603.3 108.4 603.7 112.2 603.9 115.6 604.1 115.6 604.5 118.4 604.9 121.1 605.3 123.7 605.3 123.8 605.7 122.1 606.1 120.2 606.5 118.5 606.9 116.9 607.3 115.2 607.3 115.6 607.7 118.9 608.1 122.7 608.5 126.2 608.7 129.3 608.9 127.1 609.3 125.3 609.7 123.7 610.1 121.7 610.1 122.4 610.5 118.6 610.9 115.3 611.3 112.1 611.7 108.9 612.1 106 612.1 108 612.5 108.6 612.9 111.2 613.3 114 613.5 117 613.7 117.7 614.1 122 614.5 126.6 614.9 130.9 614.9 129.3 615.3 130.4 615.7 129.4 616.1 128.1 616.2 126.6 616.5 124.1 616.9 119.1 617.3 114.3 617.7 109.4 618.1 104.4 618.3 103.2 618.5 100.4 618.9 97.5 619.3 94.7 619.7 92.1 619.7 93 620.1 92.1 620.5 92.2 620.9 92.4 621.3 92.8 621.5 92.5 621.7 93.3 622.1 93.9 622.5 94.1 622.9 94.2 623.3 94.4 623.7 94.8 623.8 94 624.1 97.4 624.5 100.5 624.9 103.4 625.2 106 625.3 105.8 625.7 107.2 626.1 108.9 626.5 110.8 626.5 112.8 626.9 108 627.3 105.1 627.7 102.5 627.9 103.2 628.1 101.6 628.5 102.4 628.9 103.1 629.3 103.6 629.7 103.7 630.1 103.9 630.5 103.9 630.7 104.6 630.9 105 631.3 106.9 631.7 108.9 632 110.1 632.1 110.8 632.5 113 632.9 114.9 633.3 116.7 633.7 118.5 634.1 120.4 634.1 122.4 634.5 122.7 634.9 125.4 635.3 128.2 635.7 130.9 635.9 133.4 636.1 130.3 636.5 126.2 636.9 122.1 637.3 118.1 637.5 115.6 637.7 115 638.1 112.7 638.5 110.4 638.9 107.9 638.9 107.4 639.3 109.6 639.7 111.2 640.1 113 640.5 114.8 640.9 116.8 641 117 641.3 116.9 641.7 116.4 642.1 115.7 642.5 114.7 642.9 113.4 643 112.8 643.3 110.6 643.7 107.4 644.1 104.4 644.5 101.6 644.9 99.3 645.1 99.1 645.3 91.9 645.7 79.5 646.1 67 646.4 57.1 646.5 60.6 646.9 72.7 647.3 84.9 647.5 90 647.7 90.1 648.1 88.1 648.5 85.8 648.5 83.8 648.9 91.1 649.3 95.9 649.7 100.6 649.9 103.2 650.1 103.6 650.5 105.1 650.9 107.2 651.2 108.7 651.3 110.1 651.7 114.8 652.1 119.4 652.5 123.7 652.6 122.4 652.9 122.7 653.3 119.5 653.7 116.4 654 112.8 654.1 114.6 654.5 117.3 654.9 120.3 655.3 123.4 655.4 123.8 655.7 122.1 656.1 119.3 656.5 116.8 656.7 114.2 656.9 113.4 657.3 108.7 657.7 103.9 658.1 99.1 658.5 94 658.8 90 658.9 91.7 659.3 97.3 659.7 103.2 660.1 108.9 660.2 108.7 660.5 111.6 660.9 113 661.3 114 661.7 114.8 662.1 116.1 662.2 117 662.5 115.8 662.9 115.3 663.3 115.1 663.7 114.8 664.1 114.3 664.3 112.8 664.5 114.6 664.9 116.1 665.3 117.5 665.7 119 665.7 118.3 666.1 118.1 666.5 117.4 666.9 116.4 667.3 115.1 667.7 113.7 667.7 114.2 668.1 114.2 668.5 115 668.9 116.2 669.3 117.7 669.7 118.9 669.8 119.7 670.1 117.7 670.5 115.7 670.9 113.7 671.3 111.9 671.7 110.2 671.8 110.1" fill="none" stroke="#000" stroke-width="1.1" stroke-linejoin="round"/>
<path d="M403.4 88L403.4 86.9 403.8 89.5 404.2 90.6 404.6 91.5 405 91.8 405.4 92 405.5 91.5 405.8 92.4 406.2 93.3 406.2 93.7 406.6 91.3 407 89.9 407.4 88.7 407.8 87.6 408.2 86.2 408.2 84.1 408.6 86 409 85.3 409.4 84.4 409.8 83.4 410.2 82.6 410.6 81.9 411 81.3 411 82.7 411.4 80.4 411.8 79.8 412.2 79.6 412.6 79.6 413 79.5 413.4 79.3 413.7 78 413.8 78.2 414.2 75 414.4 72.3 414.6 74 415 75.1 415.4 76.2 415.8 77.2 415.8 77.1 416.2 78.4 416.6 79.8 417 81.4 417.4 83.1 417.8 84.8 418.2 86.5 418.5 86.9 418.6 88.4 419 91.2 419.4 94 419.8 96.6 420.2 99 420.6 101.3 420.6 100.6 421 100.4 421.4 99.7 421.8 99.1 422.2 98.4 422.6 97.4 422.6 97.8 423 97.6 423.4 98 423.8 98.7 424.2 99.9 424.6 101.3 424.7 102 425 105.9 425.4 111.6 425.8 117 426.2 122.2 426.6 127.1 427 131.9 427.4 136.5 427.4 136.4 427.8 133.4 428.2 130.5 428.6 127.8 429 125.1 429.4 122.5 429.5 122.7 429.8 117.7 430.2 112.6 430.6 107.3 431 102.1 431.4 96.8 431.6 95 431.8 96.6 432.2 101.4 432.2 102.1 432.6 103.8 433 106.2 433.4 108.7 433.8 110.9 434.2 113.3 434.3 114.3 434.6 119.7 435 127.6 435 128.2 435.4 117.3 435.8 107.2 436.2 97.2 436.6 87.2 437 77.1 437.4 67.1 437.7 59 437.8 62.6 438.2 74.5 438.6 86.1 439 97.6 439.4 109.1 439.8 120.7 439.8 122 440.2 120.1 440.6 120 441 119.8 441.2 119.8 441.4 118.9 441.8 116.9 441.9 115.8 442.2 110 442.6 101.3 443 92.3 443.4 83.1 443.8 74 443.9 74.4 444.2 72.9 444.6 74.6 445 76.6 445.4 79.1 445.8 81.9 446 85.3 446.2 86.3 446.6 92.2 446.7 93.7 447 96 447.4 98.7 447.8 100.8 448.2 102.8 448.6 104.9 449 107.2 449.4 109.9 449.4 110.2 449.8 113.5 450.2 116.9 450.6 120.2 451 123.1 451.4 125.6 451.8 128.1 452.1 131 452.2 129.8 452.6 129.1 453 128.7 453.4 128.4 453.5 128.2 453.8 127.2 454.2 125.4 454.6 123.4 455 121.3 455.4 119.1 455.6 117 455.8 116.4 456.2 113.2 456.6 110 457 106.8 457.4 103.3 457.6 100 457.8 99.6 458.2 95.5 458.3 93.7 458.6 92.9 459 90.7 459 90.8 459.4 93.1 459.8 95.8 460.2 98.6 460.4 100.6 460.6 98.7 461 95.9 461.1 95 461.4 94.7 461.8 94 462.2 93.3 462.6 92.4 463 91.3 463.4 89.8 463.8 88.3 463.8 88.2 464.2 87.5 464.5 88.1 464.6 85.6 465 80.9 465.4 76.4 465.8 72.1 466.2 67.9 466.6 63.8 467 59.7 467.2 58 467.4 59 467.8 61.8 468.2 64.9 468.6 68.1 468.6 67.5 469 71.2 469.4 74.2 469.8 77 470 75.7 470.2 78 470.6 77.4 471 76.8 471.4 76.3 471.8 75.9 472 75 472.2 76.4 472.6 77.7 473 79.3 473.4 81.1 473.8 83 474.2 85 474.6 86.7 474.8 85.5 475 89.7 475.4 94 475.8 98.3 476.2 102.6 476.6 107 476.8 107.4 477 110.3 477.4 112.4 477.8 114.4 478.2 116.7 478.6 118.8 478.9 118.4 479 118.8 479.4 113.1 479.8 107.3 480.2 101.2 480.6 95.2 481 89.4 481.4 83.9 481.7 80.5 481.8 81.6 482.2 89 482.6 96.3 483 103.5 483.4 110.8 483.8 118.5 483.9 121 484.2 117.2 484.6 113.1 485 108.9 485.4 104.2 485.8 99 485.8 96.3 486.2 93.2 486.6 87.1 487 81 487.4 75.2 487.8 69.8 487.8 70.2 488.2 72.1 488.6 74.7 489 77.3 489.4 79.6 489.8 81.9 490.2 84.1 490.6 86.1 490.6 86.9 491 86.7 491.4 87.3 491.8 88 492.2 89.1 492.5 92 492.6 90 493 89.9 493.4 89.7 493.8 89.2 494.2 88.5 494.6 87.8 495 87.1 495.4 86.5 495.4 87 495.8 88.7 496.2 90.9 496.6 93 497 95.1 497.4 97.2 497.5 98 497.8 101.6 498.2 106.8 498.6 112 499 117.2 499.4 122.3 499.5 122.7 499.8 126 500.2 129.1 500.6 131.9 501 134.3 501.3 135.1 501.4 134.9 501.8 131.2 502.2 127.8 502.6 124.8 503 122 503 122.7 503.4 118.3 503.8 114.6 504.2 110.8 504.6 107.1 505 103.5 505 103.5 505.4 104.2 505.8 105 506.2 105.6 506.4 104.9 506.6 106.2 507 106.6 507.4 106.9 507.8 107.3 507.8 107.6 508.2 104.2 508.6 101.5 509 98.8 509.4 96.1 509.5 95 509.8 92.7 510.2 89 510.6 85.2 511 81.5 511.4 77.9 511.8 74.4 512.2 70.9 512.6 67.4 512.6 68.2 513 71.6 513.4 76.1 513.8 80.7 514.2 85.3 514.6 89.8 514.6 89.4 515 87.1 515.4 84.5 515.8 81.8 516.2 78.8 516.6 75.5 517 71.9 517.4 68.4 517.4 70.2 517.8 76.4 518.2 84.9 518.6 93.9 519 102.9 519.4 111.9 519.4 111.7 519.8 110.6 520.2 109.1 520.6 107.3 521 105.4 521.4 103.6 521.5 103.5 521.8 106.9 522.2 112.1 522.6 117.3 522.9 120 523 121 523.4 120.7 523.8 120 524.2 119 524.6 118.3 524.9 118.6 525 118 525.4 119.2 525.8 120.7 526.2 122.3 526.6 124.1 527 125.9 527.4 128 527.7 129.6 527.8 129.8 528.2 130.4 528.6 130.9 529 131.1 529.4 130.9 529.7 130.2 529.8 130.2 530.2 128.8 530.6 127.4 531 126 531.4 124.8 531.8 123.6 531.8 125.4 532.2 120.8 532.6 118.4 533 116.1 533.4 113.8 533.8 111.6 533.9 111.7 534.2 105.9 534.6 98.9 535 91.8 535.4 84.5 535.8 77.3 535.9 75.7 536.2 80.2 536.6 86.4 537 92.4 537.4 98.6 537.8 105 538 109 538.2 110.1 538.6 113.5 539 116.7 539.4 119.7 539.8 122.4 540 124 540.2 123.4 540.6 122.9 541 122.6 541.4 122.4 541.8 122.1 542.1 121.3 542.2 121.6 542.6 120.4 543 119 543.4 117.7 543.8 116.7 544.1 117.2 544.2 115.8 544.6 115.1 545 114.6 545.4 114 545.8 113.3 546.2 112.5 546.2 111.7 546.6 113.4 547 114.2 547.4 115 547.8 115.7 548.2 116 548.3 114.5 548.6 116.5 549 117 549.4 117.6 549.8 118.3 550.2 119.5 550.3 121.3 550.6 119.8 551 119.7 551.4 119.6 551.8 119.5 552.2 119.5 552.4 120 552.6 119.1 553 118.2 553.4 117.2 553.8 116 554.2 114.7 554.4 114.5 554.6 115.3 555 117.8 555.4 120.5 555.8 123.4 556.2 125.9 556.5 125.4 556.6 127.2 557 126.8 557.4 126.3 557.8 125.9 558.2 125.6 558.6 125.6 558.6 126.8 559 124 559.4 122.5 559.8 121.2 560.2 120.1 560.6 118.7 560.6 118.6 561 118.5 561.4 118.2 561.8 117.9 562.2 117.8 562.6 117.8 562.7 117.2 563 119 563.4 120.3 563.8 121.4 564.2 122.7 564.6 124.1 564.7 124 565 122.9 565.4 120.7 565.8 117.9 566.2 114.8 566.6 111.8 566.8 111.7 567 108.8 567.4 106.2 567.8 103.8 568.2 101.6 568.6 99.3 568.8 98 569 98 569.4 97.2 569.8 96.2 570.2 95 570.2 95 570.6 99.2 571 103.5 571.4 108.1 571.8 113.1 572.2 118.1 572.6 123.3 573 128.4 573 128.2 573.4 125.8 573.8 123.2 574.2 120.6 574.6 117.9 575 115.3 575 114.5 575.4 114.2 575.8 113 576.2 111.5 576.6 109.8 577 108.2 577.1 109 577.4 108.4 577.8 109.3 578.2 110.4 578.6 111.7 579 113.4 579.1 115.8 579.4 115.4 579.8 117.7 580.2 119.9 580.6 121.7 581 123.3 581.2 124 581.4 124.4 581.8 125.3 582.2 126.5 582.6 128 583 129.1 583.3 128.2 583.4 129.8 583.8 129.6 584.2 129.3 584.5 127.9 584.6 128.8 585 128.5 585.4 128.4 585.8 128.2 586.2 128 586.6 127.9 586.7 126.6 587 126 587.4 123.6 587.8 121.2 588.2 119.1 588.6 117.1 589 115.1 589.4 113.1 589.8 111 590.2 108.7 590.2 107.4 590.6 109.3 591 109.9 591.4 110.4 591.8 110.8 592.2 111.2 592.2 111.5 592.6 111.5 593 111.7 593.4 112.1 593.8 112.6 594.2 113.4 594.3 115.6 594.6 112.8 595 111.7 595.4 110.8 595.8 109.9 596.2 108.7 596.4 106 596.6 107 597 104.8 597.4 102.1 597.7 100.5 597.8 100.6 598.2 103.3 598.6 106.7 599 110.6 599.1 112.8 599.4 112.4 599.8 113.3 600.2 114 600.6 114.2 601 114.3 601.2 115.6 601.4 111.9 601.8 107.3 602.2 103 602.5 100.5 602.6 100.5 603 103.4 603.4 106.1 603.8 108.9 604.2 111.8 604.6 114.7 604.6 114.2 605 115.7 605.4 116.3 605.8 116.6 606.2 116.9 606.6 117.3 606.6 118.3 607 118.9 607.4 120.5 607.8 122.3 608.2 124.2 608.6 126.3 608.7 127.9 609 127.2 609.4 127.9 609.8 128.4 610.2 128.6 610.6 128.4 610.8 126.6 611 127.2 611.4 125.1 611.8 122.9 612.1 121.1 612.2 121.1 612.6 121.2 613 121.4 613.4 121.9 613.5 123.8 613.8 123.6 614.2 125.8 614.6 128.3 614.9 132.1 615 129.8 615.4 128 615.8 126.2 616.2 124.2 616.6 122.2 616.9 122.4 617 120.4 617.4 119 617.8 117.7 618.2 116.2 618.6 114.8 619 113.2 619 112.8 619.4 112.5 619.8 111.8 620.2 111 620.6 110.2 621 109.5 621.1 108.7 621.4 110.3 621.8 111.8 622.2 113.2 622.6 114.5 623 115.6 623.1 114.2 623.4 116 623.8 116.3 624.2 116.7 624.6 117.2 625 117.8 625.2 117 625.4 117.5 625.8 116.1 626.2 114.5 626.6 113 627 111.6 627.2 111.5 627.4 112.2 627.8 114.6 628.2 117.2 628.6 119.7 629 122.1 629.3 122.4 629.4 123.4 629.8 122.5 630.2 121.2 630.6 119.9 631 118.8 631.3 119.7 631.4 118.5 631.8 119.6 632.2 120.7 632.6 121.8 633 122.7 633.4 123.5 633.4 123.8 633.8 124.3 634.2 125.1 634.6 125.8 635 126.3 635.4 126.8 635.5 127.9 635.8 124.5 636.2 121.5 636.6 118.7 637 115.9 637.4 112.9 637.5 112.8 637.8 112.4 638.2 112.4 638.6 112.8 639 113.4 639.4 114 639.6 114.2 639.8 114.6 640.2 114.9 640.6 114.8 641 114.7 641.4 114.5 641.6 115.6 641.8 113.9 642.2 112.7 642.6 111.6 643 110.8 643.4 109.9 643.8 108.9 644.2 107.9 644.4 107.4 644.6 105.1 645 101 645.4 96.9 645.8 92.9 646.2 89 646.4 86.6 646.6 89.3 647 93.7 647.4 97.9 647.8 102.1 647.8 101.9 648.2 105.8 648.6 109.5 649 113.1 649.4 116.6 649.8 120.4 649.9 122.4 650.2 121.7 650.6 122.5 651 123.3 651.4 124 651.8 124.7 651.9 125.2 652.2 125.4 652.6 126 653 126.6 653.4 126.8 653.8 126.9 654 126.6 654.2 126.1 654.6 124.6 655 123.4 655.4 122.4 655.8 121.9 656 122.4 656.2 120.1 656.6 116.9 657 113.6 657.4 110 657.8 106.1 658.1 103.2 658.2 103.5 658.6 104.5 659 105.7 659.4 107 659.8 108.5 660.2 110.1 660.2 110.1 660.6 111 661 111.7 661.4 112.2 661.8 112.3 662.2 112.5 662.2 112.8 662.6 112.1 663 112.1 663.4 112.4 663.8 112.6 664.2 112.6 664.3 111.5 664.6 112.2 665 111.6 665.4 111.1 665.8 110.8 666.2 110.7 666.3 110.1 666.6 109.6 667 108 667.4 106.1 667.8 103.9 668.2 101.5 668.4 100.5 668.6 102.8 669 108.1 669.4 113.6 669.8 119 669.8 119.7 670.2 117.8 670.6 116.6 671 115.3 671.4 114.2 671.8 114.2" fill="none" stroke="#ffa500" stroke-width="1.1" stroke-linejoin="round"/>
<path transform="scale(.1)" d="M492 2814l1-68 0 155 1-140 0 51 1 56 1 17 0 20 1-40 1-70 0-9 1-6 0 128 1 32 1-163 0-17 1-73 1 32 0 135 1-91 0 9 1 27 1 67 0-26 1-1 1-59 0 25 1-76 0 113 1-39 1-14 0 75 1 41 1-118 0-7 1 39 0-22 1 57 1-37 0 39 1-38 1-60 0 61 1-52 0 96 1-17 1 61 0-59 1-29 1 6 0 6 1-98 0-35 1 152 1-104 0 149 1-18 1-40 0-31 1 62 0-3 1-52 1 32 0 7 1-81 1-43 0 50 1 9 0 5 1 27 1 11 0 37 1-99 1 17 0 7 1-21 0-29 1-68 1 91 0 35 1-31 1 59 0-125 1-15 0 9 1 56 1-43 0-34 1 26 1 60 0 112 1-144 0 44 1 46 1-105 0 5 1 121 1-56 0-5 1-90 0 172 1-54 1-33 0-120 1 138 1 172 0-58 1-134 0-78 1-91 1 67 0 105 1-89 1 36 0 25 1-10 0-92 1 128 1 47 0-54 1-16 1 50 0 20 1-84 0-97 1 16 1 6 0-38 1 227 1 34 0-47 1 24 0-7 1-82 1 77 0-39 1 108 1-45 0-186 1 87 0-38 1-38 1 80 0-58 1 11 1-31 0 94 1 91 0-3 1-36 1-93 0 30 1 28 1-7 0-103 1 102 0-130 1 175 1 5 0-113 1-7 1 108 0-25 1 42 0-111 1-5 1 100 0-59 1 45 1-9 0-13 1 48 0-65 1-23 1-4 0-56 1 93 1 129 0-41 1-68 0-7 1-48 1-33 0 68 1 19 0 77 1-144 1 64 0 88 1 29 1-51 0-181 1 12 0 212 1-68 1-55 0-47 1 9 1 85 0-64 1 62 0 163 1-82 1-28 0-148 1-55 1 165 0-56 1-9 0 128 1 93 1-142 0-62 1 43 1 197 0-175 1-5 0 25 1-41 1 59 0-133 1 9 1 56 0-58 1 9 0 134 1-80 1 3 0 113 1-63 1-112 0 59 1-163 0-73 1 154 1-30 0-137 1 165 1 99 0-12 1 81 0 21 1-132 1 16 0-54 1-38 1 99 0-21 1-1 0 33 1 25 1-95 0 11 1-40 1-70 0-23 1 182 0 30 1-46 1-46 0-88 1 142 1-5 0-64 1-106 0-47 1 198 1-11 0 49 1-133 1-5 0 71 1 44 0-68 1-82 1 129 0-1 1-38 1-4 0-30 1 108 0-3 1 132 1-151 0-137 1 236 1-55 0-152 1 48 0 168 1-221 1 164 0-198 1 115 1 46 0-49 1-12 0-58 1-9 1 54 0-114 1 20 1 46 0 24 1 29 0 7 1-65 1-2 0 38 1-76 1 93 0-36 1-48 0 160 1-28 1-181 0 178 1-134 1 156 0-86 1 103 0-8 1-25 1 6 0-138 1-26 1-12 0 55 1-113 0 19 1 65 1 141 0-114 1-32 1 40 0-46 1-20 0 89 1-52 1 3 0 2 1 59 1 27 0-44 1-131 0-120 1 204 1 121 0-29 1 35 1-28 0-81 1 91 0-108 1-47 1-79 0-53 1 57 1-97 0 216 1-4 0 7 1-21 1-59 0 102 1-152 1-6 0 81 1 13 0 131 1 175 1-160 0-85 1-17 0 113 1-22 1-202 0 31 1 19 1 89 0-67 1-69 0 27 1 110 1-29 0 93 1-22 1-86 0 73 1-6 0-148 1 95 1-55 0 76 1 97 1-72 0 11 1 149 0-29 1-78 1-190 0 124 1-12 1-60 0 12 1 57 0-163 1-20 1 329 0-201 1-23 1-46 0 64 1-47 0-111 1-15 1-13 0 63 1 30 1 7 0 183 1-245 0 106 1 25 1 26 0-22 1 222 1-138 0 90 1 5 0 77 1 11 1-197 0 36 1-23 1 0 0 88 1-12 0 45 1-69 1 149 0-116 1-147 1-69 0-13 1 56 0 150 1-121 1-3 0 24 1 138 1-99 0-118 1 25 0 94 1-38 1 37 0-2 1-59 1 28 0 34 1-15 0 102 1 47 1-115 0 61 1-83 1 189 0-210 1 53 0-140 1 324 1 27 0-265 1 32 1-3 0 15 1 3 0-32 1 128 1-34 0-138 1 58 1 88 0-38 1-94 0 81 1 22 1-52 0-47 1-69 1 120 0-6 1-63 0 239 1-108 1-62 0 30 1 77 1-105 0-89 1 89 0 63 1-6 1-157 0-20 1 98 1 129 0 54 1-65 0-19 1-59 1 108 0-56 1-77 1 173 0-299 1 62 0 22 1 168 1 25 0-176 1-41 1 282 0-234 1-33 0-2 1 151 1-75 0 53 1-87 1-139 0 65 1-16 0 112 1 96 1-63 0-109 1-72 1 113 0 5 1 58 0 135 1-120 1-60 0 51 1-8 1 142 0-122 1-156 0 78 1-30 1 1 0 107 1-55 0 75 1-311 1 147 0 157 1 88 1-243 0 3 1 19 0 162 1-24 1 49 0-192 1 87 1-191 0 68 1 94 0-120 1 269 1-34 0-48 1-146 1-47 0 49 1 204 0-50 1 36 1-197 0 91 1-64 1-132 0 133 1-29 0 87 1-11 1-4 0 1 1-3 1 39 0-188 1 165 0-29 1 42 1 186 0-230 1-4 1 142 0-16 1 76 0-145 1-156 1-15 0 217 1 104 1-167 0-152 1 101 0-57 1 199 1-52 0-65 1 59 1 3 0-81 1 93 0 62 1-136 1 6 0 113 1-91 1 62 0-89 1 31 0 34 1 54 1-70 0 2 1-170 1 120 0 151 1-257 0 288 1-243 1 152 0-155 1 91 1-38 0 35 1 22 0-50 1 89 1-74 0 115 1 3 1-20 0-42 1-129 0 141 1 46 1 37 0-52 1-102 1 84 0-14 1 21 0-53 1 170 1-182 0-87 1 131 1-30 0 65 1-151 0-12 1-206 1 213 0 124 1 0 1 71 0-110 1-43 0-67 1 24 1 80 0-128 1 24 1-14 0 173 1 21 0-11 1-26 1 153 0-254 1 49 1-80 0-17 1-70 0 60 1 34 1 109 0-44 1-157 1 265 0-13 1-92 0-148 1 198 1 1 0-53 1-279 1 269 0 18 1-75 0 106 1-64 1-23 0 61 1-46 1-136 0 101 1 79 0 54 1-72 1-93 0 50 1-1 1-209 0 241 1 101 0-91 1 16 1-66 0-80 1 56 1 66 0-42 1-10 0 47 1 56 1-92 0 48 1 98 1-131 0 68 1 23 0-99 1 99 1-26 0 63 1 68 0-140 1-155 1 170 0-130 1-28 1-49 0 215 1 26 0-196 1 93 1 24 0-55 1-8 1 102 0 1 1-73 0 10 1 91 1-149 0-8 1 101 1 51 0-112 1 262 0-143 1 17 1 15 0-133 1 11 1-238 0 218 1 13 0 162 1-165 1 94 0-45 1-108 1-21 0 55 1-53 0 137 1 86 1 79 0-159 1-171 1 151 0 15 1 34 0-60 1 186 1-182 0-73 1 135 1 68 0 10 1-125 0-116 1 181 1 102 0-115 1-50 1-55 0 109 1-94 0-60 1 223 1-50 0-99 1-44 1 103 0 154 1-57 0 39 1-68 1-159 0 100 1-36 1 104 0-160 1 89 0 62 1-241 1 62 0-12 1 232 1-232 0-97 1 133 0 55 1 40 1-136 0 192 1-110 1-183 0 110 1-130 0 133 1 68 1-88 0 60 1 2 1 44 0 84 1-55 0-106 1-66 1 83 0-10 1 107 1-35 0-14 1-3 0-19 1-30 1-86 0 15 1 27 1 162 0 14 1-73 0-26 1-63 1 203 0-110 1-29 1 33 0 50 1-74 0 12 1-52 1 204 0-35 1-224 1 48 0 104 1-9 0 84 1-215 1-65 0 29 1-20 1 60 0-56 1 45 0-55 1 111 1 40 0 54 1 7 1 100 0-226 1-75 0 36 1-11 1 64 0-5 1 162 1-64 0 134 1-60 0-52 1-14 1 60 0-191 1-28 1 124 0 99 1-36 0-135 1 210 1-176 0 27 1 31 1-116 0 51 1 50 0-126 1 210 1-221 0 150 1 43 0-199 1-214 1 118 0 217 1 183 1-160 0-26 1 41 0-29 1 39 1-121 0 45 1 23 1 180 0-161 1 100 0-162 1 17 1 179 0-97 1 46 1-141 0-34 1-63 0 141 1-70 1 144 0-109 1 17 1-39 0 10 1-89 0 92 1 14 1-138 0 87 1 65 1 51 0-67 1-16 0-65 1 50 1-60 0 65 1-143 1 100 0-34 1 14 0 154 1-161 1 79 0-95 1 229 1 57 0 29 1-9 0-126 1-70 1 64 0-37 1 18 1-119 0-33 1 27 0-21 1-99 1 65 0 210 1-50 1-7 0-97 1 2 0-33 1 203 1-196 0 78 1-73 1 22 0 129 1 34 0-113 1-81 1 155 0 70 1 101 1-66 0-36 1-47 0-93 1 70 1 78 0-39 1-37 1-31 0-7 1 26 0-56 1 57 1 83 0-50 1-193 1 177 0-235 1 189 0-48 1 188 1-76 0-158 1 180 1 15 0-87 1-29 0 150 1 25 1-127 0-39 1-51 1 63 0-54 1-68 0 190 1-139 1-22 0-53 1 128 1 7 0-8 1 44 0-118 1 30 1 115 0-75 1 92 1 70 0-26 1-101 0-39 1 7 1-56 0-137 1 222 1-70 0-7 1 123 0-22 1-70 1-5 0 72 1-117 1 11 0-32 1-91 0 221 1-129 1 5 0 118 1-35 1 22 0 72 1-151 0 92 1 139 1-206 0 54 1-56 1-3 0 44 1 19 0 193 1-122 1 26 0-134 1 74 1 11 0-57 1 92 0-10 1-21 1-80 0 138 1-151 1 34 0 42 1-58 0-72 1-33 1 181 0-149 1 68 0-88 1 180 1-22 0-11 1 99 1-42 0-126 1-56 0 24 1 41 1 76 0-192 1 235 1 60 0-21 1-86 0 29 1-96 1 173 0-157 1-127 1 38 0 113 1 60 0-127 1 202 1-14 0 71 1-110 1-206 0 136 1-90 0 160 1 1 1 2 0-140 1 124 1 22 0-53 1-151 0 82 1-125 1 81 0 81 1-98 1 118 0 64 1-70 0 122 1 5 1-34 0-82 1-113 1-43 0 101 1-5 0 43 1 106 1-124 0 60 1-109 1 77 0 65 1-96 0 47 1 80 1-179 0 9 1 2 1 21 0 60 1 211 0-130 1-48 1-88 0 121 1-117 1 3 0-122 1 153 0-19 1-25 1-40 0-73 1 51 1 178 0-213 1 253 0-150 1-103 1 142 0-11 1-2 1 90 0-101 1 84 0-86 1-50 1-57 0-39 1 69 1 16 0 67 1 6 0-79 1-15 1 22 0 49 1-77 1 166 0-4 1-65 0-99 1 174 1 37 0 23 1-160 1-52 0-79 1-89 0 270 1-6 1 29 0 53 1-81 1 24 0-52 1 26 0 100 1-146 1-41 0 72 1 168 1 62 0-63 1-169 0-76 1 27 1 7 0 225 1-184 1 34 0-28 1 51 0 101 1-208 1-30 0 114 1 72 1-57 0-144 1-17 0 35 1-62 1 29 0 118 1-103 1 29 0 74 1-146 0 16 1 164 1-139 0 7 1 51 1 22 0 56 1 56 0-130 1-56 1 53 0-34 1 44 1 12 0-67 1-17 0-81 1 137 1-25 0 39 1-18 0-91 1 46 1 116 0 8 1 16 1-21 0 30 1-3 0-27 1-46 1 86 0-47 1-9 1-66 0 30 1-9 0 19 1-64 1 86 0 142 1-109 1 81 0 127 1-182 0-8 1-22 1-24 0 46 1-86 1 59 0 50 1-10 0 165 1-158 1 114 0-116 1 9 1-13 0 68 1-180 0 247 1-79 1 38 0 69 1-224 1 35 0-171 1 83 0 48 1 9 1 155 0 48 1-208 1-11 0 124 1-32 0-14 1-89 1 46 0 98 1-91 1 83 0-65 1 75 0 232 1-314 1 111 0-121 1-4 1 94 0 84 1-225 0 71 1-63 1 59 0-30 1 50 1 140 0 1 1-91 0 102 1-36 1-32 0-106 1-72 1 279 0-116 1-145 0 216 1 43 1-168 0 34 1 70 1-38 0-52 1 36 0-11 1 11 1-10 0 12 1-12 1 44 0-89 1 89 0 44 1 91 1-28 0-81 1 4 1-61 0 127 1-4 0 107 1-103 1-130 0 3 1 72 1-47 0 2 1 97 0 41 1 5 1-109 0-42 1 2 1 54 0-160 1 121 0-19 1 20 1-66 0 203 1-116 1 24 0-2 1 77 0-2 1-157 1-18 0 180 1-82 1 34 0-117 1 16 0-19 1 60 1 10 0 56 1 87 1-50 0-162 1-60 0 162 1 48 1 6 0 5 1 31 1-31 0-118 1-43 0-92 1 121 1 194 0-69 1 18 1-55 0 14 1-136 0 105 1-37 1-156 0 98 1 161 1-159 0-14 1-11 0-17 1 125 1 41 0-82 1 124 1-34 0-173 1 144 0-90 1-87 1 63 0 48 1-129 0 176 1-193 1 146 0-32 1 81 1 22 0-160 1 26 0-30 1 137 1-35 0 59 1-79 1-65 0-24 1-5 0 91 1-73 1 59 0-127 1 84 1-83 0 100 1-52 0 20 1 142 1-128 0 90 1 96 1-124 0-115 1-2 0 129 1 110 1 115 0-129 1-47 1-41 0-123 1 79 0 94 1 34 1-3 0-21 1-86 1 27 0-11 1-15 0-13 1-38 1-50 0 160 1-8 1-15 0 0 1-76 0-14 1 108 1-151 0 49 1 1 1 106 0-80 1 67 0 71 1-65 1 74 0 30 1-113 1-62 0 102 1-102 0-47 1-13 1 62 0 71 1-129 1 117 0-34 1-64 0-67 1 93 1 30 0-13 1 19 1-67 0-18 1-58 0 123 1-28 1 108 0 4 1-147 1 93 0 158 1-64 0-21 1 97 1-134 0-92 1 80 1-99 0 214 1-165 0 9 1-180 1 125 0 38 1 9 1 26 0 10 1-87 0 6 1-2 1 1 0 77 1-185 1 176 0-106 1 56 0-81 1 77 1-86 0 19 1-49 1-81 0 115 1 39 0 214 1-132 1-111 0 56 1-8 1 14 0 146 1-181 0 72 1 75 1-166 0-2 1-16 1 30 0 70 1-103 0 109 1-58 1 82 0 32 1-144 1 84 0-164 1 183 0-134 1 68 1-64 0-12 1 198 1-134 0 33 1 57 0-139 1 13 1 3 0-78 1 5 1 75 0 96 1-152 0 124 1 112 1-244 0-87 1 272 1-78 0 119 1-127 0 48 1 91 1-161 0 97 1-72 0 65 1-170 1 0 0 121 1 174 1-149 0 61 1-150 0-77 1 103 1-41 0 165 1-102 1-116 0 204 1-107 0 8 1-47 1 49 0 27 1-93 1 64 0-16 1 143 0-97 1-52 1 49 0 8 1 156 1-28 0-72 1-19 0-203 1 50 1 173 0-226 1 224 1 48 0-7 1-68 0-231 1 158 1-17 0 154 1-35 1-251 0 26 1 39 0-36 1 65 1 23 0 137 1 76 1-44 0-42 1 28 0-113 1-124 1 114 0 161 1 23 1-176 0-32 1 37 0-22 1-45 1 74 0 2 1 54 1 149 0-124 1-25 0-43 1 67 1-55 0-12 1 63 1 66 0-6 1-84 0-67 1-97 1 128 0-11 1-61 1 162 0-85 1 65 0 11 1-90 1 55 0-29 1 110 1-52 0 51 1-30 0-268 1 151 1 66 0 32 1 41 1-202 0 146 1-213 0 150 1-76 1 68 0 82 1-13 1-131 0 85 1 172 0-265 1 133 1 8 0-146 1 217 1-33 0-106 1-34 0-7 1 125 1-123 0 78 1-32 1 83 0-198 1 116 0 9 1 40 1-68 0 123 1-68 1-9 0-159 1 115 0 22 1-22 1-82 0-111 1 101 1 23 0-88 1 103 0 1 1 84 1-14 0 48 1-237 1 45 0 21 1 151 0-52 1 50 1 17 0 60 1-43 1-294 0 186 1-53 0-40 1 28 1-18 0 145 1-173 1-101 0 145 1 105 0 42 1 55 1-148 0-66 1-93 1 227 0-115 1-21 0 74 1 76 1-78 0-188 1 243 1 15 0-1 1-33 0-118 1 100 1 183 0-31 1-9 0-135 1-30 1 101 0-129 1 178 1-86 0-153 1 201 0-126 1-75 1 105 0-20 1 135 1-116 0 97 1-24 0-91 1 42 1 73 0-69 1 0 1 47 0 113 1-115 0-126 1 90 1 23 0 2 1-76 1 143 0-148 1-154 0 91 1 63 1-16 0-6 1 68 1 4 0 9 1-60 0-134 1 111 1-128 0 210 1-74 1 102 0-42 1 8 0 157 1-92 1-81 0-16 1 147 1 45 0-160 1 93 0-230 1 80 1 22 0 50 1 69 1-67 0 21 1-136 0 72 1 17 1-64 0-11 1 250 1-263 0 220 1 21 0-54 1 27 1-214 0 89 1 126 1-28 0 26 1-1 0-92 1-40 1 46 0 114 1-26 1-140 0-9 1 69 0-72 1 201 1-39 0-73 1-46 1-79 0 60 1-2 0 11 1 106 1-45 0-152 1 13 1 93 0-2 1-150 0-33 1-36 1 40 0 132 1 42 1 133 0-207 1-58 0-105 1 223 1-147 0 57 1 51 1 3 0 120 1-55 0 59 1-26 1-68 0 38 1-92 1 94 0 16 1 7 0-64 1-25 1-71 0 91 1 57 1-63 0-148 1 34 0 246 1-93 1 14 0-13 1-91 1 39 0 26 1 137 0-84 1 28 1-75 0-94 1 140 1-13 0-76 1 170 0-30 1 56 1-51 0-59 1 5 1-149 0 10 1 55 0-64 1-85 1 171 0 35 1-32 1-68 0 240 1-92 0-259 1 146 1-116 0-81 1 121 1-96 0 165 1 205 0-47 1-181 1-157 0 131 1 229 0-69 1 149 1-132 0-171 1 168 1 48 0-21 1-17 0-83 1-5 1-35 0 140 1-147 1 4 0 134 1 12 0 15 1 97 1-285 0 30 1 58 1-77 0 88 1 28 0-120 1 168 1 37 0 81 1-61 1-166 0 83 1-152 0 131 1-25 1 104 0-124 1-150 1 155 0 161 1-83 0-95 1 105 1-209 0 215 1-96 1-103 0 66 1-64 0 49 1 92 1 32 0-192 1 254 1-97 0 61 1-11 0-116 1 114 1 93 0-211 1-72 1 87 0 106 1 41 0-104 1-41 1-16 0-23 1 53 1-39 0 42 1-21 0 43 1-31 1 95 0-32 1 71 1-129 0 61 1 26 0 5 1 18 1 17 0-130 1-33 1-44 0 117 1-40 0 180 1-190 1 107 0-166 1-2 1-121 0 102 1 131 0-207 1 12 1 18 0-51 1 142 1 240 0-111 1 0 0-105 1 57 1-66 0 103 1-140 1 3 0 116 1-146 0-60 1 63 1 122 0-43 1 7 1 51 0-14 1 4 0 108 1-82 1 63 0-70 1-5 1-90 0 86 1-26 0 132 1-186 1-142 0 155 1-8 1-18 0 69 1-71 0 105 1-5 1-4 0 47 1 83 1-183 0 24 1 83 0 59 1-70 1 55 0-114 1 9 1-30 0-64 1 55 0-20 1-54 1 42 0 253 1-223 1 15 0-25 1-91 0 126 1-20 1 218 0-248 1 63 1 36 0 11 1-68 0 189 1-265 1 72 0 41 1-117 1 9 0 35 1 133 0-134 1 33 1 105 0-26 1-48 1 74 0-114 1 87 0-98 1 20 1-8 0 123 1-57 0-63 1 5 1 61 0-43 1 47 1-11 0-114 1-72 0-32 1 92 1 126 0 10 1-116 1 49 0-108 1 129 0-69 1 168 1-34 0-82 1-16 1 15 0 115 1-73 0 14 1 35 1-66 0 68 1 7 1-242 0 82 1-49 0 134 1 35 1 86 0 24 1 3 1-152 0 77 1 17 0-19 1-119 1 59 0-69 1 118 1-104 0 22 1-49 0 135 1-45 1-26 0 52 1-93 1 17 0-36 1 85 0-43 1 125 1-142 0 131 1-18 1-71 0-59 1 18 0 188 1-8 1-37 0-72 1 83 1-17 0-110 1-7 0-39 1 0 1 157 0 12 1-90 1-49 0 64 1-112 0 107 1 19 1-38 0-35 1 65 1-27 0 68 1 2 0-193 1 171 1-179 0 126 1-117 1 111 0 83 1-59 0-24 1-28 1 98 0 71 1-87 1-5 0 24 1-52 0-141 1-32 1 68 0-68 1-74 1 17 0 279 1 0 0-90 1-84 1 165 0-248 1 172 1 78 0 120 1-222 0-73 1-16 1 54 0 5 1 25 1-141 0 54 1-12 0 231 1 68 1-218 0-20 1 5 1 54 0-16 1 61 0-76 1 179 1-96 0 34 1 31 1-43 0-13 1-12 0-156 1 203 1 41 0-71 1-18 1-39 0-56 1 35 0 117 1-240 1 114 0 50 1 14 1 84 0 19 1-61 0-38 1-32 1 127 0-112 1 122 1-149 0-175 1 282 0-69 1-67 1 112 0-136 1 217 1-11 0-109 1-118 0 143 1 124 1-135 0-141 1 54 0 128 1 96 1-340 0 120 1 203 1 71 0-249 1-81 0 97 1 61 1-91 0-36 1 42 1 144 0-97 1-222 0 246 1 45 1 16 0 5 1-211 1 8 0 160 1 59 0-80 1 34 1-88 0-16 1 153 1-265 0 161 1-154 0 69 1 61 1 182 0-77 1-182 1-29 0 146 1 205 0-202 1 81 1-62 0 54 1-187 1 108 0-25 1 9 0 65 1-113 1-9 0-9 1 78 1-58 0 142 1-70 0 19 1 217 1-42 0-102 1-255 1-27 0 153 1-76 0 134 1-130 1 85 0 84 1 69 1-93 0-139 1 58 0-294 1 276 1-88 0-2 1 72 1 51 0 57 1-109 0-39 1 78 1 70 0 71 1-86 1 120 0-51 1-258 0 180 1 14 1-117 0 2 1 65 1-45 0 35 1-6 0 80 1-102 1-1 0 9 1-24 1 17 0 48 1-28 0 48 1 172 1-84 0-65 1-55 1-45 0-101 1-47 0-19 1 152 1-66 0 264 1-12 1-251 0 84 1 22 0-41 1-22 1 64 0-4 1 121 1-119 0-81 1-26 0 55 1 80 1 7 0 44 1 68 1-146 0 57 1-233 0 97 1-67 1 233 0-48 1-103 1-24 0 31 1-6 0 116 1 42 1-19 0 76 1-187 1 127 0 33 1-61 0-178 1 65 1-2 0 35 1-118 1 50 0 196 1 36 0-109 1-40 1 59 0-59 1-101 1 125 0-125 1-39 0 370 1-95 1-149 0 29 1-4 1-75 0-13 1 128 0 196 1-211 1-104 0 15 1 15 0-28 1 14 1 104 0-48 1-45 1 91 0-35 1-99 0-104 1 78 1-93 0 154 1 56 1-113 0 96 1 47 0 76 1-73 1 1 0 88 1 27 1-138 0-79 1 89 0 44 1-30 1 336 0-211 1-215 1-50 0 117 1 5 0 131 1-1 1-111 0 64 1-216 1-15 0 46 1 29 0 86 1-31 1 157 0-173 1-55 1-24 0 75 1-128 0 91 1 20 1 67 0 17 1 101 1-58 0-33 1-23 0 68 1 49 1-31 0-52 1-135 1 132 0-77 1 38 0 13 1 56 1-248 0 93 1 53 1-52 0 134 1 27 0-85 1 94 1-67 0-146 1 180 1-48 0-79 1 168 0-98 1-8 1 128 0-88 1-89 1-51 0 87 1-108 0 65 1 36 1 84 0-9 1-82 1 16 0-97 1 52 0 38 1-184 1 176 0-22 1-94 1 72 0-28 1-4 0 206 1-216 1 108 0-9 1-135 1 108 0 19 1-45 0 93 1-88 1 24 0 42 1 51 1-102 0 191 1-67 0-7 1-115 1-188 0 96 1-32 1 197 0-147 1 149 0 10 1-32 1 81 0-145 1-73 1 1 0 186 1 91 0-98 1-213 1 247 0 0 1-222 1-6 0-16 1 61 0 1 1 11 1 39 0 175 1-112 1-157 0 131 1-106 0 47 1 56 1-127 0 66 1 120 1 37 0-205 1 3 0 111 1-98 1 31 0-142 1 158 1 92 0 33 1-24 0-32 1-3 1-16 0 37 1-151 1-75 0 169 1-166 0-16 1-25 1 152 0 86 1-173 1 249 0-85 1-12 0 2 1 23 1-46 0-12 1-40 0 90 1-45 1-65 0 18 1 99 1-2 0-96 1 37 0 12 1-2 1-79 0 7 1-249 1 88 0 96 1 15 0 123 1-16 1-63 0-69 1 106 1 72 0-40 1 38 0 17 1-66 1-89 0 137 1-159 1 106 0 160 1-120 0-13 1-28 1 171 0-135 1-64 1 152 0 40 1-154 0-155 1 3 1 256 0-183 1 188 1-31 0 5 1-133 0-31 1 97 1-12 0 110 1-56 1-128 0 71 1 79 0-132 1 103 1-19 0-17 1 2 1 65 0-18 1 15 0-6 1 170 1-102 0-34 1-153 1-33 0 225 1 33 0-148 1 0 1 64 0 39 1-26 1-5 0 59 1-128 0-125 1 99 1-4 0 192 1-27 1 46 0-181 1-88 0 150 1-3 1 38 0-35 1 73 1-167 0 86 1 51 0 9 1-57 1-153 0 33 1 21 1 73 0 40 1-87 0-78 1-45 1 81 0 126 1-12 1-54 0-46 1 3 0-77 1 15 1-6 0-43 1 61 1-62 0 111 1 45 0-163 1 91 1-159 0 304 1-105 1-49 0-168 1 55 0 141 1-16 1 82 0 16 1-97 1-6 0-133 1 348 0-112 1-112 1-84 0 74 1 32 1-31 0-211 1 118 0 189 1 39 1-88 0 75 1-113 1 19 0 32 1-21 0 133 1-12 1-44 0-35 1-18 1-5 0-172 1 267 0-165 1 15 1 113 0-39 1 49 1-13 0-53 1-34 0 19 1-62 1 182 0-168 1 42 1 115 0-151 1 40 0 53 1 6 1 34 0 97 1-103 0-57 1 64 1-13 0 201 1-248 1 80 0 61 1-135 0-78 1 41 1-31 0 64 1 61 1-148 0 291 1-11 0-89 1-118 1 9 0 49 1 13 1-67 0 65 1-19 0-13 1 117 1 9 0-31 1-68 1-87 0 133 1 135 0-213 1 151 1-163 0 107 1 27 1-39 0 57 1-133 0-20 1 263 1-126 0 82 1-111 1-66 0 93 1-45 0-2 1-41 1 25 0 82 1-105 1-8 0 185 1-71 0 30 1-57 1 186 0-114 1-245 1 206 0-58 1-175 0 71 1-31 1 90 0 128 1 6 1-125 0 77 1-33 0 34 1 99 1 115 0-272 1 108 1 10 0-99 1-11 0 15 1-65 1-30 0 65 1 63 1-138 0 43 1 50 0-7 1-130 1-123 0 161 1 63 1-68 0-16 1-45 0 72 1 92 1-146 0 120 1 19 1 21 0-80 1 118 0-21 1-229 1 1 0 2 1-7 1-89 0 200 1-9 0-74 1 80 1-37 0 64 1-55 1-32 0-43 1-5 0 17 1 235 1-138 0-15 1-9 1 66 0-117 1 9 0 51 1-27 1-46 0 114 1-129 1 18 0-35 1 90 0 21 1 56 1-13 0-84 1-3 1-22 0 138 1-73 0-136 1 87 1-30 0 70 1-102 1 54 0-18 1 11 0-170 1 172 1-136 0 226 1-61 1-69 0 82 1-94 0-68 1 114 1 28 0 44 1 110 1-53 0-87 1-54 0 55 1 56 1-10 0 8 1-110 1 20 0 223 1-114 0-100 1 228 1-165 0-1 1-102 1 107 0 16 1 10 0-41 1-93 1 38 0-51 1 94 0 6 1-25 1-40 0-8 1-88 1 174 0 11 1-51 0-99 1 58 1 112 0-117 1 91 1 3 0-127 1-23 0 194 1-195 1 56 0 3 1 312 1-115 0-83 1 25 0 1 1-53 1-41 0-23 1 136 1-66 0 20 1-254 0 119 1 115 1-8 0 127 1-103 1-124 0-42 1-96 0 189 1 116 1-59 0-42 1 15 1-105 0 105 1-17 0-74 1 43 1-82 0-69 1 99 1 155 0-163 1 155 0-9 1 98 1-19 0 27 1-84 1 99 0-14 1-56 0-163 1 103 1 120 0-6 1-283 1 225 0 85 1-114 0-36 1-47 1 174 0-68 1 6 1-162 0-22 1 257 0-171 1 71 1-3 0 23 1 122 1-94 0 48 1-104 0 33 1-52 1 88 0 55 1-165 1 155 0-180 1-43 0 69 1-6 1 85 0-59 1 152 1-145 0 19 1-22 0 130 1-181 1-135 0 112 1 37 1-159 0 86 1 79 0 169 1-238 1 71 0-78 1-51 1 32 0 16 1 69 0-39 1-9 1-12 0 135 1 17 1-17 0-179 1 23 0 184 1-192 1-78 0 76 1-148 1 69 0-5 1-54 0 73 1 120 1 54 0 26 1-59 1-12 0 36 1-207 0 37 1 9 1 58 0-21 1 26 1 60 0-36 1 138 0-73 1-50 1-13 0 45 1-11 1-79 0 89 1 37 0-188 1 120 1 18 0 5 1-78 1 45 0 97 1 38 0 40 1-136 1 19 0-84 1-12 1 94 0-88 1 55 0-109 1 24 1 19 0-74 1 110 0 90 1-56 1 39 0-252 1 188 1 63 0 45 1-203 0 219 1-25 1-18 0 10 1-23 1-89 0 166 1-27 0-96 1-43 1-56 0 124 1 169 1-139 0-145 1 76 0-24 1 82 1 42 0-79 1 165 1-132 0-20 1-63 0 91 1-92 1 3 0-4 1 143 1 51 0 51 1-118 0 46 1-112 1 51 0 80 1-40 1-83 0 34 1-4 0-32 1 35 1 38 0-56 1 144 1-65 0 9 1-63 0-52 1 14 1-27 0 36 1 12 1-81 0 123 1-6 0-78 1-43 1 9 0 82 1-51 1-58 0 117 1-202 0 37 1 171 1-221 0 164 1-110 1 150 0-15 1 126 0-50 1 10 1-101 0-137 1 50 1 162 0-244 1 132 0-30 1-65 1-38 0 121 1-135 1 89 0-3 1 230 0-249 1 99 1 65 0-192 1 52 1 79 0-15 1 13 0 15 1-152 1 92 0-14 1 76 1 27 0-30 1 19 0-64 1-134 1-123 0 217 1-88 1 114 0-84 1 59 0 44 1-22 1 124 0 22 1 112 1-324 0-90 1 107 0-82 1 86 1 124 0-28 1 102 1-95 0-71 1-2 0 121 1-68 1 95 0 6 1 83 1-166 0-19 1-37 0-101 1-44 1 160 0-83 1 97 1 42 0-37 1-2 0 4 1 28 1-52 0 180 1-186 1 78 0 9 1 18 0 56 1-153 1 80 0 9 1-93 1-49 0 83 1 7 0-34 1 11 1-21 0 88 1-27 1 59 0-143 1-6 0 12 1 25 1 68 0 91 1-24 1-115 0 82 1-169 0 51 1 98 1-53 0-163 1 100 0-118 1 143 1 97 0-64 1 110 1 67 0 41 1-245 0 53 1 169 1-200 0 145 1-12 1-178 0 137 1-127 0 103 1-36 1-76 0 49 1 22 1-11 0 134 1-84 0-17 1-132 1 115 0-58 1 26 1 164 0-25 1-61 0-54 1 75 1 9 0-79 1-29 1 79 0 13 1-78 0 94 1-65 1-24 0 186 1-225 1-52 0 34 1-14 0 75 1-50 1 124 0 94 1-93 1-44 0 16 1 42 0 24 1 3 1-41 0 116 1-103 1-3 0-90 1 128 0-53 1 5 1 12 0-62 1-22 1-50 0-66 1 4 0 186 1 202 1-125 0-64 1-91 1-9 0-7 1 105 0 67 1-79 1-191 0 152 1 125 1-121 0 15 1-1 0-71 1 66 1 183 0-47 1-73 1-113 0 86 1-64 0-63 1-51 1 166 0-17 1-13 1 29 0-142 1 116 0-81 1 104 1-75 0-79 1-24 1 134 0 39 1-56 0-70 1 86 1-63 0 180 1-102 1-53 0 129 1-51 0-103 1 176 1-29 0 71 1-271 1 215 0 75 1-178 0-42 1 120 1-119 0-64 1 128 1-83 0-126 1 145 0 183 1-68 1-259 0 330 1-128 1 39 0-126 1 63 0-10 1 63 1 1 0-121 1-89 1 8 0 165 1 47 0-32 1-29 1 103 0-7 1-3 1 0 0 23 1-100 0 109 1 30 1-173 0 74 1 50 1-17 0-64 1-37 0-100 1 82 1 205 0-78 1 88 1-97 0-25 1 99 0-196 1 11 1-61 0 197 1-130 0 19 1-51 1 9 0 88 1 78 1-86 0-18 1 127 0 53 1-327 1 157 0 134 1 31 1-19 0-101 1 78 0-107 1 62 1 100 0-210 1-26 1 37 0-68 1 106 0-26 1 152 1 46 0-189 1 83 1-79 0-82 1 99 0 82 1-47 1-77 0-88 1 13 1 164 0-153 1 168 0-30 1 6 1 31 0 120 1 4 1-148 0 1 1-153 0 74 1 56 1-59 0 117 1-176 1 26 0-130 1 208 0 110 1 31 1-183 0 19 1-80 1 122 0 68 1-33 0-44 1-80 1-176 0 62 1-15 1 147 0 74 1 49 0-52 1 39 1-193 0 22 1 183 1-26 0-208 1 64 0-32 1 32 1 58 0 240 1-147 1 93 0-188 1-13 0 1 1-107 1 43 0 137 1-100 1 58 0-189 1 186 0-27 1 55 1-22 0-39 1-37 1 152 0-9 1-107 0 9 1 19 1 110 0-148 1 152 1-186 0 189 1-223 0 100 1 64 1-130 0 106 1-65 1-4 0 44 1 50 0-39 1 83 1-75 0-98 1 106 1-44 0 5 1 92 0-85 1-301 1 281 0 81 1-191 1-73 0 46 1 87 0 38 1 13 1-46 0 108 1-22 1 108 0-119 1 160 0-176 1 64 1-25 0-243 1 212 1 62 0-96 1 2 0-72 1 13 1-1 0-74 1 142 1 20 0-74 1 25 0 93 1 171 1-206 0-18 1 76 1-71 0-112 1 146 0-66 1 61 1-1 0 44 1-16 1-70 0-2 1-30 0 6 1-44 1-49 0 74 1-16 1-4 0 9 1 62 0 18 1 22 1-117 0 32 1 13 0 90 1-58 1-62 0 173 1-86 1-137 0 188 1 5 0-114 1-143 1 161 0-41 1 205 1 38 0-93 1-71 0 73 1-145 1 61 0 193 1-161 1-40 0-15 1 184 0 4 1-104 1 35 0-185 1 187 1 61 0-188 1-156 0 0 1 262 1-76 0 182 1-231 1 145 0-20 1 83 0-218 1 229 1-119 0-39 1-20 1 100 0 47 1-53 0-23 1-27 1 21 0 40 1 38 1-61 0-70 1 125 0-46 1-97 1 80 0-27 1 42 1 4 0-23 1 100 0-25 1 69 1-70 0-151 1 49 1-143 0 62 1 178 0-133 1 15 1-30 0-5 1 75 1 41 0-18 1-2 0-133 1 17 1 39 0 94 1-175 1 0 0-64 1 146 0-205 1 86 1 15 0 1 1 57 1 156 0 51 1-221 0-59 1 148 1 17 0-145 1 68 1 54 0 55 1 119 0-107 1-71 1-2 0-69 1 139 1-197 0-36 1 204 0 127 1-99 1-34 0-173 1 116 1 5 0 112 1 0 0-173 1 208 1-76 0-9 1-188 1-202 0 137 1 293 0-134 1-121 1 136 0-112 1 3 1 62 0 219 1-49 0-235 1-75 1 187 0-87 1 175 1-58 0-179 1 4 0 84 1 23 1-220 0 127 1 44 1 30 0-52 1 30 0 18 1-46 1 66 0-10 1-72 1 16 0 139 1-83 0 97 1-25 1 79 0-57 1-123 1 10 0 62 1-83 0-47 1 126 1 172 0-60 1-71 1-6 0 23 1-125 0 45 1-99 1-33 0 136 1-38 0-46 1 14 1 49 0 10 1 38 1-187 0 74 1-64 0 88 1 87 1 56 0-44 1 166 1-84 0-38 1 70 0-173 1 160 1-121 0 46 1-35 1-15 0 34 1 123 0-106 1 101 1-125 0-19 1 136 1-50 0-13 1-130 0 184 1-56 1-39 0-152 1-19 1 21 0 161 1-71 0 4 1-11 1 18 0-18 1 27 1-34 0-132 1 81 0-43 1 17 1 142 0-77 1-3 1-5 0 155 1-29 0-36 1 39 1 42 0-126 1 52 1 64 0-54 1-62 0 66 1 7 1 34 0-74 1-76 1-102 0 65 1 144 0-29 1-13 1-290 0 11 1 210 1 60 0 194 1-122 0-171 1 119 1-55 0 19 1-146 1-46 0 60 1 140 0 73 1-13 1-270 0 109 1-12 1 258 0-67 1-117 0-52 1-68 1 31 0-194 1 121 1-48 0 195 1-41 0 83 1-83 1 279 0-54 1-98 1-16 0-68 1 52 0 13 1 16 1-195 0 208 1-65 1-92 0 133 1 69 0-197 1 43 1 124 0-233 1 122 1 6 0-120 1 199 0-35 1 11 1-122 0 169 1-124 1-19 0-15 1 149 0 110 1-176 1-130 0-26 1 81 1-51 0-89 1 124 0-5 1 131 1-271 0 229 1-61 1 51 0-109 1 171 0 119 1-187 1 120 0-158 1 26 1-10 0 131 1-79 0 1 1-79 1 41 0 13 1-65 1-85 0 239 1-11 0-88 1 58 1 82 0 2 1-54 1-24 0 19 1-107 0-34 1 38 1 143 0-107 1 129 1-245 0 180 1 67 0-48 1 2 1 106 0-89 1-130 0 138 1-47 1 53 0-137 1 52 1 90 0 47 1-99 0-18 1-157 1 163 0-58 1 65 1 86 0-30 1-143 0 112 1-78 1-70 0 23 1 28 1-85 0-31 1 251 0-64 1 36 1 0 0 46 1-30 1-229 0 185 1-96 0-6 1 221 1-176 0-80 1-77 1 86 0-73 1 102 0-40 1 172 1 29 0-114 1 165 1 44 0-187 1 18 0 84 1-20 1 19 0 10 1-3 1-8 0 94 1 5 0-137 1-16 1 85 0-65 1-62 1-13 0 77 1-41 0-62 1 16 1 38 0 71 1-50 1 11 0-96 1 75 0 1 1 75 1-99 0-27 1 75 1-54 0 21 1 69 0 58 1-97 1 54 0-214 1 0 1 76 0-13 1-33 0 278 1-100 1 27 0-64 1 124 1-177 0 130 1-121 0-58 1 119 1-17 0 16 1-22 1-15 0 49 1 46 0 21 1-98 1-109 0-94 1 86 1 37 0-22 1 120 0-140 1-74 1 140 0-59 1 25 1 75 0-115 1 74 0-67 1 33 1 88 0-66 1 172 1-171 0-35 1-41 0 88 1-4 1-27 0-54 1-56 1 79 0-76 1 135 0 126 1-64 1 52 0-57 1-8 1-7 0 5 1 88 0-68 1-35 1-70 0-89 1 148 1 156 0-5 1-108 0 7 1-151 1 39 0 125 1 16 1 26 0-312 1 219 0 46 1 27 1-16 0 16 1-79 1 31 0 13 1-88 0-95 1 21 1 32 0 53 1 32 1-23 0-70 1 88 0-38 1-12" fill="none" stroke="#000" stroke-width="5" stroke-linejoin="bevel"/>
<path transform="scale(.1)" d="M492 2937l1 17 0 11 1-44 0-160 1 170 1-130 0-60 1 97 1 51 0-66 1-73 0-90 1 64 1-30 0 136 1 70 1 80 0-16 1-60 0-59 1 91 1-125 0 29 1 46 1 24 0-191 1 74 0 98 1 34 1-188 0 115 1-90 1-44 0 254 1-184 0 56 1 80 1-13 0-83 1-11 1-6 0 81 1-117 0-51 1-38 1 47 0-48 1-27 1 91 0 14 1 27 0 11 1-18 1 178 0-44 1-70 1 162 0 3 1-212 0 124 1-4 1-59 0 42 1 42 1-12 0-7 1 8 0-51 1-114 1 55 0-71 1 43 1 7 0 21 1 72 0-28 1 2 1 101 0-100 1-17 1 11 0 71 1 169 0-238 1 39 1 162 0-149 1 52 1-82 0 35 1-77 0 44 1 11 1 14 0-71 1 159 1-126 0-2 1 91 0-11 1 30 1-26 0-68 1 95 1-70 0-32 1 13 0-61 1 101 1-23 0-132 1 135 1 55 0 11 1-37 0 76 1-2 1 107 0-15 1-7 1 11 0-46 1-96 0 50 1 84 1-86 0-18 1 107 1-77 0 66 1-10 0 5 1-107 1 85 0-7 1-37 1-71 0-32 1 148 0-112 1 30 1-53 0-6 1 111 1-8 0 24 1-40 0-103 1 82 1 76 0-204 1 189 1-14 0-2 1 89 0-121 1-57 1 62 0 8 1 17 1 117 0-108 1 70 0-1 1-97 1-70 0 104 1-112 1-80 0 87 1 43 0-10 1 38 1 42 0-94 1-35 1 73 0 13 1 18 0 9 1 21 1 43 0-158 1 39 0-20 1-130 1 120 0-40 1 123 1-16 0-99 1 37 0 94 1 33 1-125 0 51 1-101 1-3 0 40 1-7 0-60 1 29 1 77 0-69 1 25 1-2 0-59 1-5 0-52 1 66 1 36 0 1 1-51 1 65 0-13 1 27 0 2 1-42 1-196 0 133 1-7 1 6 0 19 1-12 0-140 1 108 1-100 0 32 1 114 1 16 0-10 1 36 0-145 1 4 1-8 0 103 1-75 1 42 0-196 1 113 0 5 1-9 1 54 0 8 1 2 1-89 0 80 1-17 0-41 1 36 1 75 0 8 1-54 1 19 0-129 1 25 0 8 1 67 1-87 0 33 1 51 1-9 0-212 1 140 0 60 1-122 1-7 0 69 1-94 1 169 0-17 1 74 0-183 1 37 1-164 0 97 1 29 1 120 0 39 1-36 0-105 1 103 1 123 0-184 1-57 1 109 0-59 1-64 0-23 1 182 1-57 0 42 1-105 1 29 0 98 1-61 0-51 1 132 1 28 0-38 1-36 1 8 0 88 1 8 0-103 1-61 1 70 0-51 1-136 1 102 0 46 1 31 0-74 1-6 1-7 0 41 1-42 1-13 0 33 1-82 0 163 1-111 1 26 0-61 1-92 1 97 0 45 1-1 0-98 1-42 1 81 0-10 1-85 1 62 0 159 1 0 0-24 1-70 1 44 0-122 1 91 1-116 0 120 1-103 0 48 1-72 1-60 0-4 1 49 1 139 0 46 1 180 0-273 1-67 1-5 0 149 1-227 1 170 0-55 1 156 0-23 1-136 1-29 0 138 1-28 1-92 0 179 1-130 0 124 1-116 1 29 0-79 1 83 0 13 1 4 1 44 0-34 1 42 1-19 0-93 1 42 0-87 1 1 1-10 0 136 1-70 1-92 0 9 1-20 0-27 1 204 1-85 0-24 1 45 1 91 0-76 1 0 0-150 1 1 1 120 0 82 1 10 1-54 0 31 1-183 0 169 1-28 1-25 0-27 1 89 1-25 0-35 1-21 0 57 1-2 1-36 0-131 1 180 1-79 0-87 1 184 0-146 1-40 1 82 0-39 1-49 1 101 0 5 1 93 0 2 1-53 1-4 0-121 1 93 1 99 0-118 1-38 0 26 1 47 1 60 0 9 1-149 1 8 0 52 1-7 0 51 1 56 1-13 0-34 1 104 1 18 0 27 1-81 0-98 1 109 1 20 0 42 1-68 1 31 0-1 1 9 0-234 1 95 1 69 0 6 1-91 1-34 0 41 1 170 0-156 1-53 1 7 0 23 1 35 1-68 0 86 1-68 0 86 1 21 1 9 0 13 1 0 1-85 0-83 1 135 0 65 1-142 1 70 0-21 1 4 1-52 0 112 1-111 0-10 1 211 1-81 0-7 1-55 1 15 0 53 1-12 0-52 1 6 1 16 0-161 1 71 1 136 0-46 1-28 0 83 1-51 1 51 0 111 1-146 1-64 0-19 1 47 0 46 1-43 1-27 0-41 1-42 1 25 0 104 1-6 0 92 1-122 1-28 0-51 1 35 1-67 0 138 1-31 0 31 1 7 1 109 0-39 1 74 1-93 0-2 1-60 0 120 1-54 1-35 0 133 1-236 1 10 0 91 1-157 0-11 1 264 1-73 0 0 1-48 0 55 1-30 1-36 0 169 1-133 1-130 0 53 1-56 0-49 1 77 1 13 0 4 1 58 1-171 0 75 1 14 0-23 1-44 1 185 0 32 1-73 1-50 0 108 1 43 0-138 1-38 1 60 0 19 1 29 1 48 0-6 1-77 0 1 1-79 1 137 0 68 1-139 1 64 0-25 1-33 0 80 1 44 1-115 0 177 1-182 1 115 0-148 1-11 0 1 1-18 1 19 0 112 1-122 1 11 0-21 1 34 0 20 1-78 1-26 0 41 1 113 1 12 0 9 1-150 0-1 1 29 1 21 0 46 1-96 1 100 0 16 1-116 0-22 1 41 1 95 0 28 1-142 1-12 0-84 1 112 0 4 1 61 1-166 0 185 1-107 1-105 0 149 1 77 0-8 1 25 1-118 0-8 1 55 1-28 0-136 1 83 0 35 1-156 1 154 0 16 1-132 1 62 0 155 1-30 0 89 1-85 1-96 0 112 1-197 1-38 0 21 1 118 0-28 1-46 1-43 0-29 1 222 1-22 0 12 1-43 0-46 1-188 1 117 0-45 1 65 1-1 0-125 1 165 0-79 1-97 1-135 0 227 1 87 1 80 0-32 1-53 0-33 1-49 1 90 0-17 1 90 1-4 0-61 1 148 0-139 1-65 1 14 0 0 1 14 1 92 0-62 1 34 0-41 1-8 1-9 0 104 1-55 1-149 0 17 1 84 0 64 1-105 1 40 0 138 1-52 1-167 0 190 1-69 0 37 1-37 1 15 0 37 1 132 1-129 0-55 1-4 0 64 1-13 1-207 0 176 1-3 1 64 0-53 1-49 0-85 1 46 1 31 0-17 1-18 0 37 1 11 1-86 0 113 1-11 1 57 0-12 1-146 0 112 1-53 1-129 0 76 1 72 1 67 0 148 1-68 0-22 1-140 1-24 0 137 1-95 1 62 0-156 1-22 0 51 1 92 1-125 0 25 1-12 1 42 0 69 1-54 0 101 1-85 1 19 0 137 1-110 1 7 0 27 1-12 0-63 1 118 1 33 0-117 1 5 1 140 0-90 1 104 0-139 1-11 1-15 0 140 1-10 1-119 0 126 1-98 0 24 1-17 1 65 0-81 1-9 1-37 0-125 1 154 0 26 1 88 1-173 0 98 1-50 1 120 0-28 1-68 0-14 1 48 1-69 0 35 1-58 1 74 0-42 1 67 0-104 1 58 1 14 0 46 1-99 1 29 0 36 1-100 0 117 1-90 1-65 0 209 1-124 1-13 0 20 1-7 0 108 1-90 1-9 0 117 1-58 1 55 0-78 1 45 0-59 1 92 1-37 0-20 1-22 1-104 0-106 1 229 0-99 1 48 1 16 0 5 1-11 1-8 0-69 1-52 0 49 1 34 1-26 0 2 1-98 1 166 0 80 1-56 0-55 1 20 1-25 0 191 1-68 1-28 0 40 1-40 0-38 1-55 1 77 0 74 1-121 1-144 0 82 1 27 0 85 1-56 1-114 0 213 1-143 1 166 0-192 1-11 0 76 1-18 1-104 0 160 1-109 1 8 0 42 1-88 0 189 1-49 1 61 0-62 1-60 1 130 0-94 1-27 0 52 1-19 1-87 0 27 1-85 1 163 0 62 1-152 0 132 1-141 1 44 0-36 1 60 0-79 1-45 1-6 0 48 1 141 1-118 0 23 1-77 0 173 1-84 1 36 0-17 1-69 1-17 0-48 1 52 0 9 1 18 1 107 0-120 1 94 1 7 0-62 1 56 0 3 1 142 1-68 0-4 1-34 1-91 0 29 1-1 0-17 1-68 1-26 0 38 1 57 1-61 0 62 1 12 0-31 1 46 1 56 0 27 1-56 1-53 0-45 1 85 0-43 1-2 1 32 0-194 1 167 1 55 0-50 1-113 0 96 1-88 1 135 0-2 1-15 1-1 0-22 1 5 0 7 1 56 1-87 0 4 1-13 1-69 0 25 1 24 0-73 1 104 1 109 0-34 1 35 1-57 0-18 1-17 0-29 1-32 1 5 0 21 1 37 1 24 0-25 1 10 0 59 1-27 1-85 0 19 1 67 1-52 0-42 1 103 0-152 1-11 1 86 0-60 1 38 1-13 0 97 1 3 0-14 1-14 1 22 0 80 1-6 1-103 0 25 1-129 0-16 1 103 1 2 0 138 1-128 1-64 0 107 1 33 0-3 1-86 1-45 0 119 1-2 1-60 0 4 1 38 0-43 1 83 1 64 0-119 1-42 1-51 0 95 1 67 0-40 1-1 1-9 0 9 1-91 1 41 0-55 1 121 0 57 1-110 1 111 0 30 1 9 1 50 0-135 1-120 0 40 1-5 1 78 0 64 1-79 1 90 0 52 1-27 0-135 1 6 1 43 0 69 1 13 1-79 0 4 1 47 0-112 1 85 1 92 0-63 1-109 1-9 0-16 1 112 0-49 1 6 1 28 0 69 1-139 1 33 0 54 1-70 0-141 1 227 1-51 0-118 1-38 0 179 1 22 1 108 0-103 1 71 1-10 0-170 1 125 0 76 1-100 1-42 0-16 1-70 1 104 0-8 1-55 0 53 1-108 1-5 0 61 1 31 1-7 0-21 1 148 0-2 1-32 1-5 0-15 1-6 1-47 0 15 1-40 0-11 1 22 1 33 0 32 1-94 1 57 0-28 1-46 0 26 1 130 1-16 0-189 1 188 1-136 0 120 1-44 0-78 1 119 1-101 0 190 1-82 1 10 0-68 1-42 0-40 1-8 1 103 0 67 1-71 1 46 0 121 1 43 0-105 1-32 1-40 0-20 1 118 1-94 0 73 1-85 0 4 1-108 1 50 0 77 1 5 1-18 0-43 1-26 0 105 1 41 1-111 0 17 1-68 1 18 0-77 1 47 0 143 1-12 1-69 0 87 1-45 1-59 0-46 1 1 0 162 1-134 1 99 0-37 1 51 1-105 0 36 1-11 0-17 1 30 1 46 0-126 1 17 1-7 0 172 1 69 0-231 1-3 1 170 0-99 1-7 1 72 0-16 1-163 0 129 1-45 1 76 0 73 1-256 1 47 0 95 1 21 0 0 1 56 1-90 0-41 1 64 1-6 0 87 1-86 0 136 1-96 1-142 0 82 1-195 1 217 0 2 1-16 0-76 1-44 1 61 0 144 1-176 1 2 0-13 1 169 0-105 1 13 1-84 0-86 1 165 1-8 0-18 1 53 0-86 1-27 1 94 0 22 1-82 1 125 0-124 1-81 0-29 1 126 1-174 0-78 1 218 1-158 0-20 1 22 0 131 1-102 1 129 0-53 1-80 0-5 1 58 1-38 0 26 1-28 1 70 0 49 1-35 0 41 1-177 1-171 0 96 1-12 1 172 0-23 1 71 0-121 1 4 1 90 0-169 1 66 1-49 0-24 1-53 0-3 1 98 1 51 0 48 1 48 1-214 0 125 1-123 0 150 1 35 1-128 0 56 1 73 1-175 0 186 1 19 0-114 1-102 1 96 0 100 1-222 1 119 0 89 1-33 0-96 1 301 1-55 0-160 1-35 1 31 0 27 1-53 0-55 1 120 1 23 0-91 1 64 1 100 0-65 1 56 0-125 1-59 1 105 0-10 1-43 1-88 0-8 1 57 0 7 1-81 1 32 0 18 1 137 1-65 0-41 1 18 0 98 1 93 1-173 0-56 1 25 1 92 0-8 1-34 0-80 1 29 1 83 0-1 1 54 1-229 0 139 1-137 0 52 1-111 1 202 0-88 1 105 1 31 0-1 1 48 0-20 1-59 1-175 0 119 1 126 1-136 0-103 1 291 0-162 1 104 1 70 0-185 1-123 1-68 0 126 1 70 0-25 1-42 1-39 0-54 1 62 1 3 0 30 1 91 0-72 1-108 1 25 0 248 1-231 1 128 0-222 1-54 0 104 1-66 1 203 0 9 1 45 1-73 0 3 1-12 0 5 1-113 1 91 0 66 1-25 1-37 0-8 1 120 0-6 1-16 1 48 0 73 1-61 1 154 0-148 1 40 0-67 1-33 1-182 0-60 1-38 1 167 0 101 1-82 0 133 1-36 1 45 0-43 1-78 1 131 0-72 1-14 0-7 1-24 1 70 0-4 1 25 1 107 0-221 1-1 0 3 1 117 1 129 0-130 1 62 0-208 1-57 1 175 0-102 1 24 1 76 0 150 1-137 0-62 1-23 1 114 0-15 1-6 1 3 0 56 1-126 0 6 1 83 1-43 0-58 1 39 1 14 0-35 1 123 0-85 1 89 1-44 0-100 1 111 1-102 0 14 1-56 0 224 1 271 1-169 0-306 1 56 1 65 0-7 1-39 0 40 1-198 1 126 0 160 1 45 1-85 0-34 1-81 0-35 1-18 1 167 0-73 1 70 1-48 0 87 1-174 0-58 1 69 1 130 0-130 1 23 1 147 0-125 1-57 0 15 1 196 1-152 0-68 1 111 1-111 0 16 1-35 0 215 1-57 1-84 0 143 1-94 1-166 0 226 1-183 0-13 1 148 1 38 0 16 1-96 1 196 0-199 1 128 0-59 1-12 1-107 0 119 1 19 1-166 0-90 1 118 0 60 1-34 1 7 0 5 1 87 1 130 0-171 1-26 0-108 1-32 1-54 0 166 1-55 1 153 0-83 1-47 0 90 1-25 1-226 0 213 1-99 1 90 0-81 1 273 0-27 1-100 1-195 0 97 1 121 1-32 0-115 1 163 0-88 1-5 1 15 0-66 1 78 1-89 0-33 1-104 0 86 1 60 1 107 0-19 1 59 1-214 0 250 1-163 0-53 1-33 1 83 0-203 1 155 1 154 0-35 1-3 0-177 1 60 1 94 0 29 1-58 1 9 0-30 1-105 0 172 1-10 1-84 0 122 1-146 1-108 0 71 1-39 0 86 1-4 1-26 0 18 1-103 1 113 0-82 1 90 0-147 1-28 1 82 0 173 1 9 0 159 1-252 1 39 0 37 1-54 1 112 0-49 1-70 0-88 1-137 1 222 0-83 1 110 1 70 0-99 1 8 0 128 1-88 1-202 0 175 1 54 1-157 0 38 1 100 0-77 1 63 1 41 0-87 1 86 1-119 0-106 1 164 0 54 1 18 1-53 0 50 1-61 1-76 0 140 1-70 0-102 1-2 1 152 0-144 1 151 1-125 0 188 1-135 0 38 1 16 1 10 0 54 1-107 1-5 0-59 1 128 0-99 1-54 1 149 0-139 1-66 1 215 0 43 1-282 0 98 1 72 1 92 0-113 1 64 1-54 0 1 1-24 0-24 1 76 1-40 0-24 1 69 1 62 0-65 1-133 0 114 1 59 1-47 0 52 1-29 1 1 0 50 1-63 0 87 1 18 1 87 0-47 1-100 1-110 0-193 1 217 0 93 1-177 1 243 0-127 1 12 1-110 0 125 1 6 0 165 1-41 1-59 0 29 1 23 1-144 0 175 1 70 0 6 1-58 1 1 0-51 1 20 1-207 0 150 1-1 0-67 1-169 1 162 0 79 1-111 1 90 0 121 1 37 0-89 1 56 1-195 0-6 1-114 1 87 0 69 1-61 0-35 1 131 1-190 0 87 1-57 1 122 0-107 1-141 0 169 1 94 1-21 0-71 1-11 1 160 0-156 1-9 0 15 1 120 1-99 0-93 1 0 1 49 0 20 1-8 0 124 1-200 1-1 0 95 1 8 1 132 0 5 1-126 0 62 1 60 1-50 0-80 1 115 1-103 0-32 1-16 0 3 1 41 1 42 0-96 1 136 1-144 0 171 1-37 0-53 1 160 1-152 0-94 1 157 0-27 1-95 1-25 0-29 1 216 1-53 0-138 1 187 0 40 1-86 1-27 0 106 1-7 1-75 0-44 1-164 0 27 1 67 1 40 0-54 1-179 1 200 0 107 1 59 0-87 1 73 1 87 0-72 1-21 1-158 0-102 1 143 0 44 1-121 1 53 0 48 1-91 1 124 0-101 1-153 0 259 1-87 1 33 0-122 1-11 1 155 0-15 1 58 0-149 1 119 1-29 0-97 1 91 1 81 0 30 1-1 0-72 1-13 1-68 0 22 1-102 1 5 0-55 1 155 0 96 1-188 1 20 0 219 1-66 1-108 0-101 1-131 0 65 1 91 1 90 0 60 1 3 1 39 0-83 1-120 0 10 1 129 1-106 0-72 1 84 1 36 0-13 1-43 0 194 1-35 1 27 0-108 1-72 1 66 0-118 1 35 0 2 1 14 1 110 0-215 1 62 1 176 0-141 1-67 0 163 1-69 1-148 0 40 1 49 1 20 0-31 1 112 0-15 1-67 1 5 0-111 1 234 1-262 0 139 1 57 0-33 1-105 1 78 0-113 1-16 1 87 0 43 1 14 0-32 1 130 1-198 0 53 1 1 1 77 0 22 1-174 0 236 1-110 1 56 0 95 1-168 1 87 0-103 1 61 0 171 1-117 1 59 0-58 1-7 1-65 0 14 1 38 0 43 1 85 1 86 0-169 1 74 1-39 0-108 1-48 0-14 1 57 1-3 0 4 1 15 1 129 0-83 1-78 0 61 1 6 1 223 0-54 1-303 1 197 0-74 1-78 0-1 1 69 1 42 0 118 1-216 0 72 1-68 1 211 0 95 1 33 1-227 0 28 1 8 0-43 1 2 1-2 0 70 1 48 1-81 0-99 1 106 0-26 1 31 1-60 0 122 1-225 1-59 0 122 1 58 0 150 1-178 1 10 0-3 1 153 1-154 0-142 1 204 0-13 1-127 1 7 0-1 1-206 1 80 0 128 1 292 0-138 1 59 1 9 0-215 1 134 1-38 0-146 1 137 0 23 1 62 1-43 0 83 1-130 1 36 0-88 1-41 0 44 1-4 1 41 0-66 1-56 1 23 0-74 1 73 0 43 1-34 1 165 0-44 1 118 1-161 0-106 1 158 0-3 1-10 1-155 0 22 1-72 1 33 0 6 1 222 0 82 1-264 1-168 0 253 1 67 1-176 0-130 1 236 0 33 1-128 1 15 0 5 1-41 1 161 0 29 1-197 0 215 1-148 1 74 0-136 1 87 1 36 0-104 1 67 0 22 1 213 1-190 0 7 1-101 1 96 0 93 1-186 0 60 1 41 1 108 0-210 1-22 1 162 0-104 1-10 0-63 1 86 1-159 0 313 1 61 1-182 0-75 1 17 0-167 1 125 1 209 0-220 1 61 1 56 0-70 1-21 0 79 1-84 1 8 0 53 1 12 1 176 0-53 1-21 0-42 1-173 1 77 0 60 1 100 1-42 0 31 1 16 0-85 1 123 1-45 0-163 1 29 1 95 0-5 1 16 0-167 1-45 1-50 0 163 1 26 1-76 0 151 1-6 0-139 1 94 1 50 0-103 1 34 1 40 0-54 1 146 0-172 1-6 1-17 0 6 1-39 1 199 0-97 1-151 0 142 1 57 1 5 0 68 1-326 0 151 1-41 1 138 0 19 1 29 1 59 0-69 1-163 0 111 1-115 1-119 0 92 1-39 1-25 0 150 1 34 0 117 1-78 1-163 0 25 1 45 1 38 0 43 1-23 0-239 1 14 1 87 0 66 1 58 1-127 0 84 1 17 0-2 1-136 1 55 0-105 1 165 1 53 0 53 1-92 0 81 1-27 1-161 0 18 1 78 1 20 0 261 1-3 0-231 1 76 1 7 0-132 1 136 1-77 0 14 1-33 0 11 1-143 1 42 0-58 1 166 1 2 0-34 1-116 0 26 1 93 1 124 0-64 1 79 1 16 0-26 1-20 0 11 1-138 1 57 0 92 1-55 1 111 0-118 1-51 0-22 1 132 1-120 0-26 1-83 1 72 0 63 1 38 0 46 1 35 1-6 0-131 1 56 1 0 0 36 1-56 0-49 1-4 1 138 0-30 1-187 1 76 0 56 1 56 0 88 1 56 1-94 0-55 1 52 1-37 0-62 1-14 0-49 1 181 1-72 0-47 1 17 1 108 0 56 1-223 0 101 1-32 1 55 0 30 1-78 1-59 0 53 1 31 0-74 1 58 1 19 0 29 1-47 1 14 0 10 1 10 0-33 1-81 1 71 0 73 1-195 1 26 0 115 1 123 0-172 1 90 1-25 0 178 1-186 1-85 0 69 1 27 0-4 1 83 1 20 0-152 1 52 1-6 0 3 1-66 0 43 1-32 1-23 0 84 1-5 1-43 0-48 1 22 0 0 1 106 1-7 0-64 1 27 1-6 0-13 1-109 0 142 1-86 1-14 0 28 1 76 0-29 1 27 1-86 0 32 1 1 1 73 0-128 1 187 0-252 1 165 1 26 0-2 1 69 1-153 0 80 1 38 0-126 1-3 1 163 0 26 1-88 1-39 0-48 1 39 0-89 1-17 1 41 0 38 1-66 1-40 0 68 1 45 0-44 1 77 1-38 0-41 1 122 1 13 0 87 1-69 0-95 1 39 1-54 0 15 1 65 1-134 0 67 1-61 0 21 1 41 1-115 0 115 1 53 1-120 0 29 1 90 0 1 1 64 1-111 0-74 1 22 1-7 0-44 1 67 0 83 1 21 1-69 0-10 1-3 1 95 0-50 1-117 0 61 1-62 1 47 0 51 1-86 1-62 0 53 1-27 0 108 1 79 1 73 0-105 1-135 1 103 0 93 1-76 0-17 1-3 1 69 0-157 1 104 1 7 0 97 1-122 0-117 1 13 1 164 0-86 1 103 1-30 0 2 1-79 0-5 1 59 1 5 0-110 1 174 1-13 0-193 1 79 0 100 1-78 1-50 0 115 1-24 1 21 0-88 1 7 0 62 1-87 1 72 0-159 1 10 1 113 0-4 1-68 0 24 1 121 1 2 0-1 1-15 1 101 0-142 1-233 0 159 1 48 1 39 0-43 1 72 1-1 0-60 1 180 0-63 1-182 1 7 0 48 1 5 1 195 0-169 1 20 0-110 1 28 1-14 0 148 1 50 1-243 0 86 1 38 0-121 1 19 1 0 0-79 1 78 1 61 0 33 1 131 0-105 1-31 1 26 0-212 1 178 1 16 0 16 1-5 0-85 1 54 1-56 0-157 1 158 0 69 1 13 1-128 0 24 1 9 1 56 0 29 1-165 0-34 1 173 1 57 0-11 1-3 1-102 0-69 1 87 0 87 1-109 1-71 0 194 1-72 1 69 0 21 1 4 0-167 1 28 1 85 0-20 1-38 1 122 0-116 1 88 0 10 1-170 1 303 0-225 1-71 1 78 0-81 1 46 0 71 1-53 1 50 0 2 1 42 1-252 0 40 1 107 0 127 1-3 1-8 0 18 1-62 1-22 0-138 1-25 0 204 1-148 1 136 0-111 1 30 1 18 0-15 1 69 0 60 1-208 1 184 0-109 1 89 1-74 0 13 1-8 0 67 1-64 1-130 0 40 1-28 1 129 0 23 1-78 0 156 1-148 1 37 0 26 1-120 1 138 0-127 1 156 0 54 1-147 1-54 0 176 1-61 1-157 0 98 1 127 0-31 1-34 1 3 0 72 1-15 1-78 0-43 1 43 0-27 1 11 1 131 0-190 1-43 1 85 0 40 1-4 0-6 1-48 1-27 0 85 1 80 1 30 0-191 1 78 0 95 1 113 1-181 0 1 1-7 1 88 0-14 1 5 0-53 1-155 1 139 0 88 1-130 1-32 0 89 1-17 0 61 1-181 1 49 0 163 1-133 1-47 0 168 1-58 0-18 1 114 1 50 0-338 1 195 1-67 0-32 1-35 0-1 1 59 1 89 0 59 1-112 1 73 0-120 1 53 0-93 1 189 1-195 0 100 1-32 1 130 0-114 1 0 0-68 1 15 1-103 0 246 1-10 1 65 0-74 1-102 0-28 1 112 1 100 0-82 1-72 1 138 0-74 1 42 0-77 1 62 1-115 0 88 1-24 0-242 1 485 1-149 0-54 1-58 1-23 0 14 1 69 0-14 1-60 1 139 0-150 1 38 1-92 0 98 1-35 0 42 1-75 1-43 0 116 1-60 1 46 0-48 1 75 0 19 1-63 1-55 0 40 1-6 1 65 0-90 1 50 0 85 1-168 1 164 0-142 1 37 1-12 0-137 1 172 0 84 1 51 1-84 0-112 1 70 1 7 0-14 1 31 0-27 1 104 1 99 0-72 1-33 1-138 0 20 1 111 0-145 1-12 1 110 0-168 1 87 1 93 0-6 1-79 0 11 1 112 1-177 0 78 1 70 1-19 0-38 1-121 0-19 1 236 1-40 0-40 1-27 1-62 0 3 1 134 0-173 1 21 1 199 0-154 1 11 1 126 0-73 1-60 0 12 1 75 1-22 0 2 1 14 1-72 0 89 1-63 0-40 1-48 1 19 0 67 1 28 1 22 0-163 1 109 0 61 1-17 1-96 0-40 1 175 1-147 0 40 1-128 0-19 1 156 1 68 0 24 1-37 1-69 0-21 1-14 0-21 1 65 1 0 0-34 1-69 1 85 0 58 1-89 0 9 1-14 1 41 0-30 1 56 1 46 0-59 1 106 0-122 1-144 1 189 0 38 1-87 1 67 0-71 1 29 0 31 1-85 1 78 0 20 1 69 1-124 0 14 1 37 0-88 1 43 1-81 0-5 1 93 1 42 0-140 1 70 0 61 1-20 1 111 0-106 1 83 1-115 0 55 1-44 0-124 1-6 1 113 0-19 1 107 1-78 0-93 1-2 0-11 1 45 1 130 0-49 1 67 0-131 1 48 1 33 0 51 1-80 1-45 0-4 1 150 0-113 1 43 1 147 0-177 1-20 1 134 0-152 1-14 0-100 1 62 1 46 0 150 1-242 1 199 0-22 1-90 0 46 1 208 1-125 0-29 1-123 1 51 0-106 1 3 0-6 1 28 1-119 0 59 1 19 1 83 0 52 1 91 0 75 1-37 1-167 0 67 1-22 1 10 0-32 1-49 0-99 1 185 1-203 0 112 1 73 1-1 0-133 1 6 0-51 1 122 1-107 0 83 1-25 1 83 0-4 1 18 0-112 1-23 1 302 0-169 1-48 1 89 0 18 1-172 0 59 1-75 1-17 0 249 1-226 1 142 0-18 1-36 0-57 1-19 1 51 0 8 1-46 1-52 0 82 1-46 0-8 1 82 1 0 0-14 1-195 1 94 0-13 1-2 0 108 1-53 1 142 0 26 1-133 1 27 0-47 1-39 0-123 1 128 1 25 0 183 1-219 1 39 0 54 1-98 0 37 1 68 1 31 0-105 1-56 1 57 0 27 1-169 0 146 1 90 1-100 0 67 1 80 1-105 0 22 1-161 0 54 1-34 1-32 0 42 1-19 1 162 0 34 1-50 0-105 1 5 1-10 0-22 1 79 1 68 0 27 1-166 0 191 1 37 1-122 0 72 1-99 1 77 0-32 1 53 0-92 1-15 1-95 0 41 1 16 1 116 0-6 1 20 0 96 1 7 1-91 0-65 1-127 1 152 0 99 1-135 0 45 1 46 1-10 0 138 1-127 1-60 0-1 1 43 0-19 1-101 1 119 0-190 1 103 1 7 0-197 1 137 0 92 1-22 1 113 0-168 1 46 0 23 1 62 1-60 0-57 1 255 1-15 0-159 1 38 0-19 1 77 1 19 0-171 1 6 1-10 0 276 1-167 0-61 1-25 1 79 0-102 1-43 1 77 0 216 1-125 0-60 1-56 1 72 0-58 1 43 1-1 0 11 1-54 0-69 1 2 1 148 0-91 1 57 1-30 0 221 1-200 0 23 1 6 1-33 0 90 1 7 1 135 0-190 1 15 0-50 1-34 1 60 0-69 1 193 1-79 0-78 1 64 0-42 1 35 1-92 0-39 1 120 1 18 0-46 1 27 0-33 1 18 1-25 0 93 1-78 1-77 0 143 1-77 0-10 1-32 1 193 0-86 1-9 1-80 0-36 1 260 0-78 1-103 1-39 0-11 1 99 1-2 0-67 1-55 0 25 1 97 1 190 0-132 1-61 1-30 0-58 1-28 0-128 1 114 1 3 0-93 1 26 1 126 0-67 1 130 0-116 1-41 1 90 0-95 1 10 1 82 0-79 1 91 0-28 1 97 1-163 0 70 1 55 1-23 0-108 1-89 0 108 1 83 1-33 0-2 1-42 1 37 0-22 1 165 0 0 1-79 1 57 0-7 1-146 1 35 0 10 1 3 0 36 1 15 1-24 0-62 1 15 1-7 0-94 1 51 0-33 1 22 1-33 0 133 1 60 1-124 0 0 1-33 0 155 1-242 1 113 0-127 1 150 1 45 0 150 1-152 0-16 1 27 1-61 0 70 1-88 1 1 0 9 1 72 0 28 1-140 1 53 0 12 1 12 1 22 0 96 1-102 0 30 1 38 1-138 0-131 1 155 0-1 1 131 1-135 0 29 1-46 1-23 0 88 1-42 0 48 1-21 1 14 0 120 1 2 1 62 0 28 1-159 0-118 1 12 1 83 0-203 1 89 1-31 0 110 1-22 0 109 1-12 1 73 0-91 1 25 1 42 0-113 1 37 0 12 1-31 1 67 0-40 1 5 1 21 0-17 1-71 0 18 1 36 1 60 0-84 1-71 1 75 0 104 1-227 0 92 1-108 1 230 0 65 1-22 1-29 0 159 1-21 0-148 1 20 1-84 0 32 1 50 1-43 0-24 1 73 0-95 1-18 1 3 0 38 1-3 1-29 0-14 1 21 0-116 1 39 1-63 0-3 1 189 1-194 0 220 1-85 0 47 1-8 1-93 0-27 1 23 1 90 0-40 1 24 0 12 1 57 1-7 0-105 1 94 1 58 0-112 1-26 0 50 1-120 1 52 0 12 1 228 1-149 0-115 1 138 0-101 1 50 1 22 0 15 1 78 1 85 0 10 1-220 0-7 1 143 1-131 0-23 1 55 1-57 0-15 1 16 0-56 1 128 1-36 0-120 1-70 1 119 0-82 1 134 0 119 1-129 1-80 0 106 1-86 1 176 0 24 1-29 0-42 1-34 1-20 0-51 1 99 1 5 0-158 1 89 0-42 1 27 1 28 0-41 1 91 1-48 0-51 1 18 0 48 1 32 1-17 0-103 1 16 1 86 0-126 1 105 0-73 1 53 1 121 0-64 1 12 1-29 0-11 1 21 0-48 1 6 1 76 0-91 1-36 1 55 0-16 1 21 0 23 1-36 1-70 0-10 1 127 1-54 0-87 1-60 0 98 1-35 1 18 0 96 1-86 0 52 1 55 1-193 0-32 1 53 1 120 0-100 1 36 0-39 1 27 1-22 0 113 1-70 1-38 0-84 1 197 0-218 1-80 1 134 0 79 1-105 1 180 0-52 1-104 0-87 1 36 1 61 0 30 1-6 1-63 0 217 1-77 0-47 1 36 1-19 0-99 1 80 1 33 0-112 1 69 0 54 1 89 1-61 0 82 1-55 1-86 0 57 1-14 0-53 1-53 1-72 0 7 1 52 1 33 0 46 1 64 0 172 1-172 1 34 0-136 1 153 1 79 0-69 1-142 0 62 1 27 1-101 0 60 1-26 1 48 0-2 1-264 0 308 1-149 1 223 0 56 1-205 1 27 0-6 1-65 0 81 1 115 1-104 0 36 1-166 1 50 0-11 1 147 0-71 1-32 1-40 0 125 1-90 1-71 0 86 1 39 0-62 1-55 1 78 0-69 1-82 1 73 0 66 1-51 0-62 1-8 1 80 0-13 1 96 1-20 0 36 1 25 0-33 1 29 1-29 0-5 1 86 1-15 0-88 1 48 0-145 1-80 1 85 0 64 1 16 1 141 0-32 1 109 0-146 1-74 1 31 0 37 1 50 1-62 0 100 1-130 0 133 1 66 1-70 0-62 1 51 1-19 0-40 1 65 0-99 1 51 1-35 0 78 1 105 1-135 0-66 1 103 0-17 1 85 1 43 0-201 1-73 1 131 0-138 1 134 0-42 1 23 1 1 0 194 1-236 1 105 0-27 1-97 0 141 1-46 1-11 0 1 1 74 1-96 0 93 1-61 0-144 1 71 1 124 0-76 1 87 0-13 1-79 1 44 0-29 1 203 1-164 0-134 1 177 0-79 1-125 1 16 0 24 1-5 1-15 0-53 1-80 0 83 1 76 1-96 0-4 1 26 1 18 0 63 1 88 0-150 1 103 1 49 0-12 1-87 1-74 0 7 1-92 0 294 1-228 1 61 0-69 1 244 1-106 0-260 1 177 0-104 1 81 1-13 0 130 1-49 1-174 0 1 1 129 0-13 1 21 1-67 0-35 1 35 1 52 0-25 1 7 0 13 1 11 1 109 0-28 1 3 1-98 0 16 1-36 0 18 1 108 1-66 0 2 1-69 1 68 0-74 1 115 0-84 1 10 1 48 0 87 1 56 1-281 0 167 1-112 0 84 1-49 1-24 0 60 1-54 1 106 0-115 1-61 0 121 1-24 1-18 0 3 1 3 1 47 0-28 1 56 0 16 1-93 1 65 0 15 1 11 1-105 0 122 1-156 0-107 1 131 1 2 0-95 1 135 1 51 0-83 1 27 0-172 1 223 1 112 0-113 1-2 1 85 0-145 1 11 0-159 1 253 1 55 0-76 1 2 1-150 0 53 1-47 0 145 1-59 1-35 0-2 1 16 1 28 0-203 1 125 0 39 1 68 1-18 0-40 1 110 1-172 0 66 1-75 0 165 1-107 1 139 0-104 1-72 1-103 0 247 1-111 0-79 1 167 1 80 0-5 1-94 1 62 0 51 1-149 0-5 1 55 1-34 0 147 1-45 1-71 0-31 1 89 0-88 1 160 1-54 0 11 1-170 1-128 0 117 1 207 0 45 1-173 1-127 0 134 1-19 1 122 0 45 1-172 0-96 1 68 1 34 0 20 1 44 0 9 1-125 1 31 0 21 1 14 1 94 0-8 1-61 0 47 1 84 1-137 0-10 1 79 1-20 0-76 1 27 0-36 1 21 1-24 0 13 1-7 1-33 0-18 1-58 0-18 1 138 1 170 0-88 1-125 1 45 0 66 1 94 0-51 1-84 1-48 0 72 1 85 1-167 0 181 1-226 0 60 1 58 1 54 0-60 1 63 1-84 0 50 1-74 0 87 1 54 1 27 0-202 1 37 1 20 0-127 1 155 0-71 1 1 1 3 0-36 1 4 1-87 0 154 1 106 0-102 1 61 1-121 0 60 1-83 1-95 0 109 1 52 0 35 1-34 1 64 0-94 1-53 1 144 0-213 1 145 0-3 1-5 1 79 0-173 1 253 1-49 0 61 1-106 0-110 1-12 1 164 0-30 1-2 1-2 0 81 1-114 0 184 1-300 1 71 0 65 1 38 1-146 0 87 1-93 0 138 1-18 1 20 0-56 1-69 1 145 0-144 1 101 0-46 1 126 1-53 0-10 1-43 1-134 0 28 1 50 0-10 1 12 1 56 0-27 1-126 1 43 0 32 1-82 0 153 1 19 1 75 0-117 1-6 1 105 0-24 1-37 0 9 1-193 1 42 0 41 1-58 1-23 0 194 1 6 0-49 1 142 1-127 0-44 1 19 1 16 0-113 1-13 0 50 1 50 1-91 0 92 1-58 1 74 0-15 1-44 0 34 1 107 1-63 0 83 1-26 1-17 0-53 1 45 0-159 1 48 1-2 0 33 1-16 1 100 0-4 1-123 0-27 1 44 1-96 0 200 1 74 0-1 1-134 1 163 0-150 1 58 1-102 0-47 1 56 0 118 1 22 1-170 0-15 1 71 1-2 0-127 1 66 0-64 1 124 1 44 0 13 1-18 1-117 0 146 1-133 0 113 1-74 1 97 0-25 1-242 1 199 0-11 1 32 0 139 1-160 1 43 0 79 1-40 1-127 0 192 1-186 0 181 1-139 1 79 0 56 1-241 1 66 0 6 1 113 0-145 1-24 1 56 0 70 1-79 1 86 0-89 1-25 0-23 1 236 1-120 0 10 1 33 1-106 0 80 1-19 0-45 1 35 1-113 0 41 1-35 1 171 0-107 1 21 0-89 1 89 1-25 0 91 1 7 1 37 0-202 1 125 0-9 1 12 1 6 0-68 1 6 1 40 0-8 1-96 0 126 1 85 1-29 0-100 1-55 1 114 0-47 1 58 0-69 1 68 1-62 0 21 1 134 1-66 0 0 1-215 0 146 1-55 1 137 0-235 1 27 1 111 0 94 1-24 0 52 1-128 1 180 0-136 1-161 1 44 0-57 1 84 0 55 1 28 1 31 0-178 1 142 1 60 0-79 1 10 0-77 1-24 1-110 0 373 1-140 1-4 0 20 1-44 0-6 1-20 1 5 0-91 1-81 1 192 0-1 1-36 0 35 1 62 1-57 0 116 1-127 1 103 0-3 1-49 0-167 1-28 1 65 0-43 1 47 1 119 0-14 1-3 0 36 1-81 1 56 0 35 1-24 1-21 0 86 1-146 0-6 1 171 1-40 0-211 1 189 1-57 0-74 1 164 0-152 1 47 1-8 0 35 1-81 1-32 0-46 1 131 0 45 1-54 1 66 0-44 1 89 0 3 1-64 1-9 0 117 1 36 1-164 0 21 1-34 0 22 1 172 1-123 0-283 1 173 1 123 0 57 1-97 0-108 1 161 1-150 0-49 1 95 1-136 0 161 1 61 0-37 1-79 1 62 0 22 1-78 1 124 0-12 1-180 0 117 1-23 1 42 0-39 1 33 1 12 0 82 1-117 0-61 1 62 1-26 0-17 1 37 1-64 0 80 1-45 0 44 1 106 1 66 0-88 1 64 1-85 0-68 1 66 0 22 1-198 1 73 0 35 1-6 1 70 0 101 1-188 0 170 1-65 1-73 0-31 1 22 1 153 0-121 1-82 0 101 1-13 1-97 0 93 1-35 1 51 0-54 1-55 0 65 1 98 1-27 0-34 1-1 1 3 0-98 1 44 0-25 1-22 1-25 0 43 1 31 1-4 0-41 1 46 0 121 1-181 1 73 0-62 1 159 1-79 0 101 1-97 0-55 1 30 1 67 0-165 1 45 1 145 0-2 1-205 0 180 1 81 1-242 0 55 1-135 1 154 0-22 1-28 0 19 1 82 1-110 0-21 1 3 1 85 0 22 1 59 0-19 1-29 1-130 0 32 1-1 1-71 0 142 1-188 0 69 1-99 1 22 0 141 1-12 1 119 0-47 1-135 0 2 1 109 1-72 0 40 1 35 1-43 0-25 1 76 0-91 1 47 1 4 0 123 1-127 1-108 0 18 1 101 0-85 1 140 1-131 0-23 1 160 1-127 0 52 1 45 0-81 1 33 1 135 0-72 1-64 1 41 0-74 1-30 0 9 1 151" fill="none" stroke="#ffa500" stroke-width="5" stroke-linejoin="bevel"/>
<path transform="scale(.1)" d="M3952 2732l1-30 0-29 1 83 0-77 1 9 1-29 0 21 1-46 1 106 0-126 1-5 0 102 1-43 1 0 0 125 1-98 0 39 1-7 1 17 0-6 1-31 0-12 1 93 1-48 0 47 1 10 1-51 0-85 1-14 0 67 1 26 1 15 0-53 1-63 0 35 1-31 1 12 0-66 1 184 0 61 1-95 1-77 0 36 1-37 1 79 0 28 1-24 0-98 1-23 1 74 0-30 1 40 0-28 1 57 1-46 0 26 1-34 1 25 0 16 1-50 0 10 1-16 1 21 0-54 1 66 0-74 1-55 1 75 0-95 1-46 0 78 1 126 1 53 0-68 1-135 1 27 0-3 1 58 0 44 1-52 1 69 0-32 1-51 0 11 1-24 1 47 0-45 1-5 1 117 0 0 1-22 0-86 1-6 1-3 0 5 1-26 0-26 1 78 1 82 0-106 1 17 0-11 1 9 1 57 0 40 1-131 1-47 0-6 1 40 0 7 1 41 1-16 0 21 1 14 0-41 1-99 1 177 0-92 1-33 0 99 1-59 1-7 0 30 1 11 1 55 0-164 1-86 0 18 1 113 1 2 0-6 1 67 0-12 1-49 1 40 0 90 1-2 1-90 0 6 1-1 0-95 1 44 1 60 0-20 1-135 0 151 1-123 1-18 0 87 1 36 0-90 1 41 1 56 0-118 1 59 1 9 0 20 1 27 0-18 1 24 1-44 0-43 1-14 0-10 1-19 1 37 0 90 1-62 0 131 1-14 1-62 0 98 1-152 1 99 0 58 1-25 0-7 1-45 1-5 0-69 1 48 0-4 1 68 1-67 0 55 1 85 1-163 0 89 1 29 0-2 1-88 1 100 0-34 1-65 0-95 1 99 1 10 0 57 1-146 0 79 1 19 1-5 0 59 1-34 1 64 0-139 1 54 0 18 1-70 1 117 0-116 1-41 0 120 1-49 1 33 0-46 1 35 0 66 1-69 1 30 0-14 1-51 1-28 0 25 1 128 0-85 1 32 1-69 0 52 1-76 0 30 1 40 1-6 0 118 1-98 1-4 0 70 1-67 0-14 1-7 1 26 0-45 1-16 0 37 1 21 1 29 0 17 1-64 0 47 1 66 1-76 0-73 1 57 1-48 0 7 1 88 0-50 1 10 1-43 0 187 1-152 0-42 1 85 1-91 0 42 1-6 1-42 0-40 1 55 0-14 1 10 1 70 0-115 1 14 0 41 1-42 1 16 0 69 1-71 0 31 1-22 1-26 0-8 1-56 1 80 0 44 1 44 0 8 1-74 1-9 0 71 1 5 0-10 1-118 1 108 0-43 1 101 0-50 1-110 1 121 0-104 1 144 1-71 0 47 1-50 0-2 1-62 1 14 0 9 1 44 0-44 1 58 1 8 0 0 1-68 1-120 0 98 1-85 0 143 1 20 1-60 0-24 1-15 0-52 1 87 1-48 0 33 1 187 0-51 1-42 1-49 0-39 1 36 1-82 0 107 1-22 0-60 1 100 1-107 0-15 1 60 0 8 1 8 1-4 0-72 1 21 0 115 1 44 1-110 0 153 1-15 1-59 0-52 1-95 0 39 1-180 1 136 0 3 1-8 0 64 1-42 1 8 0 25 1 57 1 4 0-69 1 27 0-17 1-4 1 7 0 19 1-28 0-21 1-37 1 39 0 74 1 29 0-66 1 105 1-26 0-96 1 50 1 35 0-97 1 195 0-90 1-4 1 0 0-79 1-57 0 4 1 30 1 26 0 41 1 0 0 94 1-34 1-75 0 19 1-47 1 123 0-21 1 20 0-113 1 41 1 16 0 57 1-23 0 21 1-18 1-163 0 143 1-8 1 35 0-117 1 96 0 21 1-64 1-94 0 52 1 62 0 133 1 100 1-174 0-60 1-85 0 16 1 48 1-77 0-50 1 123 1-56 0-33 1 103 0-47 1 19 1-64 0-16 1 182 0-56 1-109 1 17 0 93 1-5 1 32 0-70 1 73 0-124 1-15 1-53 0 19 1 9 0 8 1 21 1 152 0-98 1 48 0 108 1-197 1 33 0 104 1-80 1-31 0 5 1-73 0 128 1-78 1 86 0-59 1-27 0 58 1-156 1 204 0 45 1-47 0 12 1-113 1 65 0-90 1 76 1-49 0-13 1 35 0-24 1 16 1-97 0-44 1 145 0-4 1-38 1 22 0-75 1-61 1 249 0-6 1-111 0 14 1 75 1-3 0-23 1-93 0 124 1-29 1-82 0 0 1 70 0 29 1 95 1 25 0-41 1-112 1-31 0-37 1 12 0 13 1 38 1 69 0-96 1 63 0 103 1-98 1-9 0-138 1 115 0-2 1 89 1-79 0 1 1 64 1-42 0 76 1-83 0 35 1-35 1 63 0 12 1-31 0-66 1 21 1 153 0-131 1 7 1-42 0-42 1 6 0 92 1 7 1-47 0-43 1 91 0 19 1 27 1-73 0 43 1-164 0 37 1-10 1 31 0 80 1 136 1-193 0 9 1 129 0-236 1 50 1-35 0 97 1 117 0-23 1-99 1 138 0-51 1-114 0-32 1 48 1 166 0-84 1-118 1-11 0 69 1-25 0-20 1 49 1 33 0 6 1 8 0-44 1-16 1-42 0-15 1 38 1 124 0-119 1 48 0-141 1 75 1-126 0 53 1-45 0 71 1 2 1 55 0 19 1 4 0-68 1 87 1-99 0 43 1-39 1 81 0-36 1 92 0-36 1-35 1 36 0-34 1-30 0-11 1 123 1-63 0-23 1 30 1 15 0-161 1 14 0-3 1-12 1 120 0-2 1 88 0-87 1 98 1-40 0-96 1-15 0 85 1 23 1-119 0 16 1 60 1-19 0-2 1 71 0-8 1 89 1-108 0-23 1-59 0-17 1 82 1-93 0 110 1-62 0 66 1 28 1 47 0-53 1-148 1 79 0 8 1 51 0-33 1-16 1 5 0-50 1 67 0-4 1-65 1 36 0 91 1-88 1 13 0 88 1 26 0-13 1-73 1 9 0-35 1-96 0 16 1 99 1 77 0-95 1 95 0 33 1-28 1-31 0 22 1-23 1 164 0-85 1-47 0-53 1 7 1 35 0-145 1 44 0 34 1 28 1 1 0 74 1 34 0-63 1 90 1-100 0 27 1-55 1 17 0 60 1 12 0-14 1-103 1-35 0 80 1 5 0 56 1-111 1 33 0 61 1 58 1-90 0-104 1 70 0 78 1 21 1-12 0 95 1-156 0 38 1 84 1 88 0-164 1-42 0-83 1-1 1 80 0 100 1-82 1 20 0-33 1 86 0-49 1-18 1 55 0 42 1 40 0-121 1-101 1 40 0 158 1-98 0 63 1-92 1-114 0 45 1 183 1-156 0-7 1-92 0 52 1 5 1 146 0-143 1 112 0 78 1-122 1-51 0-55 1 0 1 46 0 16 1-25 0 22 1 1 1 146 0-68 1-5 0-51 1 61 1-82 0-12 1 105 0-35 1-39 1 83 0 103 1-94 1-56 0-3 1-63 0 27 1-67 1 106 0-96 1 85 0-19 1 132 1-24 0-119 1 30 1 12 0 77 1-94 0 76 1-118 1 13 0 73 1 39 0-6 1-53 1-8 0 107 1-81 0 59 1-151 1 170 0-112 1 92 1-65 0-64 1 23 0 104 1 53 1-158 0 85 1-67 0-43 1 152 1-164 0 73 1 25 0 54 1-54 1-30 0-42 1-11 1-1 0 65 1 18 0-8 1-5 1-62 0 1 1 64 0 63 1 77 1-73 0-36 1 99 1-57 0-52 1-13 0 92 1-15 1 43 0-120 1-1 0-136 1 146 1-80 0 64 1 16 0-52 1 160 1 4 0-155 1-16 1-55 0 59 1 80 0-54 1 59 1-4 0 2 1 43 0-159 1 33 1 43 0 0 1 55 0 5 1-27 1-20 0 139 1-161 1 146 0-19 1 18 0-83 1 84 1-136 0-24 1-21 0 1 1 66 1-14 0 66 1-11 1-54 0 82 1-32 0 1 1-81 1-4 0 54 1-55 0-85 1 24 1 65 0 16 1 68 0-2 1-49 1-21 0 97 1 20 1 3 0-3 1-31 0-36 1 47 1-14 0 70 1-80 0-49 1 29 1 69 0-208 1 125 0-33 1 140 1-40 0-64 1-8 1-14 0 2 1 47 0 24 1-35 1 19 0 2 1-59 0-7 1 38 1-77 0 44 1 23 1-55 0 17 1 111 0-86 1 93 1-46 0-51 1-36 0 80 1-7 1-69 0-93 1-25 0 57 1-30 1 117 0 17 1-55 1-18 0 129 1-119 0 82 1-19 1 55 0-31 1-92 0 109 1-7 1-40 0-46 1-80 1 68 0-34 1 139 0-17 1 103 1-174 0 47 1-54 0 80 1 28 1 2 0-17 1-28 0 72 1-83 1-53 0 123 1 21 1-15 0-18 1-157 0 12 1 121 1-195 0 54 1 137 0 66 1-101 1 91 0-78 1-65 0 82 1 20 1 12 0-119 1 3 1 11 0-15 1 46 0 51 1-38 1-45 0 49 1 20 0 50 1-122 1 2 0 33 1 11 1-6 0 16 1-45 0 32 1-20 1 32 0 49 1-86 0-26 1-29 1 105 0 45 1 85 0-85 1 25 1-109 0 104 1-91 1 100 0-35 1-89 0 74 1-28 1-28 0 112 1-177 0 156 1-15 1-34 0-23 1-41 0-24 1 140 1-27 0 102 1-106 1 22 0-52 1 103 0-4 1-97 1-43 0 47 1 20 0 12 1 4 1 1 0-185 1 51 1 149 0-24 1 27 0-62 1-133 1 11 0 64 1 4 0 31 1 60 1-8 0-101 1 125 0-128 1-100 1 100 0-32 1 46 1 39 0 113 1-42 0-146 1 42 1 35 0-100 1 66 0 130 1-45 1-131 0-19 1 79 0-44 1 41 1-137 0 58 1-8 1 37 0-25 1 17 0 36 1 43 1 6 0-12 1-56 0-10 1-47 1 76 0 2 1 133 1-41 0-15 1-41 0-22 1 30 1-43 0 39 1-16 0 29 1-37 1 33 0-11 1 31 0 39 1-142 1 77 0-82 1 54 1 0 0-8 1 52 0 63 1-124 1-6 0 106 1-23 0-11 1-104 1-1 0 30 1-55 1 20 0 73 1 60 0-120 1 118 1-133 0 132 1-28 0-117 1-15 1-22 0 148 1-26 0-23 1 13 1 15 0-49 1 1 1 56 0-7 1-21 0-20 1 7 1 76 0-72 1-47 0-76 1 98 1-55 0 68 1-86 0 53 1 2 1 19 0-17 1-7 1 88 0-93 1 69 0-28 1-76 1 44 0 38 1-126 0-22 1-8 1 18 0 38 1 27 1 105 0-1 1-5 0-114 1-111 1 60 0 76 1-67 0 63 1 28 1-1 0-68 1-28 0 48 1 92 1-82 0 69 1 30 1-12 0 27 1-11 0-146 1 116 1-18 0 79 1-15 0-30 1-35 1-9 0 8 1 41 0-114 1 12 1 78 0 7 1 15 1-19 0 31 1-70 0-31 1 53 1-11 0 53 1-90 0 71 1-28 1 0 0 75 1 76 1-38 0 6 1-21 0-38 1-10 1 24 0-123 1 135 0-86 1-13 1 86 0-136 1 0 0 57 1 10 1 27 0-24 1 59 1-78 0-15 1 76 0 88 1-128 1 17 0 69 1-118 0 37 1 114 1-111 0 90 1 70 1-48 0-44 1 82 0-222 1 54 1 19 0 29 1-21 0 59 1-14 1-89 0 58 1-14 0 20 1-119 1 4 0 45 1-7 1 22 0 9 1-141 0 248 1-47 1-28 0-62 1 125 0-15 1-66 1 116 0-111 1-130 0 145 1 108 1-127 0 17 1-135 1 106 0 46 1-95 0-35 1 1 1-72 0 79 1 55 0 50 1-9 1 17 0 10 1 34 1 86 0-139 1-40 0 111 1-116 1 182 0-80 1-62 0 12 1-62 1-46 0-12 1 60 0-70 1 96 1 41 0 19 1 11 1-12 0 51 1 34 0-177 1 4 1-21 0 31 1 93 0-112 1 0 1 117 0-81 1 145 0-140 1 69 1-90 0 84 1-88 1 16 0-10 1 17 0-9 1-11 1-10 0 179 1-57 0-10 1-16 1-13 0-132 1 47 1 130 0-18 1-90 0 95 1-49 1 33 0-46 1 21 0-6 1 12 1 36 0-112 1 17 0 20 1-81 1 51 0 31 1-6 1 34 0 33 1-148 0 111 1-88 1 19 0 100 1-24 0 24 1-36 1-64 0 83 1 24 0 25 1-151 1 33 0-2 1 8 1 80 0-142 1 122 0 101 1-143 1 54 0-97 1-11 0 31 1-24 1-10 0 72 1 36 1 43 0-38 1 9 0 22 1-13 1-197 0 54 1 136 0-137 1 164 1-51 0 43 1 13 0-27 1-68 1-59 0 159 1-36 1 15 0-77 1-40 0 112 1 9 1 2 0-88 1 45 0 34 1 3 1 5 0-48 1-114 1 175 0-8 1-67 0 133 1-115 1-34 0 10 1 86 0-160 1 46 1 40 0-74 1 138 0-4 1 62 1-82 0-44 1 13 1-2 0-55 1 63 0-5 1 56 1-95 0 22 1-109 0 97 1-37 1-3 0 94 1-91 0-12 1-34 1-5 0 66 1-90 1 40 0-10 1 164 0 44 1 1 1-98 0-36 1-47 0 18 1 107 1-39 0-125 1-16 1 151 0-29 1 59 0-91 1-64 1-10 0 109 1 0 0-21 1-117 1 50 0 25 1 7 0-3 1 62 1 35 0-22 1-20 1 15 0-74 1 18 0-37 1 76 1 127 0-76 1-104 0 11 1 164 1-66 0-11 1-29 0 18 1-30 1 23 0 1 1-82 1 15 0 29 1 82 0-8 1-18 1-65 0 101 1-79 0-89 1 40 1 105 0-107 1 25 1-28 0-27 1 11 0 49 1 59 1-164 0 127 1-62 0 86 1-102 1-67 0 40 1 105 0 10 1-103 1-33 0 39 1 34 1-70 0 39 1 24 0-25 1 21 1-42 0-31 1 49 0 181 1-84 1 3 0 40 1-27 0-113 1 126 1-25 0 13 1 50 1 13 0-115 1 73 0-162 1 70 1-11 0-17 1 116 0-117 1 16 1 18 0-31 1 13 1 12 0 77 1-42 0-57 1 68 1-74 0 43 1-38 0 16 1 67 1-27 0 12 1 17 0 6 1 77 1-83 0-35 1 41 1 43 0-118 1-19 0-50 1-14 1 115 0-24 1 1 0-60 1 88 1 25 0-120 1 99 1-40 0-16 1 90 0-18 1 5 1-19 0 25 1-108 0 39 1-62 1-13 0 145 1-107 0 48 1-60 1-33 0-29 1 7 1 66 0 45 1-28 0-16 1 6 1 18 0-43 1 43 0-25 1-1 1-55 0 81 1 26 0 23 1-88 1-4 0 37 1-103 1 122 0-65 1 6 0 48 1 53 1-1 0-93 1 104 0-35 1 23 1-44 0 32 1-6 1 49 0-71 1 38 0-39 1 94 1-1 0-50 1 7 0-28 1 16 1-72 0-7 1-35 0 14 1-23 1-7 0 45 1 58 1-3 0-12 1 48 0-4 1-85 1-7 0 84 1 39 0-13 1 61 1-134 0-6 1 91 0-26 1 17 1-109 0 114 1 1 1-132 0-45 1-9 0 68 1 66 1 41 0-82 1 67 0-20 1-4 1-69 0 75 1-75 1 66 0 15 1 38 0-68 1 2 1-15 0 19 1-20 0-98 1 39 1-21 0 52 1 14 0-66 1-109 1 155 0-14 1 49 1-44 0 5 1 43 0 69 1 23 1-163 0 24 1 7 0-31 1 26 1-118 0 77 1-30 0 39 1 107 1-85 0-10 1 38 1-94 0 13 1-5 0 115 1-10 1 68 0-111 1-61 0 77 1-145 1 154 0-31 1 128 1 33 0-128 1-24 0-117 1 70 1-43 0 110 1-48 0-59 1 58 1-58 0 1 1 47 0 90 1 3 1 63 0-132 1-72 1 49 0 9 1 142 0-135 1 103 1-15 0-152 1 41 0 85 1 31 1-57 0-65 1 35 1 17 0-16 1-17 0 126 1 54 1-163 0 69 1 103 0-63 1-38 1-1 0-91 1 106 0-28 1 73 1-183 0 134 1 67 1-115 0-5 1 84 0-80 1-36 1 58 0-38 1-35 0 5 1 69 1-4 0 22 1 4 0-21 1 16 1-12 0-6 1 3 1-43 0 86 1 8 0-13 1 10 1-75 0-8 1 14 0 17 1-43 1-30 0-13 1 59 1 0 0 101 1-55 0-152 1 118 1-60 0-1 1 91 0 76 1-36 1-132 0-25 1 16 0 65 1-43 1 92 0-90 1-2 1-16 0-141 1-29 0 201 1-2 1 14 0-16 1-123 0 166 1-11 1-87 0 85 1-103 0 57 1 27 1-34 0 40 1-60 1-61 0 224 1-135 0 131 1 35 1-144 0-16 1-5 0 73 1 5 1-15 0 73 1-102 1 13 0-43 1 161 0 57 1-98 1-50 0-58 1 41 0 30 1 18 1-103 0 16 1-90 0 78 1-5 1 27 0 20 1-35 1 79 0-18 1-58 0 48 1 96 1-65 0 16 1-87 0 69 1 1 1-58 0 12 1-55 0 8 1 19 1-42 0 4 1 49 1-75 0 33 1-18 0 23 1-22 1 50 0-46 1-2 0 18 1-7 1 17 0-45 1-75 1 110 0 0 1 67 0-46 1-34 1-35 0 83 1-8 0-46 1-183 1 101 0 31 1 57 0-5 1 116 1-67 0-18 1-32 1-7 0-148 1 17 0 67 1 122 1-176 0 80 1 40 0-32 1-11 1-94 0 47 1-9 1-13 0-57 1 30 0 55 1 30 1 67 0-7 1 117 0-203 1 43 1 0 0-75 1 38 0-24 1 45 1-8 0-21 1-98 1 157 0 3 1-69 0-35 1 41 1-5 0 3 1-46 0 111 1-44 1-99 0-11 1 91 0-34 1 77 1-69 0-14 1 18 1-13 0 29 1-67 0-8 1 9 1-23 0-9 1 59 0-10 1 36 1 107 0-135 1 37 1 8 0-119 1 90 0 38 1 95 1-93 0-17 1 40 0-88 1 62 1 68 0-16 1-29 0-10 1-15 1 62 0 9 1 57 1-81 0-120 1-8 0 140 1-8 1-107 0 64 1 19 0 60 1-164 1-8 0 119 1-80 0 86 1-34 1-75 0 101 1 30 1 18 0-53 1-67 0-21 1-53 1-28 0 61 1 143 0 15 1-86 1-8 0 19 1 30 1-49 0 95 1-44 0-49 1-69 1-21 0 108 1 64 0-52 1-38 1 96 0 32 1-40 0-44 1-39 1 13 0-4 1-58 1 54 0 17 1 73 0-86 1-67 1-1 0 86 1-88 0 51 1-104 1 54 0-39 1 43 0 17 1 58 1 13 0-106 1 87 1-123 0 158 1-54 0 11 1-128 1 88 0 21 1 27 0-80 1 29 1-3 0 85 1-44 1-15 0 14 1-134 0-83 1 119 1 59 0-53 1-22 0 93 1-61 1 46 0 6 1-13 0-66 1 24 1-7 0 9 1 116 1-147 0 38 1 38 0 35 1 35 1-83 0-73 1 43 0 29 1-32 1 197 0-135 1-8 1-65 0-46 1 67 0 74 1-88 1 12 0-30 1-19 0 42 1 51 1-43 0-1 1-75 0 50 1-47 1 4 0 43 1 159 1-23 0-113 1-42 0 81 1 77 1-208 0 86 1 128 0-102 1-91 1 187 0-74 1 11 0-24 1-45 1 81 0 33 1 16 1-124 0-44 1 117 0-98 1 76 1-17 0 25 1-2 0-101 1 43 1 73 0-122 1-53 1 91 0-62 1-29 0 136 1 101 1 8 0 12 1-51 0-154 1 90 1 35 0-112 1 70 0-22 1-101 1 179 0 35 1-40 1-40 0-6 1-24 0 91 1-17 1 42 0-51 1-53 0-20 1 14 1-46 0 132 1-40 0-39 1 98 1-223 0 132 1-57 1 58 0-2 1 2 0-103 1 70 1-23 0-9 1 10 0-12 1 86 1 83 0-59 1 9 1 80 0-177 1 126 0-171 1 132 1 3 0-91 1-22 0-41 1 49 1 37 0 147 1-133 0-5 1-10 1-39 0-67 1 113 1-3 0 4 1 89 0-138 1 37 1 97 0-93 1-12 0-16 1 89 1 18 0-70 1-66 1 86 0-36 1 10 0-32 1-41 1-4 0-34 1-47 0 130 1-68 1 73 0 10 1 26 0-54 1 107 1 16 0-24 1 16 1 43 0-98 1-4 0 36 1-72 1-83 0 130 1-86 0 86 1-87 1-14 0 109 1-143 0 128 1 75 1-25 0-65 1 36 1 36 0-109 1-10 0 57 1-125 1 172 0-4 1 23 0-31 1-35 1-51 0 59 1-41 1 40 0-114 1 149 0-17 1-61 1-45 0 25 1 15 0-80 1 74 1 16 0 54 1-83 0 30 1 112 1 30 0 51 1-133 1-42 0-62 1 87 0 144 1-121 1-12 0 2 1-51 0 89 1-41 1-4 0-37 1-77 0 131 1-50 1 6 0-4 1-76 1-31 0 119 1-33 0 23 1 58 1-75 0-2 1-42 0 37 1 51 1 16 0-14 1-54 1 53 0-20 1-27 0-103 1 72 1-13 0 68 1 37 0-63 1 80 1 20 0-95 1 47 0-13 1 66 1-19 0 11 1 14 1-69 0 42 1 29 0-6 1-15 1-115 0 105 1-5 0-58 1 116 1-44 0-34 1-33 0 33 1 20 1-8 0 42 1 27 1-127 0 61 1 65 0-87 1 91 1 16 0-12 1-132 0 38 1-54 1 51 0 23 1 40 1-25 0-62 1 1 0 66 1 14 1-60 0 44 1 2 0 70 1-19 1-86 0-25 1 12 0-32 1 113 1-31 0 11 1-25 1-148 0 50 1 150 0-60 1-85 1-69 0 47 1 22 0 81 1 38 1-44 0-27 1-92 1-45 0 32 1 102 0 25 1 17 1-52 0 40 1 59 0-19 1-40 1-88 0-26 1 54 0 76 1 28 1-147 0 35 1-31 1 29 0 21 1-54 0 32 1-33 1 132 0-95 1-170 0 114 1 38 1 70 0-70 1 68 0 1 1-8 1 47 0-92 1 103 1-120 0 93 1-12 0-60 1 40 1-150 0 61 1-16 0 22 1-38 1 76 0-32 1-15 1-62 0 23 1 134 0 25 1-126 1-55 0-3 1-29 0 35 1-2 1 16 0 72 1 77 0-62 1 6 1 35 0 3 1-10 1-24 0-1 1-38 0 44 1-139 1 13 0 95 1-7 0 50 1-42 1-155 0 121 1 70 0-29 1-31 1-48 0 109 1 26 1-55 0 46 1-222 0 273 1-41 1-7 0 22 1-83 0 23 1 1 1-78 0 23 1 32 1 53 0-95 1 100 0-104 1 77 1-151 0 76 1 29 0 26 1-1 1-53 0 69 1 22 0 43 1-91 1 66 0 18 1-138 1 170 0 50 1-89 0-50 1-74 1 18 0 28 1-43 0 125 1 25 1-66 0-158 1 116 0 18 1 29 1 42 0 56 1-121 1-18 0 42 1-19 0-32 1 56 1 29 0 54 1-40 0-114 1 88 1-6 0-55 1 3 1-11 0-10 1-11 0 38 1 8 1-92 0 80 1-15 0 79 1-68 1-34 0 43 1 4 0 58 1 17 1-41 0-92 1 98 1-108 0 28 1 50 0 69 1-125 1 35 0 8 1-49 0 74 1 96 1-117 0 129 1 10 1-39 0-80 1 46 0-101 1 123 1-102 0-8 1 79 0 51 1-3 1 20 0-137 1 70 0 48 1-65 1 58 0 77 1-92 1 15 0-100 1-61 0 62 1 54 1-52 0 26 1 121 0-48 1 26 1-44 0 84 1-194 0 73 1 1 1 39 0-82 1 53 1 52 0 70 1-162 0 97 1-117 1-67 0 113 1 64 0-126 1 95 1-35 0 181 1-38 1-114 0-82 1 86 0-83 1-28 1 53 0-38 1 121 0-44 1-103 1 168 0-80 1-7 0 64 1 63 1 13 0-13 1-31 1-33 0-40 1-65 0 40 1 37 1 98 0-63 1 64 0-75 1-9 1-54 0 75 1 10 0 6 1-25 1 25 0-116 1 83 1-103 0 132 1-51 0 92 1-114 1-4 0-35 1-65 0 7 1 54 1 6 0 47 1-46 1 135 0-98 1 112 0-33 1-102 1 54 0 9 1 16 0-45 1 93 1-63 0-97 1 81 0-9 1-8 1 1 0 27 1 82 1-34 0 35 1-104 0 14 1 69 1-137 0 144 1-8 0-161 1 156 1 64 0-63 1-9 0 70 1-187 1-38 0 70 1 125 1-4 0-215 1 54 0 28 1 102 1-79 0-49 1 73 0 55 1-64 1 102 0-22 1-149 1-2 0 22 1-11 0 113 1-97 1-82 0-44 1 111 0 22 1 56 1-77 0-36 1 2 0 73 1 34 1-152 0 49 1-26 1 81 0 85 1-87 0-44 1 121 1 18 0-55 1-69 0 31 1 18 1 73 0 4 1-67 1-18 0 14 1 10 0-21 1 75 1-142 0-44 1 104 0 46 1-1 1-49 0 68 1-56 0-17 1-23 1-38 0 52 1 63 1-149 0 19 1 65 0-5 1 121 1-10 0-40 1-29 0-14 1-21 1 46 0 145 1-104 0-59 1 60 1-29 0-85 1 41 1-2 0 147 1-124 0 71 1-125 1 137 0 4 1 5 0-83 1-82 1 11 0 22 1 11 1 38 0 35 1 1 0-82 1-72 1 83 0-13 1 68 0-2 1-14 1-24 0-34 1-2 0-4 1 100 1 42 0-7 1-86 1-35 0-15 1-29 0-21 1 69 1 37 0-93 1-61 0 44 1 140 1 5 0 28 1-39 0 75 1-133 1-8 0 44 1-83 1 41 0 4 1-4 0 37 1 61 1-77 0 7 1 107 0-46 1-24 1-68 0 6 1-39 1 6 0 44 1 86 0-119 1 69 1-59 0-31 1 79 0 35 1-54 1 9 0-38 1-45 0 109 1 8 1-184 0 108 1-69 1 49 0 105 1-14 0-73 1 64 1-75 0-8 1 67 0 1 1 16 1-45 0-134 1 55 0 25 1-3 1 89 0 42 1-155 1 84 0-7 1-63 0 93 1-45 1-1 0 49 1-35 0 119 1-36 1-166 0 127 1-29 1-19 0-76 1 78 0-27 1-20 1 35 0 39 1-160 0 85 1 15 1-44 0 153 1-61 0-91 1 3 1 154 0-99 1-58 1 141 0-30 1 43 0-48 1-101 1 58 0 23 1-11 0 45 1-29 1 70 0 19 1-135 1-62 0-90 1 165 0-2 1 47 1-89 0 85 1 122 0-96 1 64 1-112 0-39 1 62 0-30 1-16 1 77 0-34 1-87 1 27 0 149 1 24 0-43 1-5 1-155 0 109 1-11 0 25 1 49 1 15 0-29 1 44 0 4 1 21 1-51 0-70 1-32 1 21 0 3 1-8 0-36 1-77 1 175 0-28 1 28 0 31 1-135 1 38 0-16 1-42 1 16 0 132 1-78 0-34 1-50 1 59 0 34 1-38 0-61 1 40 1 75 0 46 1-127 0 34 1 30 1 26 0 19 1-124 1-61 0 71 1 90 0 3 1 4 1 21 0-23 1 100 0-113 1 94 1-51 0-109 1-26 0 10 1 49 1-65 0 15 1 29 1 124 0-105 1 163 0-143 1-94 1 147 0-92 1 6 0 10 1-27 1 110 0-20 1-51 1-14 0 103 1-100 0-61 1 17 1 72 0 5 1 5 0 30 1 44 1-104 0-15 1 33 0-81 1 105 1 3 0-30 1-134 1 134 0-58 1-30 0 57 1 55 1-3 0-50 1 167 0-198 1 29 1-43 0 92 1-92 0 103 1 43 1-56 0-128 1 9 1 47 0 111 1-93 0 23 1 107 1 32 0-101 1-14 0-15 1 12 1-10 0 80 1-57 1-41 0-51 1 17 0 21 1 25 1-20 0 60 1-21 0 9 1 8 1-59 0 63 1-78 0 59 1 55 1-67 0-83 1-30 1 129 0 9 1 18 0-49 1-130 1 157 0 8 1-140 0 185 1-202 1 131 0 24 1-98 1-2 0 59 1 147 0-107 1-14 1 14 0-18 1 70 0-28 1-13 1-5 0-47 1-24 0 63 1-62 1 27 0 61 1-76 1-85 0 68 1-29 0 54 1 39 1-50 0 116 1-109 0-24 1-31 1-41 0 32 1-138 0 179 1-84 1 96 0-4 1-68 1-43 0 59 1-40 0 148 1-99 1 93 0-34 1-29 0 3 1-66 1-27 0-38 1 8 1 49 0 131 1-82 0 14 1 74 1-204 0 65 1 115 0 51 1-21 1-30 0-39 1 57 0-49 1-20 1-117 0 89 1 63 1-49 0-12 1 31 0-12 1-7 1-8 0-153 1 162 0 4 1 102 1-76 0-103 1-57 0 76 1 76 1 2 0-37 1-43 1 57 0 48 1-2 0 132 1-12 1-139 0-74 1-17 0 25 1 99 1 37 0-6 1-2 1-1 0-27 1 30 0-51 1 48 1-60 0 107 1-174 0 66 1-50 1 27 0-22 1 26 0 30 1-33 1-64 0 64 1 12 1 92 0-79 1-65 0 39 1-52 1 1 0 50 1 42 0 22 1 22 1-24 0-46 1 36 1-126 0 77 1-3 0 35 1 61 1-69 0-2 1-14 0-59 1 118 1-52 0-94 1 7 0 28 1-14 1 91 0 56 1-110 1 37 0-5 1 49 0-45 1 126 1 2 0-46 1 76 0-95 1 20 1-9 0-40 1-47 0 55 1-2 1-87 0 133 1-4 1-148 0 101 1-5 0 54 1-56 1 11 0-62 1 99 0-147 1 59 1 6 0-77 1 47 1-122 0 170 1 4 0-28 1-70 1 104 0-43 1-45 0-31 1 31 1 25 0-5 1 13 0-134 1 178 1-70 0-19 1 55 1 88 0-105 1-73 0 105 1-102 1 9 0 13 1-2 0-152 1 43 1 197 0-56 1-3 0-98 1 50 1 18 0 4 1 15 1-2 0 50 1 55 0-72 1-5 1-56 0 99 1-71 0 102 1-34 1 101 0-38 1 20 1 16 0-33 1-31 0 40 1-31 1-10 0 52 1 12 0-79 1-10 1 32 0 0 1 17 0 55 1 76 1-99 0-98 1 3 1-46 0 78 1 40 0 107 1-14 1-131 0 3 1 18 0 57 1-10 1-27 0 73 1-82 0-72 1 25 1 58 0-111 1-26 1 319 0-70 1-71 0-133 1 27 1-1 0 43 1 109 0-141 1-5 1 47 0-49 1 11 1 131 0-64 1-24 0 67 1-17 1-5 0-42 1-2 0-9 1 8 1 17 0 57 1-115 0 91 1-94 1 6 0 186 1-122 1-30 0-51 1 58 0-26 1 19 1-69 0-38 1 10 0 27 1 24 1 74 0-95 1 5 1 31 0-25 1 68 0-106 1 23 1-43 0 163 1-36 0 5 1-80 1 63 0-47 1-82 0 120 1-11 1-122 0 106 1 8 1 70 0 8 1-166 0 31 1 99 1 6 0 18 1-7 0 50 1 6 1-128 0-42 1 115 0-110 1-30 1 78 0 1 1 67 1-61 0 6 1-4 0-82 1 35 1 58 0-11 1-69 0 121 1-16 1 19 0-61 1-88 1 52 0 14 1 2 0-51 1 33 1 26 0 15 1 52 0-131 1 66 1 13 0-51 1-26 0 4 1 12 1 56 0-107 1 38 1 41 0-13 1-14 0-64 1-33 1 104 0 151 1-96 0 37 1-47 1-103 0-3 1 155 0 16 1-40 1 12 0 11 1 3 1 71 0-201 1 71 0-12 1 14 1-80 0-73 1 81 0 41 1-3 1 149 0-5 1 17 1-213 0 11 1-30 0 3 1 11 1 153 0-61 1-38 0 21 1-50 1-41 0 71 1 60 0-84 1 97 1 18 0-103 1 45 1 8 0-39 1-9 0-188 1 168 1 4 0 161 1-84 0 9 1-82 1 155 0-190 1 144 0-107 1 76 1 12 0-62 1 92 1-23 0 52 1 19 0-79 1-71 1 78 0 30 1-29 0 131 1-60 1-143 0 25 1 85 1-75 0-41 1 69 0-23 1-126 1 78 0 89 1 59 0-98 1-101 1 61 0-64 1 184 0-68 1-9 1-34 0-38 1 117 1 49 0-56 1-2 0 114 1-16 1-139 0 6 1 54 0-6 1-50 1-20 0 109 1-23 1-175 0 110 1 34 0 153 1-85 1 106 0-117 1 7 0-25 1 24 1-63 0-25 1-72 0 170 1-50 1-80 0 1 1-42 1 225 0-118 1 43 0-19 1-9 1-126 0 45 1 90 0-51 1 29 1-105 0 83 1-55 0 9 1 32 1 53 0 95 1-123 1 7 0-63 1-22 0 44 1-12 1 2 0 60 1 61 0-70 1-1 1-6 0 107 1-110 1-5 0 18 1-56 0 73 1-57 1-130 0 60 1-39 0 152 1-24 1-119 0 151 1 27 0-153 1-20 1 197 0-96 1 155 1-129 0-84 1 26 0-26 1 77 1-105 0 56 1 33 0 66 1-3 1 2 0-50 1 65 0-82 1-49 1 203 0-98 1-33 1 55 0-14 1-34 0-53 1 45 1-47 0 23 1 66 0 35 1 54 1-104 0-45 1 16 1 98 0-117 1 37 0-12 1 20 1-30 0-44 1 114 0-8 1-47 1 50 0-33 1-8 0 11 1-8 1 43 0-90 1-69 1 88 0 42 1 65 0-98 1 164 1-44 0-100 1 53 0-112 1 62 1 102 0-15 1-111 0-99 1 63 1 79 0-30 1 165 1-141 0 58 1 23 0-31 1-41 1-10 0 66 1-129 0 86 1 8 1 14 0 72 1-21 1-41 0-120 1 78 0 208 1-213 1-92 0 73 1 98 0-112 1 96 1-47 0 5 1-49 0-33 1-69 1 48 0 112 1-3 1 39 0-78 1-7 0 28 1 91 1-147 0-7 1 9 0 38 1-73 1 79 0-49 1 7 1 58 0-49 1 83 0-65 1 19 1-48 0-12 1 28 0-45 1 105 1 10 0-89 1 162 0-85 1 14 1-34 0 62 1-108 1 67 0-105 1 59 0 14 1 142 1-154 0 53 1 39 0 87 1 8 1-157 0-42 1 49 0-60 1 114 1 0 0 59 1-73 1-55 0-9 1 51 0-44 1-3 1 78 0-10 1-16 0 39 1 81 1-94 0-16 1 39 1-51 0-32 1 20 0-3 1 32 1 62 0-99 1 90 0-83 1 61 1 49 0-169 1 69 0 72 1 70 1-62 0-101 1-11 1 53 0 24 1 18 0-44 1 28 1 28 0 44 1-176 0 154 1-75 1-41 0 0 1-21 0 4 1 61 1-45 0 29 1 26 1 112 0 11 1-29 0-104 1-71 1-6 0 53 1 40 0-8 1 0 1 12 0 46 1-13 1-47 0-36 1-37 0 65 1 43 1 10 0-63 1 42 0 25 1-58 1-74 0-26 1 76 0 2 1 72 1 58 0-177 1 29 1 85 0-20 1 47 0-23 1-39 1 26 0-42 1-8 0-75 1 169 1-16 0 37 1-46 0-65 1-78 1 73 0-48 1 57 1 84 0-91 1 7 0 87 1-111 1-87 0 68 1-70 0 167 1-6 1-13 0 6 1-48 1 19 0-24 1 40 0-9 1-14 1 113 0-128 1 104 0-71 1-37 1 18 0 127 1-93 0-103 1 88 1-22 0 24 1 40 1 103 0-108 1-12 0 43 1-75 1 105 0-89 1 93 0-88 1 77 1 27 0-76 1 74 1-96 0 2 1-100 0 22 1 125 1 23 0 1 1-59 0-68 1-8 1-29 0 6 1 119 0-87 1 113 1 4 0-187 1 88 1 58 0 11 1-21 0 27 1 44 1-54 0-29 1 1 0-100 1 126 1-116 0 71 1 23 0 4 1-58 1-87 0 49 1 22 1-28 0 1 1 55 0-29 1 39 1-7 0 49 1-63 0-3 1 44 1-23 0 46 1-10 1-115 0 73 1-85 0 85 1-2 1 89 0-102 1-104 0 116 1-55 1 6 0 69 1-89 0 84 1 23 1-26 0-62 1-79 1 83 0 78 1 13 0-114 1 32 1 154 0-200 1 72 0 83 1-25 1 11 0-35 1 13 0 51 1-57 1-101 0 119 1-64 1 14 0-61 1 80 0-8 1-28 1 10 0-57 1 17 0-25 1 122 1-65 0-13 1-32 1 82 0 42 1-20 0-116 1 75 1 33 0-42 1 50 0-31 1-121 1 116 0 78 1 36 0-142 1-33 1 99 0-17 1-66 1 94 0 15 1 36 0-75 1-84 1 24 0 40 1-88 0 69 1 5 1 27 0-37 1 101 0-190 1 148 1-90 0 1 1-87 1 116 0 56 1-18 0 2 1-30 1 29 0-78 1 116 0-170 1 57 1-36 0 36 1-62 1 119 0 31 1-25 0 1 1 25 1-43 0-53 1 63 0-112 1 145 1-76 0 56 1-52 0-8 1 49 1-45 0 74 1-142 1 50 0-9 1 81 0 30 1 34 1-60 0-100 1 27 0 57 1-2 1-73 0 72 1-62 1-3 0-16 1-46 0 108 1 106 1-172 0 43 1 73 0-136 1-56 1-38 0 38 1 126 0 11 1-56 1-82 0 138 1-29 1 58 0 5 1-66 0-43 1-8 1-30 0-13 1 68 0 22 1-77 1 58 0-41 1 15 0-12 1 44 1-108 0-80 1 134 1 73 0-5 1 8 0-44 1 83 1-115 0 155 1 31 0-78 1 16 1-79 0 3 1-20 1-26 0 28 1-27 0 62 1 48 1-121 0 36 1-92 0 46 1 70 1 35 0-73 1-14 0 57 1-170 1 183 0-48 1 40 1-28 0 107 1-142 0 4 1 4 1 46 0-61 1-25 0-113 1 208 1-17 0-61 1 127 0-2 1-4 1-42 0 91 1-34 1-42 0 35 1-40 0-133 1 112 1-32 0 46 1-20 0 52 1-16 1 78 0 13 1-141 1 10 0 52 1 97 0-116 1-71 1-15 0 94 1 71 0-89 1 90 1-148 0 10 1 131 0-100 1 83 1-24 0-1 1 32 1-22 0-3 1-16 0-60 1 61 1 87 0-64 1 50 0 27 1-99 1-4 0 23 1-109 0 84 1 16 1-31 0-99 1 42 1 65 0 31 1 63 0-79 1-76 1 171 0-107 1 49 0 43 1-1 1-8 0-104 1 33 1-42 0 116 1-59 0 7 1 56 1 0 0-61 1 37 0-43 1-23 1 19 0-19 1-22 0-36 1 39 1-12 0-25 1-56 1 82 0 98 1-59 0-30 1 8 1-33 0 89 1 30 0-12 1 54 1-16 0 1 1-122 1 63 0 86 1-115 0-36 1 45 1 40 0-66 1 91 0-105 1 10 1-63 0 43 1-62 0 37 1 54 1-72 0 88 1 22 1 44 0-32 1-51 0-40 1 81 1-66 0 82 1 3 0-94 1 34 1 42 0-47 1 13 0 3 1-103 1 59 0 38 1-1 1-87 0 74 1 12 0 11 1-97" fill="none" stroke="#000" stroke-width="5" stroke-linejoin="bevel"/>
<path transform="scale(.1)" d="M3952 2811l1-6 0 37 1-23 0 58 1 78 1-155 0 14 1 133 1-12 0-26 1-57 0-68 1 31 1 47 0-32 1 25 0-14 1 40 1 40 0-115 1 47 0-8 1 35 1 6 0-6 1-55 1-45 0 20 1 62 0-153 1 54 1 10 0 80 1 7 0-42 1 106 1-17 0-67 1-123 0 65 1 93 1 37 0-103 1 61 1-6 0-121 1 61 0 39 1 32 1-99 0-31 1 92 0 64 1-48 1-91 0 18 1 89 1-54 0-40 1 28 0-4 1 6 1 27 0 14 1 40 0 1 1 28 1-103 0-33 1 10 0-17 1 13 1 44 0-36 1 14 1-3 0 95 1-53 0-65 1 19 1 31 0 47 1-35 0-118 1 67 1-64 0 57 1-63 1 61 0-29 1-23 0-6 1 78 1-9 0 24 1-29 0-1 1-3 1-46 0 71 1 9 0-9 1-21 1 22 0-61 1 63 1-127 0 50 1-44 0 104 1-9 1-27 0-92 1 57 0-55 1 96 1-85 0 86 1 81 0 34 1-102 1-9 0-26 1 9 1-27 0-65 1 73 0-3 1 33 1 78 0-52 1-107 0 86 1-135 1 49 0 18 1-20 1 41 0 10 1-64 0 85 1-4 1 51 0-52 1-166 0 46 1 121 1 80 0-96 1-37 0 55 1-83 1 23 0-9 1-7 1-19 0 73 1 34 0-95 1 49 1 69 0-62 1 25 0-35 1-156 1 23 0 122 1 77 0-39 1 37 1-49 0-18 1-24 1 27 0 79 1-39 0-22 1-15 1-52 0 100 1-14 0 20 1 19 1-68 0 44 1-115 1 193 0-146 1 46 0 66 1-51 1-12 0-46 1-28 0 98 1-9 1-21 0 4 1 29 0-77 1 32 1 94 0-53 1 12 1 6 0-55 1-6 0 17 1-1 1-23 0 71 1-16 0-65 1 78 1 16 0 14 1-81 0 56 1-63 1 58 0-14 1-11 1 40 0 37 1-89 0 44 1-34 1-17 0 103 1-107 0 25 1 30 1 12 0 9 1-35 1-105 0 81 1 76 0-22 1-127 1 65 0-77 1 116 0 36 1 29 1-1 0-45 1-23 0 89 1-10 1-15 0-25 1-98 1-37 0 45 1-3 0 83 1-34 1 98 0-58 1-35 0-38 1 38 1 11 0 50 1 80 1-59 0 48 1-65 0-22 1 50 1 37 0-74 1 0 0-53 1-41 1-49 0 19 1 102 0-13 1-116 1 118 0 8 1-85 1 13 0 65 1-30 0 40 1-65 1 31 0 1 1-9 0 109 1-62 1-49 0 1 1 33 0-15 1-85 1 15 0 70 1-68 1 19 0 46 1 81 0-99 1 57 1-59 0-56 1 4 0 98 1 15 1-79 0-47 1 40 1 20 0-97 1-21 0 66 1 50 1-37 0 84 1-49 0-17 1-56 1 17 0 128 1-151 0 21 1 140 1 19 0-111 1 70 1-88 0 69 1 50 0-151 1-53 1 88 0-73 1 44 0 5 1 37 1-34 0-52 1-17 0-37 1 0 1 61 0 78 1-48 1-4 0 54 1 54 0-2 1 38 1-22 0-64 1-73 0 38 1 44 1 10 0-12 1-76 1 35 0 111 1-60 0 71 1-31 1-51 0 35 1-28 0-76 1 81 1-73 0-13 1 6 0 82 1-77 1 14 0-14 1 31 1-55 0 118 1-55 0-37 1-112 1 189 0 39 1-38 0-36 1 46 1-64 0 29 1-8 0 73 1-69 1-3 0-72 1 15 1-31 0 50 1 71 0-52 1 99 1 23 0-32 1-83 0-37 1 134 1-32 0-87 1 57 1 82 0-62 1-87 0 77 1 21 1-128 0 30 1 103 0-70 1-41 1 66 0-8 1-37 0 18 1-59 1-6 0 20 1-27 1 89 0 52 1 44 0-26 1 20 1-39 0-75 1-50 0 28 1 12 1 18 0-6 1 51 1 23 0 36 1-35 0-44 1 13 1-14 0-93 1 48 0 6 1 31 1-17 0 76 1-59 0-24 1-18 1 120 0-27 1-88 1 3 0 111 1 8 0 17 1-73 1-45 0 44 1 87 0-68 1 90 1-126 0 63 1 23 0 13 1-53 1-21 0-24 1 21 1 4 0-59 1-35 0 44 1-3 1-14 0 46 1 34 0 46 1-32 1-119 0 81 1 53 1-40 0-36 1-19 0 58 1-52 1 30 0 3 1-11 0 32 1-9 1-70 0 69 1-17 0-50 1-2 1-3 0 70 1 25 1-48 0 4 1 59 0-70 1-46 1-68 0 57 1 20 0 35 1-42 1 13 0-116 1 103 0-74 1 52 1 63 0-62 1-16 1-67 0 19 1 40 0 36 1 23 1-24 0-25 1 44 0 11 1-55 1 48 0-26 1-1 1 23 0-101 1-13 0 45 1 79 1-54 0 3 1-2 0-7 1 25 1-136 0 42 1 54 0-10 1 33 1 27 0 13 1-60 1-58 0-31 1 48 0 11 1 105 1 44 0-64 1-85 0-46 1 63 1 70 0-27 1-17 0 40 1-24 1-64 0 55 1-7 1-101 0 39 1 11 0 53 1-54 1 105 0-113 1 34 0 55 1 7 1-22 0 104 1-69 1-34 0 60 1-65 0-59 1 117 1-4 0-70 1-100 0 98 1-6 1 43 0-30 1-29 0 46 1-48 1-148 0 40 1 98 1 15 0 88 1-31 0 5 1 24 1 63 0-159 1 5 0 87 1-73 1-22 0 98 1-103 1 151 0-115 1 62 0-55 1 98 1-75 0-72 1-32 0 49 1 11 1 53 0 0 1-26 0 60 1-66 1 13 0-34 1-31 1 43 0 53 1-60 0 35 1-20 1-13 0 59 1-77 0 71 1-37 1-57 0-6 1 8 0-73 1 68 1 4 0-39 1 124 1-30 0-70 1-6 0 60 1-39 1-19 0 21 1-45 0 95 1-57 1 18 0 18 1 73 1-185 0 203 1-84 0-12 1-96 1 66 0 26 1-10 0-41 1 4 1-5 0 152 1-37 0-93 1-19 1-70 0 90 1 10 1 27 0-68 1-37 0 50 1-14 1 1 0 11 1 96 0 26 1-114 1 84 0-98 1-16 0 157 1-18 1-27 0 12 1 116 1-101 0-4 1 68 0-35 1 1 1-135 0 47 1 80 0-15 1 90 1-103 0 5 1-67 1 45 0-63 1-22 0 130 1-6 1-23 0 3 1 39 0-22 1-9 1-53 0 40 1-10 0-58 1 19 1 60 0 50 1-47 1 45 0-64 1 27 0 78 1-96 1 54 0-57 1 2 0-12 1 113 1-30 0-28 1-150 0 37 1 35 1-39 0 62 1 18 1 42 0-39 1 120 0 13 1-145 1-41 0 28 1 39 0-90 1 5 1 110 0-39 1-39 1 52 0 93 1-54 0-55 1-29 1 57 0-30 1 12 0-30 1 86 1 0 0-67 1-41 0 37 1-20 1 12 0 59 1-104 1 95 0 38 1-47 0-49 1 11 1 60 0 50 1-78 0-10 1 55 1 1 0-95 1-8 1 170 0-40 1-113 0 63 1 100 1-18 0-120 1 70 0-63 1 80 1-84 0 39 1-18 0 7 1 31 1 128 0-152 1-43 1 2 0-18 1 82 0-38 1 102 1 34 0-79 1 89 0-116 1 11 1-10 0 42 1-44 0-35 1 96 1 5 0-70 1 74 1-76 0 60 1-12 0-56 1-20 1 85 0-121 1 72 0 37 1-67 1 11 0-91 1 106 1 91 0 57 1-75 0-62 1-43 1-19 0-34 1 63 0 42 1-184 1-31 0 143 1 7 0 27 1-110 1 0 0 175 1-63 1 15 0-43 1 32 0-29 1 43 1-86 0 50 1-67 0 105 1-66 1-25 0 10 1 29 0 51 1-14 1 25 0-97 1-2 1-16 0-18 1 99 0 2 1-2 1 13 0 11 1 15 0-34 1-145 1 46 0 14 1 10 1 84 0-54 1 14 0-13 1 33 1-120 0 147 1-21 0 15 1-10 1-99 0-39 1 46 0 98 1-77 1 30 0 110 1-99 1 15 0-7 1-46 0-49 1 126 1-39 0-18 1 1 0 18 1-74 1 95 0-1 1-110 0 60 1-27 1-63 0 120 1 84 1 92 0-114 1-40 0 17 1-59 1-59 0 36 1 62 0 76 1-59 1-33 0-62 1 111 1 25 0 79 1-67 0-104 1-46 1 54 0 71 1-59 0 54 1 6 1-175 0 131 1-11 0 7 1-48 1 73 0-5 1-84 1 74 0 27 1 9 0 45 1 37 1-123 0 54 1-9 0-96 1 3 1 82 0-74 1 13 1 41 0-132 1 90 0 18 1-28 1-5 0 0 1 27 0 5 1-35 1 35 0-4 1-55 0-13 1 49 1 34 0-105 1 133 1-57 0-18 1 92 0 17 1-144 1 7 0 53 1 2 0-22 1 85 1-99 0 131 1-75 0 23 1 13 1-62 0 41 1-94 1-28 0-21 1 41 0 90 1-50 1 116 0-175 1 18 0 26 1 150 1-133 0 31 1 3 1 51 0 120 1-97 0-76 1 30 1-66 0-41 1 67 0-46 1 76 1 18 0 12 1-19 0-86 1 52 1 41 0-40 1 80 1 0 0-108 1-58 0-21 1 121 1-18 0-6 1-56 0 5 1 67 1 74 0-63 1 41 0-147 1 31 1-84 0 35 1 91 1 37 0 98 1-120 0-123 1 101 1 9 0 45 1 2 0-77 1-48 1 99 0-24 1 136 1-48 0-43 1-95 0 50 1-100 1 80 0 30 1 9 0 0 1 85 1-55 0-41 1-65 0 16 1 59 1-61 0 140 1-38 1-64 0 15 1 3 0 61 1 47 1-66 0-78 1 59 0-17 1-37 1 103 0-83 1 27 0 54 1-57 1-14 0 66 1-40 1 46 0-61 1 54 0 8 1-16 1 48 0-66 1 22 0-99 1 40 1 29 0 37 1-9 1-17 0 50 1-51 0-52 1 71 1-44 0-9 1 32 0 78 1-46 1-2 0 26 1 9 0-132 1 57 1 14 0 37 1-54 1-19 0 33 1-15 0 73 1-67 1-13 0-22 1 37 0 8 1-37 1 8 0 82 1-40 1-141 0 68 1 2 0 8 1 8 1 6 0 34 1-40 0 18 1 2 1-54 0 62 1 22 0 16 1 63 1-118 0 8 1 70 1-97 0 20 1 43 0-68 1 75 1-64 0 18 1-41 0 23 1 6 1 19 0-29 1-24 0 36 1 24 1-73 0 82 1 46 1-37 0-20 1-150 0 61 1-34 1-35 0 19 1-29 0 113 1 1 1-79 0 28 1-24 1 150 0-3 1-5 0-65 1 16 1-85 0-40 1-53 0 189 1 41 1-54 0-57 1-38 0-6 1 50 1-41 0 45 1-95 1 93 0-98 1 91 0-17 1 32 1 6 0-43 1 17 0-56 1-43 1 44 0 82 1-23 0-8 1-45 1 183 0-134 1 9 1-21 0-77 1-16 0 96 1-4 1-28 0-21 1 1 0-95 1 10 1-34 0 150 1-57 1-73 0 168 1-47 0 13 1 8 1-17 0 73 1-29 0 23 1-69 1-39 0-37 1 130 0-28 1-19 1 43 0-71 1 17 1 40 0-69 1 21 0-93 1 137 1-7 0-3 1-55 0 99 1-107 1 154 0-63 1-38 1-59 0 73 1-63 0 97 1-39 1 24 0-24 1 96 0-73 1-13 1 43 0-72 1 114 0-109 1 7 1-64 0-17 1 115 1-7 0 50 1 102 0-138 1-70 1 64 0-69 1 86 0-17 1 65 1 20 0 18 1-56 0-36 1 95 1-86 0 23 1-3 1 39 0 55 1-129 0 19 1-8 1-35 0 1 1-10 0-37 1-32 1 44 0-8 1-71 1 106 0-59 1 134 0-45 1 70 1-20 0-47 1-36 0 24 1-52 1 4 0-35 1 150 0-136 1 41 1 60 0-54 1-80 1 43 0 90 1-175 0 66 1-42 1 67 0 1 1-33 0-70 1 90 1-1 0 26 1 52 0-163 1 16 1 83 0 61 1 62 1-104 0 0 1-29 0-73 1-9 1 76 0 83 1 3 0-70 1 39 1 9 0-120 1-29 1 66 0-18 1-45 0 54 1-34 1 44 0-41 1 112 0-6 1-133 1-16 0 148 1-98 0 12 1-12 1 30 0-115 1 124 1-47 0-32 1 119 0-42 1-75 1 105 0-7 1-37 0-71 1 13 1 114 0 7 1 24 0-150 1 86 1 3 0-45 1-17 1-3 0-51 1 25 0 81 1-20 1-48 0 18 1-3 0-7 1 72 1-33 0 100 1-72 1-64 0 120 1-22 0 29 1-55 1-109 0 46 1 42 0-21 1 22 1-39 0 6 1 94 0 15 1 16 1-97 0 66 1-90 1 22 0 107 1-85 0-67 1 19 1 86 0-47 1-120 0-74 1 166 1 13 0 4 1-55 1-51 0 67 1 15 0 56 1 43 1-83 0 93 1-7 0-39 1-43 1 109 0-73 1-16 0-12 1 18 1-42 0-48 1 89 1 45 0-16 1 45 0-19 1-72 1-18 0 48 1 65 0-97 1-17 1-8 0-16 1-48 0 18 1 110 1 145 0-127 1-54 1 30 0-3 1-44 0 32 1 7 1-48 0 13 1 39 0-47 1 17 1-6 0 31 1-8 1 103 0-53 1-116 0-74 1 10 1 126 0 103 1-97 0-47 1-55 1 14 0 65 1-46 0 47 1 9 1 88 0-71 1-68 1 99 0-33 1 91 0-113 1 10 1 36 0-66 1 5 0 56 1-58 1 49 0-90 1 3 0 90 1 36 1 9 0-6 1-12 1-125 0 41 1 109 0-82 1-22 1-66 0 52 1 68 0-52 1-28 1 98 0-26 1 30 1-42 0 5 1-41 0 72 1 37 1 8 0-75 1-157 0 30 1 23 1 69 0 10 1 3 0-93 1-67 1 5 0 64 1 87 1 35 0-44 1-28 0-12 1 42 1-22 0 143 1-133 0-114 1 47 1-39 0 22 1 104 0 116 1-109 1-43 0 40 1 15 1-89 0 3 1 109 0 85 1-175 1 22 0-49 1 34 0 60 1-35 1 10 0 39 1 3 1 11 0-107 1 12 0-1 1 64 1-37 0-25 1-63 0 40 1-3 1 44 0-39 1 94 0 58 1-19 1-60 0-78 1-9 1 106 0-46 1 31 0 45 1-21 1 40 0-74 1 11 0 32 1-16 1-14 0 12 1 5 1 10 0-72 1 77 0 41 1-82 1-99 0-40 1-8 0 152 1 2 1-31 0-6 1 59 0 9 1-92 1 5 0 49 1-38 1-52 0 83 1-103 0 113 1 27 1-61 0-47 1 145 0-38 1-91 1-26 0 43 1 59 0-33 1 34 1-92 0-3 1 97 1-57 0 45 1-26 0-85 1 86 1 121 0-65 1-115 0 2 1 72 1-87 0 89 1 72 1-148 0 76 1 25 0 61 1-33 1-57 0-96 1 14 0-3 1 0 1 106 0-29 1 36 0 22 1 5 1-56 0-37 1 30 1-25 0-50 1 3 0 130 1-108 1 26 0 40 1-15 0 31 1 125 1-81 0-72 1 14 0 4 1 11 1-30 0 60 1-25 1-15 0-45 1 44 0-44 1 14 1-106 0 24 1 36 0 90 1-135 1 89 0 1 1 14 1 3 0-1 1 60 0 8 1-9 1 10 0-28 1 2 0-55 1-77 1-26 0 30 1 81 0-7 1-31 1 28 0-83 1-11 1 35 0 73 1 54 0-53 1-68 1 78 0-12 1 21 0-121 1 20 1 81 0-54 1-6 0-32 1 97 1-120 0 70 1-104 1 103 0-25 1 47 0 45 1-114 1-8 0-59 1 83 0 81 1-43 1-55 0-10 1 104 1-43 0-10 1-5 0-26 1 95 1 53 0-47 1-43 0 133 1-56 1-109 0 18 1-18 0-11 1 18 1 6 0-13 1 78 1-85 0 107 1-55 0-42 1-36 1 112 0-149 1 46 0 22 1-7 1-3 0 9 1-34 1 58 0-36 1 17 0-27 1 13 1 80 0-71 1 61 0 8 1 12 1-46 0-21 1 75 0-8 1-13 1-91 0-8 1 140 1-70 0-156 1 84 0 65 1-41 1-69 0 60 1 8 0-66 1 128 1-75 0-1 1-10 0 113 1-69 1 81 0 24 1 11 1 23 0 23 1-156 0 49 1-3 1 27 0-19 1 7 0-36 1-109 1 64 0 126 1-95 1-86 0 148 1-93 0 115 1-32 1 18 0-5 1 19 0-76 1-12 1 53 0-58 1-43 0 3 1 69 1-10 0 77 1-42 1-23 0-28 1-45 0 46 1-12 1 52 0-77 1 74 0-99 1 32 1 64 0 5 1 13 0-114 1 11 1-85 0 45 1 99 1-70 0 54 1 23 0-48 1-90 1-8 0 70 1-30 0 40 1 43 1-98 0-19 1 86 1-147 0 78 1-40 0 10 1-16 1 51 0-54 1 130 0-41 1 38 1-104 0 95 1-88 0 0 1 147 1 31 0-164 1-11 1 79 0-117 1 28 0-11 1 107 1 17 0-27 1-8 0 21 1-50 1 43 0-11 1 98 0-80 1 47 1-112 0 106 1 31 1-60 0-55 1 47 0-71 1 24 1 219 0-169 1 99 0-59 1 17 1-57 0 11 1 25 1-12 0-35 1 4 0 61 1-101 1 133 0-28 1 127 0-57 1-76 1-38 0 55 1 41 0-214 1 70 1 56 0 37 1-64 1-46 0 21 1-2 0 121 1-80 1-26 0 80 1-21 0 64 1 70 1-64 0 82 1-146 1-31 0-17 1 67 0 47 1-52 1-67 0-8 1 4 0 73 1 8 1 17 0-19 1-22 0-58 1 50 1-16 0-30 1 27 1 91 0 6 1-80 0 29 1-23 1-55 0-11 1 44 0-10 1-129 1 175 0 62 1-97 0 112 1-1 1-50 0 20 1 77 1-120 0 22 1 24 0-36 1 82 1-88 0 78 1 56 0-48 1-48 1-68 0 78 1-20 1-35 0 24 1-35 0 14 1-46 1 35 0-50 1 59 0 51 1-24 1 75 0-30 1 2 0 63 1-47 1 70 0-53 1-73 1 12 0-45 1 57 0 33 1 69 1-90 0-27 1 30 0-20 1 8 1-88 0 48 1-39 0 12 1 12 1 77 0 134 1-3 1-134 0-17 1 3 0-4 1-61 1 40 0 53 1-69 0 84 1-104 1 4 0 46 1 30 1-26 0 54 1-97 0 108 1-19 1-59 0 48 1-56 0-90 1 139 1 43 0-33 1-35 0-61 1 76 1-9 0-6 1-18 1-76 0 79 1-55 0 16 1 6 1-3 0 39 1-107 0 66 1 55 1-74 0 8 1 22 0 90 1-54 1-14 0 61 1-43 1-1 0-50 1 108 0-5 1-25 1-107 0 3 1-13 0-34 1-52 1 27 0 5 1 143 1-67 0-40 1 125 0-14 1-102 1-56 0-12 1 28 0 3 1 92 1-33 0 69 1 42 0-154 1 141 1-2 0-98 1 59 1-1 0-91 1-43 0 38 1 67 1-12 0-10 1-18 0 65 1 77 1-79 0 48 1-33 1-91 0 102 1-76 0 82 1-5 1-1 0-89 1 68 0 18 1-34 1 18 0-83 1 7 0 28 1 20 1 51 0-170 1 74 1 34 0 129 1-50 0-128 1 134 1-105 0 17 1 22 0-24 1-5 1-80 0 142 1 30 0-7 1 14 1-109 0-14 1-23 1-1 0 48 1 80 0 5 1-21 1-41 0 19 1-17 0 44 1-114 1 89 0-107 1 110 1-12 0-79 1 152 0-109 1-42 1 122 0-101 1 37 0-28 1 6 1 38 0 49 1-59 0 105 1-56 1-67 0-9 1 29 1-75 0 18 1 67 0 45 1 97 1-69 0-113 1 79 0-40 1 7 1 34 0-81 1 11 0-95 1 130 1 57 0-15 1-123 1 143 0-102 1 15 0 28 1 16 1-68 0 107 1-24 0-36 1-25 1 33 0-48 1-67 1 53 0 27 1 24 0-27 1-3 1 52 0 47 1-120 0 93 1 25 1-52 0 104 1-146 0 22 1 38 1 14 0-69 1 16 1-8 0-47 1 49 0 45 1-15 1 121 0-7 1-108 0 1 1 29 1-41 0 99 1-137 1-15 0 96 1-105 0 60 1 82 1 12 0-47 1-55 0 15 1-21 1 36 0 56 1-108 0-12 1 117 1-55 0 49 1-43 1 30 0-68 1 38 0 45 1 1 1-36 0 27 1 7 0-100 1-8 1 124 0-21 1 13 0 66 1-130 1 97 0-12 1-10 1-140 0-55 1 92 0 63 1-38 1-90 0 126 1-89 0 12 1 110 1-126 0-28 1 36 1 23 0 19 1 34 0 97 1-74 1 34 0-48 1 10 0-52 1 47 1-88 0 41 1 4 0-12 1-7 1 23 0-52 1-51 1 132 0-71 1 10 0-12 1 49 1 36 0-28 1-53 0 4 1 36 1-32 0-70 1-3 0 175 1-123 1 84 0-27 1-65 1-31 0 27 1 7 0-1 1 75 1 20 0 18 1-19 0-74 1-10 1 1 0 42 1 81 1-106 0 45 1-43 0-46 1 1 1-11 0 91 1-30 0-122 1-58 1 162 0-97 1 122 0 18 1-106 1 191 0-93 1-21 1 19 0-11 1-93 0 130 1 2 1-57 0-11 1 73 0-20 1 29 1-7 0 37 1-99 0 42 1-78 1 16 0 34 1 11 1-13 0 93 1-142 0 84 1 37 1-40 0 42 1-26 0-100 1-99 1 96 0 81 1 23 1-14 0 33 1-138 0 88 1 16 1 46 0-27 1-66 0 31 1-111 1-54 0 155 1 57 0 18 1-4 1-209 0 117 1-1 1-6 0 40 1 175 0-187 1 51 1-176 0 140 1 69 0 42 1-78 1-30 0-146 1 54 1 105 0-63 1 35 0-30 1 88 1 49 0-146 1 80 0-93 1-73 1 149 0-126 1 52 0-55 1-4 1 60 0-63 1 152 1-77 0 14 1-13 0 24 1-98 1 99 0-31 1-53 0 29 1 36 1-37 0 57 1-57 0 112 1-38 1-36 0 4 1-30 1 68 0 14 1 23 0-25 1-12 1 10 0 1 1 67 0-74 1 12 1 41 0-86 1 48 1-54 0 93 1-182 0 67 1 56 1-72 0 78 1-15 0 70 1-104 1 45 0-18 1-1 0-21 1-22 1 194 0-19 1-172 1-28 0 98 1-22 0-61 1 37 1-44 0 41 1-66 0 9 1 155 1-18 0-23 1-85 0 123 1 64 1-35 0-111 1-71 1 71 0 14 1-2 0 29 1-76 1-37 0 142 1-58 0 29 1 43 1-74 0-9 1 18 1 42 0 1 1-33 0-70 1-34 1 88 0-39 1-83 0 169 1-31 1-11 0 4 1-78 0 33 1-21 1 12 0-61 1-14 1-72 0 99 1-1 0 79 1-5 1-79 0-19 1-5 0 71 1 1 1 16 0 9 1-32 0 60 1-54 1 38 0 59 1-88 1 49 0-56 1 57 0 31 1-4 1 19 0-55 1 12 0 2 1 43 1-76 0-19 1-11 1 61 0 29 1-41 0 0 1-39 1 10 0 35 1 51 0-8 1 13 1-159 0 41 1-49 0 87 1 0 1 71 0-41 1 46 1-88 0 91 1-58 0-30 1 3 1-59 0 128 1 1 0 83 1-3 1 12 0-26 1-89 1-19 0 113 1 6 0-146 1 41 1-15 0 101 1-53 0-153 1 112 1 12 0 19 1-30 0 41 1 62 1-124 0-14 1 107 1-91 0-37 1 3 0-7 1-65 1 146 0 54 1-17 0-67 1-30 1 50 0-57 1 109 0-48 1 25 1 52 0 30 1-113 1 13 0-28 1 14 0-112 1 18 1 102 0-103 1 73 0 32 1-53 1 7 0 18 1 82 1-91 0 33 1 83 0-15 1 95 1-102 0-52 1 0 0 9 1 60 1-129 0-65 1 77 0 4 1-4 1-116 0 43 1 84 1-50 0 33 1 81 0-46 1 80 1-142 0 102 1-161 0 97 1 36 1-18 0 102 1-148 0 42 1 12 1 106 0-22 1-72 1 85 0-94 1 65 0 3 1-20 1-29 0 44 1-28 0-85 1 83 1-91 0 148 1-44 1-83 0 71 1-20 0-9 1-63 1-43 0 52 1 87 0-138 1 51 1 25 0 32 1-30 0 18 1-14 1-15 0-76 1 86 1 119 0-13 1-68 0-9 1-21 1-92 0-26 1 85 0 51 1-74 1 54 0-1 1-139 0 158 1-23 1-30 0 28 1-8 1 60 0-50 1 11 0 32 1-13 1-33 0 20 1 21 0-83 1-9 1 44 0-10 1-46 1 92 0-5 1-30 0 81 1-64 1 58 0-67 1 74 0-125 1 83 1-34 0-3 1-86 0 36 1 105 1 58 0-39 1 41 1-97 0 10 1-95 0 94 1-14 1-66 0 21 1 47 0-89 1 103 1-30 0-16 1-37 1-64 0 68 1 34 0 13 1-58 1 31 0 44 1-60 0-8 1 34 1-38 0 56 1 40 0-39 1 56 1-7 0-174 1 29 1-50 0 161 1-24 0 19 1-54 1 0 0 18 1-23 0 18 1 47 1-7 0-23 1-54 0-66 1 32 1 31 0-48 1 115 1-4 0-9 1 53 0-82 1-6 1-13 0 78 1-18 0-16 1 52 1-75 0-33 1 3 1 38 0 46 1-48 0-20 1 52 1-13 0-30 1 18 0 45 1 106 1-23 0-71 1-49 0 22 1-68 1 105 0-50 1 16 1-28 0 39 1-7 0-88 1 41 1-58 0 115 1-23 0 70 1 13 1-4 0 42 1-57 0-61 1-35 1-45 0 75 1-51 1-57 0 10 1 64 0 24 1-15 1 48 0-22 1-25 0 2 1-39 1-35 0 118 1-10 1-75 0 82 1-1 0 71 1 66 1-87 0-70 1-71 0 112 1-88 1-43 0 82 1-6 0 92 1-66 1 22 0 26 1 27 1-112 0 88 1-52 0 7 1-14 1-116 0 79 1 120 0-73 1 35 1-97 0-23 1 72 0-103 1 218 1-20 0-67 1-13 1-13 0 31 1-5 0 29 1-46 1 24 0-16 1 36 0-9 1 38 1-124 0 92 1-95 1-46 0 81 1-18 0-71 1 81 1 42 0-76 1 36 0 60 1-21 1-2 0-224 1 157 0-15 1 59 1-29 0 77 1-96 1 37 0-55 1-117 0 198 1-45 1 30 0 59 1-26 0-31 1 3 1-9 0-37 1 13 1 15 0 24 1 36 0-49 1-14 1 6 0 52 1-45 0-24 1-30 1 29 0 3 1 124 0-76 1-67 1 68 0-3 1-38 1 117 0-90 1 21 0 26 1 83 1 13 0-14 1-64 0 50 1-83 1 4 0 25 1 71 0 10 1-161 1-75 0 39 1 42 1 119 0-98 1 109 0-8 1-118 1 35 0-21 1 172 0-93 1-50 1-17 0-40 1 17 1 10 0-17 1 28 0-4 1 12 1-9 0 51 1-65 0 123 1-97 1-97 0 22 1 68 0 63 1-26 1 18 0-42 1-17 1 91 0-77 1-42 0 40 1 57 1 77 0-119 1-82 0 8 1 52 1-44 0 25 1 4 0 24 1-118 1 157 0-29 1-105 1-20 0-73 1 65 0 111 1 13 1-88 0-32 1 4 0 20 1 57 1 48 0-13 1-115 1 8 0 74 1-97 0 151 1-103 1 33 0-29 1-72 0 7 1 41 1-42 0-3 1 36 0 41 1-85 1 82 0-150 1 64 1 6 0-5 1 63 0-83 1 77 1 19 0 104 1-229 0 114 1-66 1 37 0 13 1-31 0 137 1-62 1 62 0-81 1 3 1 43 0-83 1 52 0-26 1-54 1-2 0 44 1 74 0-116 1 138 1-39 0-94 1 57 1 39 0-23 1-7 0 53 1-47 1 42 0-72 1 15 0 114 1-12 1-64 0-50 1 133 0-28 1-36 1-82 0 136 1-50 1-47 0 28 1-45 0 110 1 49 1-18 0-119 1 17 0-80 1 64 1 74 0-64 1-21 1 53 0 59 1 21 0-15 1-34 1-58 0-2 1-38 0 109 1 10 1-81 0-21 1 10 0-7 1 77 1 48 0-39 1-141 1 29 0 71 1-116 0 148 1-42 1-43 0 0 1-8 0 48 1-14 1 71 0-50 1-42 0-9 1-26 1 139 0 11 1 16 1-88 0 101 1-38 0-46 1-99 1 22 0 88 1 51 0-1 1-3 1-42 0-108 1 51 1 22 0 9 1-7 0-17 1-15 1-73 0-15 1 102 0 1 1-41 1-59 0 86 1-12 0 70 1 21 1-29 0-7 1-1 1-72 0-15 1 63 0-112 1 97 1 4 0-47 1 12 0 29 1-14 1 93 0-20 1-188 0 61 1-23 1-21 0 125 1-28 1 46 0 102 1-118 0 12 1-34 1 38 0-70 1-12 0-8 1 103 1 32 0-95 1-16 1 45 0-78 1 155 0 37 1-160 1 40 0 18 1-33 0-15 1 104 1-96 0 25 1-27 0 38 1-72 1-31 0 5 1 20 1-29 0 22 1 82 0-102 1 36 1 68 0-15 1-152 0-14 1 63 1 80 0-56 1 168 1-58 0-178 1 68 0 89 1-79 1-142 0 178 1-8 0-31 1 127 1-66 0 28 1 29 0-36 1 19 1 23 0 11 1-63 1-5 0 87 1-111 0 51 1-76 1 4 0 111 1 9 0-27 1-35 1 21 0-51 1 51 0-53 1 25 1-45 0-41 1 25 1 14 0 31 1-79 0-30 1 10 1 100 0 53 1-87 0 31 1 14 1-19 0 31 1 123 1-70 0-86 1 58 0-53 1 100 1-112 0 46 1-45 0-2 1 26 1 50 0-103 1 65 0 20 1 37 1-99 0 86 1-71 1-18 0 5 1-47 0 136 1 79 1-111 0 68 1 28 0-14 1-48 1-17 0 20 1-80 0 40 1 58 1-79 0 127 1-46 1-16 0-42 1 28 0 40 1-130 1 67 0 23 1 4 0-91 1 94 1 33 0-50 1-14 1 9 0 19 1-43 0 47 1 20 1-204 0 118 1 87 0-141 1 93 1 28 0-52 1-116 0 56 1 108 1 72 0-108 1-13 1-21 0 6 1-41 0 66 1 81 1 82 0-36 1 5 0-1 1-46 1-49 0 21 1-42 0-104 1 67 1 195 0-80 1-45 1 68 0-84 1 44 0 70 1-109 1-40 0 94 1-62 0 55 1 71 1-43 0-175 1 69 1-21 0-50 1 122 0-15 1-5 1-36 0 73 1-25 0-41 1-71 1 78 0-118 1 199 0-130 1 36 1-4 0 10 1 28 1 17 0-47 1-14 0 127 1 36 1-60 0-114 1 34 0 87 1 25 1 54 0-177 1-104 1 94 0-96 1 15 0 77 1 9 1 95 0-24 1-4 0-79 1 76 1-45 0 37 1-68 0-32 1 152 1 63 0-209 1 136 1-50 0 32 1-41 0 106 1-155 1 12 0-112 1 135 0-4 1 48 1-16 0 104 1-39 0-96 1 22 1 27 0-23 1-20 1-100 0 40 1 96 0 8 1 10 1 0 0 25 1-20 0 42 1-170 1-23 0 129 1-81 1 89 0-45 1-106 0 130 1 34 1-100 0 9 1 53 0-41 1-11 1 35 0-23 1-103 0 99 1-29 1 32 0 101 1-128 1 17 0-11 1 43 0 29 1 26 1-104 0 25 1-55 0 33 1-128 1 6 0 35 1 29 0-16 1 31 1-36 0-8 1 72 1 31 0 22 1-23 0-2 1 9 1-4 0-51 1-17 0 63 1 0 1 20 0-6 1-65 1 21 0 88 1-75 0-56 1 15 1-71 0-123 1 121 0 138 1-11 1 24 0-11 1-40 0 91 1-72 1 40 0-50 1-37 1 16 0-110 1 93 0-15 1-27 1 10 0-12 1 53 0-21 1 100 1-9 0-37 1-62 0 78 1-110 1 62 0 124 1-139 1-45 0 29 1 68 0 12 1-3 1-67 0 32 1 121 0-26 1-51 1 59 0-34 1-123 1 19 0 39 1-38 0 38 1-50 1 6 0 99 1-173 0 166 1-12 1-5 0 54 1 10 0-80 1 80 1 8 0-76 1 9 1-24 0 19 1 33 0-87 1 2 1 1 0-52 1 166 0-108 1-54 1-12 0-39 1-16 1 73 0 10 1 117 0-85 1 47 1-41 0 60 1 40 0-81 1 39 1-7 0 39 1-89 0 32 1-125 1 160 0-134 1 48 1 25 0 25 1-15 0 35 1-58 1-28 0 109 1-23 0-12 1 0 1-89 0 74 1-70 0-13 1 26 1 17 0-70 1 22 1-12 0 130 1-14 0 69 1-121 1-49 0 99 1-85 0 103 1-98 1 83 0-59 1 57 1 25 0-113 1 59 0-87 1 172 1-53 0 38 1 53 0-26 1-15 1-70 0 68 1 13 0 3 1-170 1 76 0-32 1 14 1 58 0-89 1 81 0-63 1 56 1 39 0-29 1-150 0 36 1-1 1 110 0-74 1-45 0 143 1-101 1 121 0-89 1 8 1 4 0 73 1-21 0-30 1 35 1 2 0-53 1-51 0-4 1 69 1-42 0 113 1-36 1-56 0-65 1-27 0 56 1 141 1-26 0-105 1 13 0 95 1-148 1 72 0-52 1 8 0-8 1 21 1-6 0 67 1-62 1-28 0 18 1 95 0-90 1-16 1 32 0-98 1 111 0 4 1-20 1 85 0-69 1 25 0-125 1-12 1-39 0 155 1-93 1-67 0 72 1-45 0 49 1 134 1-108 0 9 1-43 0 83 1-27 1-6 0-69 1-25 1 32 0-134 1 150 0 11 1-37 1 94 0-82 1-40 0 13 1-35 1 56 0 13 1-38 0 112 1-14 1-58 0 18 1-119 1 32 0 6 1 45 0-1 1-17 1-52 0 56 1 84 0-134 1-5 1 103 0-51 1-50 1 89 0-1 1-32 0 1 1 89 1 0 0 1 1-95 0 53 1-123 1 180 0-224 1 109 0-20 1 31 1-23 0 42 1 9 1 11 0-36 1 31 0 10 1-13 1 87 0-142 1-22 0 36 1 31 1 4 0 70 1-11 0-88 1 8 1 10 0 34 1 42 1-125 0-2 1-24 0 14 1 76 1 36 0-33 1-69 0 28 1 63 1-36 0 77 1-100 1 7 0 22 1 78 0-95 1 5 1 36 0-66 1 33 0-2 1 7 1 106 0-127 1 125 0-81 1-130 1 104 0-1 1-58 1 74 0 37 1 48 0-92 1-23 1-27 0 104 1-102 0-65 1 31 1-49 0 134 1 45 0-79 1 88 1-76 0-24 1-33 1-81 0 142 1-109 0 154 1-33 1 0 0-130 1 74 0-12 1 41 1 71 0-20 1-110 1 6 0-80 1 54 0 122 1 70 1-159 0 5 1 80 0-78 1 91 1-30 0-40 1-64 0 86 1-10 1-64 0 55 1-11 1 104 0-76 1 9 0-62 1-60 1 52 0 29 1 114 0-34 1-34 1 36 0-25 1-19 0-147 1 68 1-18 0 148 1-83 1-4 0-29 1 54 0 7 1-88 1 130 0 34 1-41 0 7 1 20 1-28 0-143 1 10 1 66 0-73 1 130 0 77 1-69 1 26 0-61 1 62 0-41 1 35 1-62 0 75 1-133 0 28 1 98 1-134 0 46 1 106 1-126 0 84 1 9 0-62 1 9 1-24 0 13 1 56 0-69 1-16 1-101 0 73 1 78 1 37 0 78 1-102 0-57 1 89 1 27 0-138 1 116 0-77 1 77 1-34 0 10 1-141 0 55 1 49 1 76 0-36 1 51 1-58 0-81 1-4 0 23 1 119 1 3 0-12 1-25 0-141 1 156 1-113 0-35 1 48 0 11 1 61 1 75 0-45 1-60 1-11 0 11 1 134 0-144 1-61 1 116 0-24 1 81 0-193 1 147 1-100 0 86 1-125 1 52 0-13 1 37 0 211 1-103 1-62 0 18 1 33 0 52 1-28 1-47 0-22 1 22 0-56 1 10 1 80 0-34 1-15 1-56 0 73 1-5 0-94 1 103 1 36 0-2 1-53 0-21 1 19 1 103 0 18 1-97 0-71 1 39 1-10 0 56 1-33 1-7 0 59 1-91 0 13 1 14 1 106 0-78 1-28 0 35 1-23 1 14 0-92 1 106 1-15 0 36 1-31 0-9 1-54 1 65 0 13 1 22 0 42 1 42 1-63 0-16 1-31 0 27 1-80 1 57 0-35 1 34 1 67 0-130 1 41 0 70 1 108 1-164 0-49 1 33 0 16 1 65 1-90 0 178 1-146 0 9 1-40 1 27 0 87 1-52 1-7 0 107 1 4 0-77 1-8 1-59 0 118 1 26 0-59 1-45 1 87 0-54 1 72 1-156 0 20 1 28 0 145 1-148 1-34 0-29 1 22 0 160 1-41 1-116 0 136 1-46 0-58 1 11 1-10 0 59 1-85 1 31 0 32 1 66 0-77 1 19 1 33 0-77 1-2 0-1 1 37 1-13 0 24 1-100 1 86 0-36 1 18 0 36 1-53 1 63 0 69 1-49 0 46 1-5 1-57 0-3 1-46 0-5 1 45 1 4 0 49 1 2 1-29 0-17 1 17 0-64 1-28 1 126 0-35 1 38 0-1 1 29 1-90 0-14 1-66 0-26 1 71 1-38 0 101 1 163 1-135 0-191 1 87 0 11 1-40 1 15 0 99 1-49 0-41 1 81 1 11 0 18 1-107 1 68 0-123 1 109 0 70 1-47 1-43 0-23 1-35 0 27 1-80 1 78 0 83 1-93 0-54 1 68 1 139 0 0 1-102 1-38 0 67 1-19 0-20 1 47 1-86 0-95 1 157 0-45 1 106 1-7 0-7 1-91 0 37 1 12 1-50 0 39 1 32 1 79 0-49 1-41 0-31 1-118 1 87 0 10 1-147 0 187 1 52 1-38 0-25 1-79 1-1 0 29 1 34 0 66 1 23 1-31 0-83 1 89 0-114 1-11 1 48 0-41 1 56 0 88 1-71 1 0 0-140 1 105 1-48 0 9 1-57 0-51 1 198 1-4 0-14 1 23 0-80 1-40 1 177 0-5 1-36 0-118 1-45 1 173 0 10 1-102 1 21 0-47 1 98 0-12 1 46 1-14 0-89 1 73 0-32 1 43 1 12 0-87 1 22 1-12 0 20 1 83 0-5 1-16 1 14 0-74 1-86 0 53 1 76 1-40 0 37 1 24 0-120 1-47 1-61 0-14 1 23 1 133 0-78 1 122 0-2 1 56 1-102 0 159 1-113 0-46 1 49 1-70 0 23 1 72 1-62 0-33 1-15 0 23 1 30 1 30 0-17 1-42 0 29 1 48 1-44 0 33 1-86 0 148 1-31 1 17 0-17 1-77 1-55 0 74 1 74 0-144 1 189 1-65 0 1 1-26 0-117 1 12 1 113 0 30 1-19 0-51 1 6 1-41 0 79 1-77 1 90 0-122 1 33 0-4 1 12" fill="none" stroke="#ffa500" stroke-width="5" stroke-linejoin="bevel"/>
<path d="M49.0 5.9V153.6H325.5" fill="none" stroke="#000" stroke-width="1.15"/>
<path d="M49.00 146.6V160.6M118.12 146.6V160.6M187.25 146.6V160.6M256.38 146.6V160.6M325.50 146.6V160.6M83.56 149.6V157.6M152.69 149.6V157.6M221.81 149.6V157.6M290.94 149.6V157.6M42.0 153.60H56.0M42.0 128.98H56.0M42.0 104.37H56.0M42.0 79.75H56.0M42.0 55.13H56.0M42.0 30.52H56.0M42.0 5.90H56.0M45.0 141.29H53.0M45.0 116.67H53.0M45.0 92.06H53.0M45.0 67.44H53.0M45.0 42.82H53.0M45.0 18.21H53.0" fill="none" stroke="#000" stroke-width="1.6"/>
<text x="49.00" y="172.6" text-anchor="middle">0</text>
<text x="118.12" y="172.6" text-anchor="middle">50</text>
<text x="187.25" y="172.6" text-anchor="middle">100</text>
<text x="256.38" y="172.6" text-anchor="middle">150</text>
<text x="325.50" y="172.6" text-anchor="middle">200</text>
<text x="40.2" y="158.60" text-anchor="end">0</text>
<text x="40.2" y="133.98" text-anchor="end">0.1</text>
<text x="40.2" y="109.37" text-anchor="end">0.2</text>
<text x="40.2" y="84.75" text-anchor="end">0.3</text>
<text x="40.2" y="60.13" text-anchor="end">0.4</text>
<text x="40.2" y="35.52" text-anchor="end">0.5</text>
<text x="40.2" y="10.90" text-anchor="end">0.6</text>
<path d="M394.7 6.3V154.9H673.8" fill="none" stroke="#000" stroke-width="1.15"/>
<path d="M394.70 147.9V161.9M434.57 147.9V161.9M474.44 147.9V161.9M514.31 147.9V161.9M554.19 147.9V161.9M594.06 147.9V161.9M633.93 147.9V161.9M673.80 147.9V161.9M414.64 150.9V158.9M454.51 150.9V158.9M494.38 150.9V158.9M534.25 150.9V158.9M574.12 150.9V158.9M613.99 150.9V158.9M653.86 150.9V158.9M387.7 154.90H401.7M387.7 130.13H401.7M387.7 105.37H401.7M387.7 80.60H401.7M387.7 55.83H401.7M387.7 31.07H401.7M387.7 6.30H401.7M390.7 142.52H398.7M390.7 117.75H398.7M390.7 92.98H398.7M390.7 68.22H398.7M390.7 43.45H398.7M390.7 18.68H398.7" fill="none" stroke="#000" stroke-width="1.6"/>
<text x="394.70" y="173.9" text-anchor="middle">0</text>
<text x="434.57" y="173.9" text-anchor="middle">100</text>
<text x="474.44" y="173.9" text-anchor="middle">200</text>
<text x="514.31" y="173.9" text-anchor="middle">300</text>
<text x="554.19" y="173.9" text-anchor="middle">400</text>
<text x="594.06" y="173.9" text-anchor="middle">500</text>
<text x="633.93" y="173.9" text-anchor="middle">600</text>
<text x="673.80" y="173.9" text-anchor="middle">700</text>
<text x="385.9" y="159.90" text-anchor="end">0</text>
<text x="385.9" y="135.13" text-anchor="end">0.1</text>
<text x="385.9" y="110.37" text-anchor="end">0.2</text>
<text x="385.9" y="85.60" text-anchor="end">0.3</text>
<text x="385.9" y="60.83" text-anchor="end">0.4</text>
<text x="385.9" y="36.07" text-anchor="end">0.5</text>
<text x="385.9" y="11.30" text-anchor="end">0.6</text>
<path d="M49.2 196.6V344.0H325.9" fill="none" stroke="#000" stroke-width="1.15"/>
<path d="M49.20 337.0V351.0M118.38 337.0V351.0M187.55 337.0V351.0M256.73 337.0V351.0M325.90 337.0V351.0M83.79 340.0V348.0M152.96 340.0V348.0M222.14 340.0V348.0M291.31 340.0V348.0M42.2 344.00H56.2M42.2 319.43H56.2M42.2 294.87H56.2M42.2 270.30H56.2M42.2 245.73H56.2M42.2 221.17H56.2M42.2 196.60H56.2M45.2 331.72H53.2M45.2 307.15H53.2M45.2 282.58H53.2M45.2 258.02H53.2M45.2 233.45H53.2M45.2 208.88H53.2" fill="none" stroke="#000" stroke-width="1.6"/>
<text x="49.20" y="363.0" text-anchor="middle">0</text>
<text x="118.38" y="363.0" text-anchor="middle">50</text>
<text x="187.55" y="363.0" text-anchor="middle">100</text>
<text x="256.73" y="363.0" text-anchor="middle">150</text>
<text x="325.90" y="363.0" text-anchor="middle">200</text>
<text x="40.2" y="349.00" text-anchor="end">2.85</text>
<text x="40.2" y="324.43" text-anchor="end">2.9</text>
<text x="40.2" y="299.87" text-anchor="end">2.95</text>
<text x="40.2" y="275.30" text-anchor="end">3</text>
<text x="40.2" y="250.73" text-anchor="end">3.05</text>
<text x="40.2" y="226.17" text-anchor="end">3.1</text>
<text x="40.2" y="201.60" text-anchor="end">3.15</text>
<path d="M395.2 200.2V345.0H666.6" fill="none" stroke="#000" stroke-width="1.15"/>
<path d="M395.20 338.0V352.0M463.05 338.0V352.0M530.90 338.0V352.0M598.75 338.0V352.0M666.60 338.0V352.0M429.12 341.0V349.0M496.98 341.0V349.0M564.83 341.0V349.0M632.67 341.0V349.0M388.2 345.00H402.2M388.2 324.31H402.2M388.2 303.63H402.2M388.2 282.94H402.2M388.2 262.26H402.2M388.2 241.57H402.2M388.2 220.89H402.2M388.2 200.20H402.2M391.2 334.66H399.2M391.2 313.97H399.2M391.2 293.29H399.2M391.2 272.60H399.2M391.2 251.91H399.2M391.2 231.23H399.2M391.2 210.54H399.2" fill="none" stroke="#000" stroke-width="1.6"/>
<text x="395.20" y="364.0" text-anchor="middle">0</text>
<text x="463.05" y="364.0" text-anchor="middle">50</text>
<text x="530.90" y="364.0" text-anchor="middle">100</text>
<text x="598.75" y="364.0" text-anchor="middle">150</text>
<text x="666.60" y="364.0" text-anchor="middle">200</text>
<text x="386.1" y="350.00" text-anchor="end">270</text>
<text x="386.1" y="329.31" text-anchor="end">280</text>
<text x="386.1" y="308.63" text-anchor="end">290</text>
<text x="386.1" y="287.94" text-anchor="end">300</text>
<text x="386.1" y="267.26" text-anchor="end">310</text>
<text x="386.1" y="246.57" text-anchor="end">320</text>
<text x="386.1" y="225.89" text-anchor="end">330</text>
<text x="386.1" y="205.20" text-anchor="end">340</text>
<g font-size="13.6">
<text x="187.2" y="185.7" text-anchor="middle">Time (ns)</text>
<text x="534.2" y="187.8" text-anchor="middle">Residue</text>
<text x="187.5" y="375.6" text-anchor="middle">Time (ns)</text>
<text x="530.9" y="376.9" text-anchor="middle">Time (ns)</text>
</g><g font-size="14">
<text transform="translate(16.5,113.9) rotate(-90)">RMSD (nm)</text>
<text transform="translate(362.2,113.2) rotate(-90)">RMSF (nm)</text>
<text transform="translate(9.9,293.3) rotate(-90)">R<tspan dy="1.6">g</tspan><tspan dy="-1.6"> (nm)</tspan></text>
<text transform="translate(361.3,306.5) rotate(-90)">SASA (nm<tspan font-size="9.5" dy="-9.6">2</tspan><tspan dy="9.6" dx="-2.4">)</tspan></text>
</g>
<g font-weight="bold" font-size="12.5">
<text x="4.5" y="10">A</text><text x="345.3" y="10.2">B</text><text x="4.4" y="200.2">C</text><text x="345.3" y="199.5">D</text>
</g>
<text x="556.1" y="17.4" font-size="12">hTf</text>
<text x="556.1" y="31.6" font-size="12" fill="#ffb20f">hTf-Cinchonine</text>
</g></svg></body></html>
